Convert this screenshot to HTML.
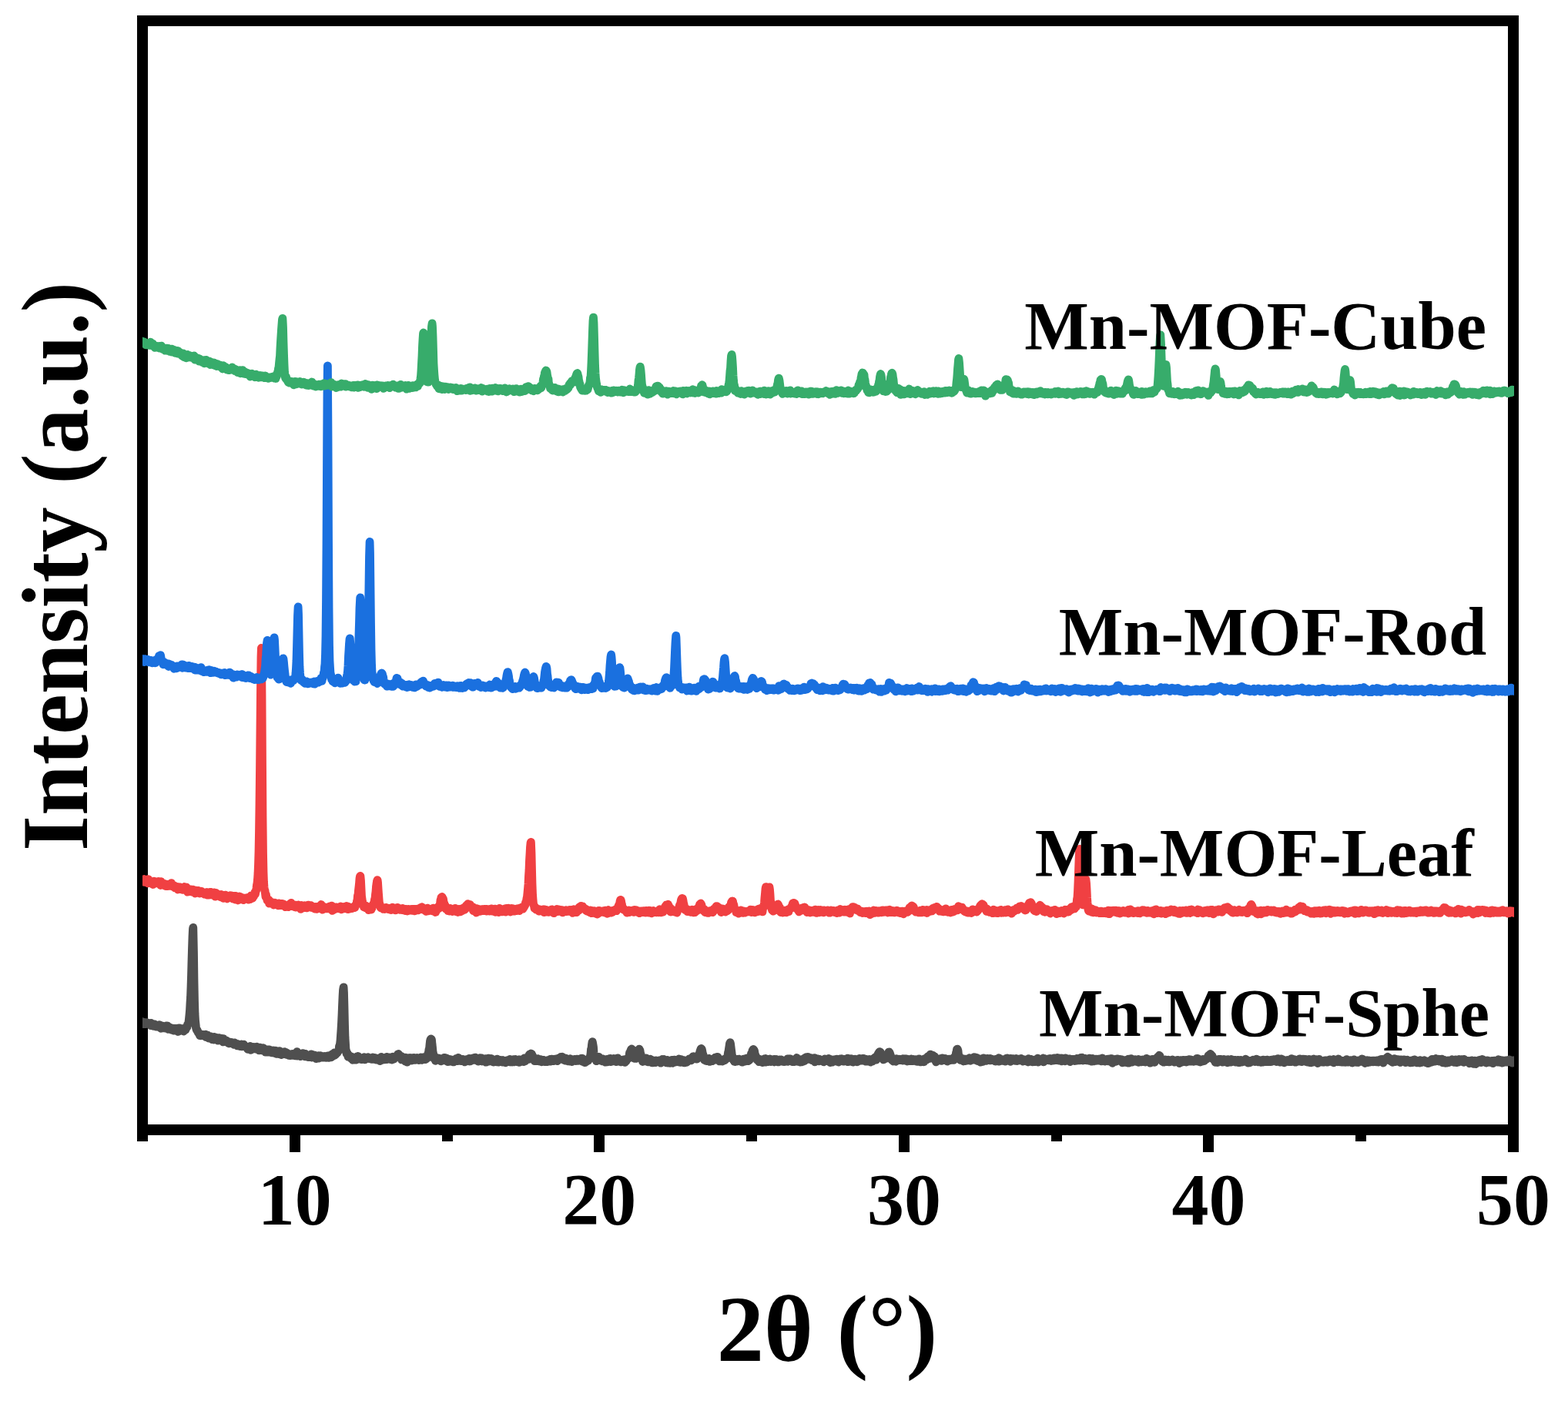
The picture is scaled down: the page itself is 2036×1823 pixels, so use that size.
<!DOCTYPE html>
<html lang="en"><head><meta charset="utf-8"><title>XRD patterns</title>
<style>
html,body{margin:0;padding:0;background:#fff;}
body{width:2036px;height:1823px;overflow:hidden;}
svg{display:block;}
text{font-family:"Liberation Serif","Times New Roman",serif;font-weight:bold;fill:#000;}
</style></head>
<body>
<svg width="2036" height="1823" viewBox="0 0 2036 1823" role="img" aria-label="XRD patterns of Mn-MOF samples">
<rect x="0" y="0" width="2036" height="1823" fill="#ffffff"/>
<g fill="#000" shape-rendering="crispEdges">
<rect x="178" y="20" width="1794" height="14"/>
<rect x="178" y="1460" width="1794" height="14"/>
<rect x="178" y="20" width="14" height="1462"/>
<rect x="1958" y="20" width="14" height="1476"/>
<rect x="178" y="1467" width="14" height="15"/>
<rect x="376" y="1467" width="14" height="29"/>
<rect x="574" y="1467" width="14" height="15"/>
<rect x="771" y="1467" width="14" height="29"/>
<rect x="969" y="1467" width="14" height="15"/>
<rect x="1167" y="1467" width="14" height="29"/>
<rect x="1365" y="1467" width="14" height="15"/>
<rect x="1562" y="1467" width="14" height="29"/>
<rect x="1760" y="1467" width="14" height="15"/>
<rect x="1958" y="1467" width="14" height="29"/>
</g>
<defs><clipPath id="plotclip"><rect x="185" y="0" width="1781" height="1823"/></clipPath></defs>
<g fill="none" stroke-width="10.8" stroke-linejoin="round" stroke-linecap="butt" clip-path="url(#plotclip)">
<path stroke="#4f4f4f" d="M177 1328.8
l.5 -2.2 .5 -.2 .5 -2.3 .5 3 .5 -.3 .5 -.2 .5 1 .5 .2 .5 -1.6 .5 .3 .5 .6 .5 1.3 .5 0 .5 -2 .5 .3 .5 2 .5 1 .5 -1.8 .5 -.7 .5 1.9 .5 -1.5 .5 1.2 .5 .9 .5 -.9 .5 -.6 .5 .9 .5 -1.4 .5 .7 .5 -.3 .5 .6 .5 -.1 .5 .5 .5 -.1 .5 .6 .5 .2 .5 .4 .5 1.3 .5 -3.1 .5 3.3 .5 -1.5 .5 -.9 .5 1.4 .5 .4 .5 1.3 .5 -2.2 .5 1.6 .5 0 .5 -1.9 .5 .6 .5 2 .5 .1 .5 .5 .5 -.6 .5 -.1 .5 -.3 .5 1.3 .5 -2.2 .5 .9 .5 .7 .5 -2.1
l.5 3.3 .5 -2.2 .5 .9 .5 2.6 .5 -3.2 .5 .4 .5 2.4 .5 -2.8 .5 .8 .5 1 .5 0 .5 .2 .5 -.2 .5 1.1 .5 -.3 .5 -.4 .5 -1.3 .5 .1 .5 -1.3 .5 3 .5 -2.7 .5 3.1 .5 1.2 .5 -3.1 .5 .5 .5 .4 .5 1.7 .5 -1.7 .5 1 .5 -.2 .5 .5 .5 1.9 .5 -2.3 .5 1.4 .5 .4 .5 .8 .5 -2.3 .5 2.8 .5 -.7 .5 .5 .5 -.8 .5 -1.9 .5 1 .5 1.6 .5 -.8 .5 -.1 .5 2 .5 .5 .5 -2.5 .5 2.2 .5 -4.3 .5 0 .5 3.2 .5 -1.2 .5 1 .5 -.1 .5 -.6 .5 .9 .5 -.6 .5 -1.9
l.5 1.9 .5 -.2 .5 1.7 .5 -3.5 .5 1 .5 -.9 .5 0 .5 1.5 .5 -2 .5 -1.5 .5 -.1 .5 -.1 .5 -3.1 .5 -.5 .5 .2 .5 -3.2 .5 -4.3 .5 -4.9 .5 -5.6 .5 -9.5 .5 -7.4 .5 -13.4 .5 -15.4 .5 -18.6 .5 -16.9 .5 -14.6 .5 -10.1 .3 -1.7 .7 33.9 .5 36.6 .5 24.9 .5 16.3 .5 8.6 .5 4.7 .5 5.2 .5 1.8 .5 1.4 .5 -.4 .5 1.1 .5 1.9 .5 .2 .5 1.1 .5 -.4 .5 1.8 .5 1.5 .5 0 .5 .2 .5 -1.5 .5 1.1 .5 -1.3 .5 1.5 .5 -1.3 .5 0 .5 0 .5 1.6 .5 -.4 .5 .1 .5 -1.3 .5 1.5 .5 -1.6
l.5 3.4 .5 -1.6 .5 .5 .5 -.1 .5 -1.3 .5 .5 .5 1.7 .5 1.9 .5 -2.6 .5 .7 .5 .9 .5 -1.6 .5 .2 .5 1.5 .5 .5 .5 -.3 .5 2.2 .5 -1.8 .5 .6 .5 1.4 .5 .1 .5 -3.6 .5 1.4 .5 1.8 .5 -2.7 .5 .6 .5 -.3 .5 .1 .5 .4 .5 1.6 .5 1.3 .5 .5 .5 -1.5 .5 -2 .5 2.3 .5 -.2 .5 .9 .5 -.4 .5 -1.8 .5 2.6 .5 -2.7 .5 1.7 .5 1.2 .5 .1 .5 1.5 .5 -4.2 .5 3 .5 .5 .5 -1 .5 1.1 .5 -1.8 .5 2.1 .5 0 .5 -1.5 .5 .5 .5 .7 .5 -.3 .5 2.1 .5 -.7 .5 1.5
l.5 .1 .5 -1 .5 -.1 .5 -.7 .5 .3 .5 .1 .5 1.3 .5 -1.3 .5 1.1 .5 .1 .5 -.7 .5 .4 .5 1.8 .5 .2 .5 -2.5 .5 .7 .5 -.1 .5 .3 .5 2.1 .5 -.7 .5 .9 .5 .7 .5 -2.2 .5 .5 .5 .5 .5 1.3 .5 -1.1 .5 1 .5 .7 .5 .1 .5 -.6 .5 -1.3 .5 -.8 .5 3 .5 -.7 .5 -1.5 .5 .5 .5 .2 .5 -1.3 .5 2.3 .5 -1 .5 .7 .5 1.3 .5 -.6 .5 .9 .5 .1 .5 -.2 .5 .3 .5 2.2 .5 -2 .5 2.3 .5 -2.6 .5 2 .5 -.4 .5 -.9 .5 -2 .5 4.8 .5 -3.1 .5 .2 .5 1.2
l.5 -.2 .5 .1 .5 -.7 .5 -1.4 .5 2.5 .5 -2.1 .5 1.2 .5 .3 .5 .7 .5 -1.5 .5 0 .5 .3 .5 -1.7 .5 1.4 .5 -.1 .5 0 .5 1.6 .5 -.4 .5 2.2 .5 0 .5 -3.6 .5 2.3 .5 -1.1 .5 1.8 .5 -.4 .5 1 .5 -.5 .5 .7 .5 -1 .5 -2.3 .5 1.7 .5 .5 .5 .6 .5 -.5 .5 3 .5 -1.9 .5 1.7 .5 -1.8 .5 2.2 .5 -3.2 .5 2 .5 -2.1 .5 2 .5 1.3 .5 -3.4 .5 .9 .5 1.4 .5 -.3 .5 -1.2 .5 2.9 .5 -1.1 .5 1.4 .5 -1 .5 -1.6 .5 .8 .5 2.1 .5 -3.1 .5 1.1 .5 1.2 .5 .5
l.5 -.1 .5 -2.5 .5 4.1 .5 -2.3 .5 .3 .5 .1 .5 -.1 .5 -.6 .5 .8 .5 2 .5 -2.9 .5 -1 .5 3.4 .5 -.2 .5 .6 .5 1.1 .5 -2.6 .5 1 .5 .4 .5 .7 .5 -.2 .5 -2.2 .5 -.6 .5 1.1 .5 -1.5 .5 3 .5 -1.7 .5 .1 .5 -.5 .5 2.8 .5 -1.2 .5 -.6 .5 1.3 .5 -.5 .5 1 .5 1 .5 -1.5 .5 1 .5 .1 .5 .8 .5 -.6 .5 -.6 .5 -.7 .5 1.1 .5 -1.5 .5 1.9 .5 -.6 .5 .5 .5 -1.2 .5 -.3 .5 -.1 .5 2.2 .5 -1.5 .5 0 .5 -1.7 .5 1.9 .5 -3.8 .5 5.4 .5 -1.8 .5 .4
l.5 -1.5 .5 .4 .5 2 .5 -.8 .5 .8 .5 1 .5 -.7 .5 -2.8 .5 1 .5 -.2 .5 .2 .5 -1.4 .5 0 .5 1.4 .5 .2 .5 1.3 .5 -.9 .5 2.1 .5 -3.4 .5 .6 .5 2 .5 -.5 .5 -.6 .5 2.1 .5 .4 .5 .3 .5 -1.8 .5 .5 .5 .3 .5 -.2 .5 1 .5 -1.6 .5 .9 .5 -2.9 .5 3.3 .5 .9 .5 -1.8 .5 1.2 .5 -2.9 .5 1.5 .5 -1.3 .5 2.2 .5 .3 .5 -2.1 .5 .7 .5 .3 .5 3.4 .5 -2.7 .5 .3 .5 .3 .5 0 .5 -.6 .5 -1.2 .5 .8 .5 2.5 .5 -1.5 .5 -.7 .5 -1.1 .5 1.5 .5 0
l.5 -.7 .5 1.6 .5 -1.7 .5 .5 .5 1 .5 -.7 .5 1 .5 -1.5 .5 -.2 .5 1 .5 -.3 .5 1.1 .5 -.8 .5 -.4 .5 .5 .5 .3 .5 -2 .5 1.1 .5 -.3 .5 1.7 .5 -1.9 .5 1.6 .5 -2.6 .5 1.3 .5 1.1 .5 -1.6 .5 1.4 .5 -3.7 .5 2 .5 -.1 .5 -.6 .5 -1.8 .5 2.1 .5 -3.6 .5 3.3 .5 -1 .5 .4 .5 -1.7 .5 -1.3 .5 .2 .5 -.4 .5 .6 .5 -1.7 .5 -.1 .5 -.9 .5 -.4 .5 -5.6 .5 -.8 .5 -2.1 .5 -4.4 .5 -7.1 .5 -7 .5 -8.8 .5 -10.2 .5 -12.3 .5 -11.3 .5 -8.8 .6 -3.8 .4 7 .5 19.2
l.5 22.3 .5 16.6 .5 8.1 .5 8.3 .5 .7 .5 4.1 .5 -.4 .5 -.3 .5 2.5 .5 2.3 .5 -2.1 .5 1.6 .5 -1.2 .5 .5 .5 1.8 .5 -.4 .5 1 .5 1 .5 -2.4 .5 .7 .5 .9 .5 2.7 .5 -2.9 .5 -.1 .5 1 .5 1.8 .5 -3 .5 .3 .5 .4 .5 .7 .5 1.6 .5 -3.8 .5 -.4 .5 2 .5 .5 .5 -2.9 .5 1.8 .5 1.8 .5 -1.5 .5 1.2 .5 -.3 .5 .6 .5 -.2 .5 -.3 .5 1.1 .5 -2.1 .5 .7 .5 1 .5 -1.9 .5 .1 .5 -.5 .5 -.3 .5 3.2 .5 -1.8 .5 1.5 .5 -1.3 .5 -.8 .5 -.4 .5 .6 .5 -.4
l.5 1.1 .5 -1.8 .5 1.2 .5 .5 .5 -.6 .5 .2 .5 1 .5 .2 .5 -.6 .5 .2 .5 -.5 .5 1.2 .5 -.7 .5 -1.7 .5 1.3 .5 .9 .5 -.4 .5 -1.4 .5 1.7 .5 -.1 .5 0 .5 1 .5 -2 .5 1.2 .5 -.9 .5 1.5 .5 .3 .5 -.6 .5 .3 .5 -1.6 .5 1.7 .5 -1.9 .5 3.7 .5 -1 .5 -3 .5 -1.3 .5 4.3 .5 -2.5 .5 1.4 .5 -2.1 .5 1.3 .5 -.9 .5 1.3 .5 -1.2 .5 1.9 .5 -2.5 .5 2.2 .5 -1.4 .5 .6 .5 -2.3 .5 -.1 .5 3.1 .5 -2.4 .5 1 .5 0 .5 -.6 .5 1.2 .5 -1.8 .5 .3 .5 2.3
l.5 -2 .5 1.7 .5 -.1 .5 .9 .5 -1.3 .5 -2.5 .5 1.2 .5 .2 .5 1.6 .5 -1.1 .5 -1.2 .5 .6 .5 -1.3 .5 .4 .5 -1.1 .5 .3 .5 -1.5 .5 -.1 .5 -1.4 .5 -.1 .4 -.2 .6 .7 .5 .7 .5 .7 .5 .8 .5 1.1 .5 1.5 .5 -2.4 .5 4.3 .5 -3.7 .5 2.6 .5 -.1 .5 1.2 .5 -.5 .5 -.2 .5 .2 .5 1 .5 1.6 .5 -2.1 .5 -2.7 .5 1.8 .5 .9 .5 3.2 .5 -4.6 .5 .4 .5 .9 .5 -.3 .5 -1.9 .5 2.5 .5 -2.5 .5 1.1 .5 1.8 .5 -2.9 .5 1.2 .5 2.2 .5 -2.1 .5 -.8 .5 .5 .5 1.6 .5 -2.7
l.5 1 .5 -1 .5 .3 .5 2.6 .5 -1.5 .5 -.5 .5 .9 .5 -1.3 .5 -.5 .5 2.6 .5 -.3 .5 -1.9 .5 1.7 .5 .9 .5 -1.1 .5 .1 .5 -1.9 .5 1.2 .5 -1.9 .5 3.3 .5 -1.5 .5 1.7 .5 -2.4 .5 1.8 .5 -2.8 .5 1.3 .5 .9 .5 -.3 .5 -.5 .5 -1.9 .5 3.1 .5 -1 .5 .3 .5 -.5 .5 -2.3 .5 -.1 .5 1.2 .5 -5.7 .5 -.9 .5 -4 .5 -.8 .5 -5.4 .5 -4.6 .5 -2 .7 -.9 .3 .1 .5 1.3 .5 5.4 .5 4.2 .5 5.5 .5 2.2 .5 3.5 .5 3.2 .5 -2.2 .5 .5 .5 2.9 .5 1.8 .5 -3.4 .5 -.8 .5 1.7
l.5 0 .5 1.3 .5 -1.8 .5 1 .5 .1 .5 -1.3 .5 .1 .5 2.3 .5 .2 .5 -1.4 .5 2.6 .5 -.7 .5 -.6 .5 .1 .5 -.3 .5 .3 .5 .1 .5 -1 .5 -2.4 .5 2.1 .5 -.8 .5 -.4 .5 2 .5 -2.6 .5 3 .5 -1.6 .5 -.6 .5 .5 .5 3.7 .5 -.9 .5 -1.8 .5 1.6 .5 .8 .5 -2.9 .5 .7 .5 1.3 .5 -.6 .5 -.9 .5 2.1 .5 -1.3 .5 .2 .5 1.7 .5 -2.2 .5 2.4 .5 -2.6 .5 -.5 .5 .3 .5 .9 .5 -.2 .5 -.3 .5 -2.1 .5 .5 .5 .9 .5 1.1 .5 .8 .5 -4.3 .5 2.5 .5 -.3 .5 .4 .5 .4
l.5 -1.1 .5 -.5 .5 2.8 .5 -.2 .5 -1.2 .5 .5 .5 -.6 .5 -.7 .5 2.4 .5 -1.5 .5 -.5 .5 .6 .5 2.5 .5 -1.4 .5 -.2 .5 -.2 .5 .8 .5 -.2 .5 -2.3 .5 1.2 .5 -.5 .5 1 .5 -.4 .5 -2.2 .5 3.5 .5 -1 .5 -2.4 .5 3.2 .5 -1.2 .5 .3 .5 -.7 .5 .1 .5 -.9 .5 -1.4 .5 1.1 .5 .8 .5 -.2 .5 .7 .5 -.9 .5 -2.4 .5 3.4 .5 -1.7 .5 -.5 .5 1.2 .5 -1.1 .5 1.9 .5 -1.4 .5 3.3 .5 -2.5 .5 -.3 .5 -.1 .5 -1.6 .5 1.4 .5 .2 .5 .6 .5 -2.1 .5 2.7 .5 1.5 .5 -1.8 .5 .5
l.5 .6 .5 -1.3 .5 .4 .5 1.6 .5 -.9 .5 -1.7 .5 -.7 .5 4.5 .5 -2.2 .5 -2.3 .5 1.8 .5 .5 .5 -.7 .5 -2.2 .5 4.1 .5 -1.4 .5 -.8 .5 1 .5 -.9 .5 0 .5 1.5 .5 -3.1 .5 3.5 .5 -.6 .5 .6 .5 .2 .5 .8 .5 0 .5 -.6 .5 -1.4 .5 1.3 .5 -1.3 .5 -.6 .5 1.6 .5 -.1 .5 .9 .5 -3.7 .5 3.1 .5 .1 .5 -.6 .5 1.5 .5 -2.6 .5 1.3 .5 -.8 .5 .3 .5 -1.1 .5 .9 .5 .9 .5 -.6 .5 .3 .5 -1.2 .5 2.6 .5 -2.5 .5 .9 .5 .7 .5 -.8 .5 1.1 .5 -.6 .5 1.8 .5 -1.3
l.5 -.2 .5 -1.4 .5 1.3 .5 .5 .5 -.7 .5 -1.7 .5 .4 .5 .2 .5 .2 .5 -1.7 .5 3.6 .5 -2.3 .5 .2 .5 -.6 .5 .4 .5 2.3 .5 -3.2 .5 .6 .5 -.5 .5 .6 .5 2.4 .5 -2.3 .5 .3 .5 -1.5 .5 1.7 .5 .8 .5 -.8 .5 .2 .5 1.4 .5 -.3 .5 -.7 .5 -.8 .5 -.9 .5 3.4 .5 -3.6 .5 2.3 .5 -1 .5 -.7 .5 1.7 .5 -1.9 .5 2.1 .5 -2.6 .5 1.5 .5 .8 .5 -2.6 .5 3.3 .5 -1.4 .5 -3.5 .5 3.8 .5 .4 .5 -2.5 .5 -.1 .5 .4 .5 -2.7 .5 2 .5 .5 .5 -2.1 .5 1.2 .5 .6 .5 -5.5
l.5 -.7 .5 .3 .5 .6 .5 -1.1 .5 -.8 .3 .1 .7 .3 .5 3.3 .5 -1.3 .5 1.7 .5 2.8 .5 -.5 .5 -.1 .5 3.1 .5 -.9 .5 -1 .5 .5 .5 1.5 .5 -1.4 .5 .7 .5 .7 .5 .1 .5 -3.1 .5 1.5 .5 .2 .5 .5 .5 .8 .5 .5 .5 -1.8 .5 -.7 .5 1.5 .5 -.9 .5 2.6 .5 -1.5 .5 -.3 .5 1.1 .5 -1.8 .5 .4 .5 .2 .5 1 .5 .7 .5 -.5 .5 0 .5 -1 .5 .7 .5 -.7 .5 1.5 .5 -2 .5 .6 .5 .3 .5 .5 .5 -1.7 .5 .5 .5 -.7 .5 -.7 .5 2.7 .5 -.8 .5 -2.2 .5 .5 .5 1.6
l.5 -1.3 .5 -.6 .5 2.4 .5 -2 .5 0 .5 1 .5 -1.5 .5 .7 .5 .1 .5 .6 .5 -1.7 .5 2 .5 -.9 .5 1.6 .5 -1.8 .5 -1 .5 -.2 .5 -.9 .5 .9 .5 -.4 .5 .7 .5 -1.3 .5 -1.3 .5 1.3 .5 -1.2 .4 -.1 .6 1 .5 1.1 .5 -1.4 .5 1.3 .5 2.1 .5 .1 .5 0 .5 .7 .5 -3.1 .5 2.2 .5 -1.2 .5 .9 .5 .3 .5 .9 .5 .7 .5 -.5 .5 -.5 .5 -.7 .5 1.8 .5 -1.1 .5 -2.2 .5 1.9 .5 .7 .5 -1.5 .5 1.3 .5 1.4 .5 -1.9 .5 .2 .5 0 .5 -1.1 .5 .5 .5 -.7 .5 .8 .5 -.7
l.5 2 .5 -1.2 .5 1 .5 -2.3 .5 1.3 .5 .7 .5 .1 .5 -1.5 .5 .5 .5 .2 .5 -.6 .5 0 .5 1 .5 -1.8 .5 -.7 .5 1.6 .5 1 .5 -2.7 .5 4.2 .5 -1.2 .5 .7 .5 -1.5 .5 1 .5 2.1 .5 .1 .5 -1.4 .5 -1.1 .5 .1 .5 1.5 .5 -2.4 .5 -.5 .5 .7 .5 .9 .5 -2.5 .5 1.1 .5 -.6 .5 -1.3 .5 -1.8 .5 -.9 .5 -3.3 .5 -5.8 .5 -.7 .5 -5.3 .5 -3.1 .3 -.6 .7 3.9 .5 3.1 .5 7.1 .5 4.7 .5 2.6 .5 .1 .5 -1 .5 1.8 .5 1 .5 1.8 .5 -3.3 .5 1.7 .5 .5 .5 -.1 .5 -1
l.5 -3.1 .5 3.7 .5 -.6 .5 .4 .5 -1.6 .5 .6 .5 2.3 .5 -1.6 .5 .3 .5 -.5 .5 2.5 .5 -3 .5 1.5 .5 1.3 .5 -.4 .5 1.1 .5 -.4 .5 1.2 .5 -1.9 .5 .1 .5 .4 .5 -2.3 .5 3.4 .5 -2.7 .5 2.2 .5 .2 .5 -.6 .5 -1 .5 -1 .5 -1.7 .5 3 .5 -.9 .5 2.2 .5 -2.3 .5 1.1 .5 -1.2 .5 .9 .5 -.9 .5 .2 .5 -1.9 .5 1.3 .5 .6 .5 1.7 .5 -1.1 .5 -1.6 .5 3.3 .5 -1.3 .5 1 .5 -2.1 .5 -2.5 .5 3 .5 -.2 .5 1.5 .5 -2 .5 .7 .5 -.6 .5 1.5 .5 -1.3 .5 2.5 .5 -.8
l.5 -.1 .5 -1.3 .5 .5 .5 .6 .5 -1.9 .5 2.4 .5 -1.5 .5 1.5 .5 1.1 .5 -.8 .5 -3.1 .5 2.4 .5 -1.9 .5 -.3 .5 -.2 .5 -1.5 .5 1 .5 -1.9 .5 1 .5 -2.2 .5 -4.8 .5 0 .5 -1.9 .5 -1.3 .5 -1.3 .7 -.6 .3 .2 .5 1 .5 3.6 .5 2.9 .5 1.2 .5 2.9 .5 .3 .5 -.5 .5 .4 .5 .3 .5 .1 .5 -1.2 .5 -.2 .5 -1.1 .5 -4.1 .5 -2 .5 -.7 .5 -1.2 .5 -1.1 .5 -.6 .5 .8 .5 .9 .5 3.6 .5 1.3 .5 3.3 .5 2.2 .5 -.6 .5 1.3 .5 3.5 .5 -3.2 .5 .5 .5 -.5 .5 -.2 .5 2.8
l.5 -1.7 .5 .1 .5 -.1 .5 -2.2 .5 4 .5 -1.4 .5 .6 .5 1.6 .5 -1.6 .5 .3 .5 .1 .5 1.3 .5 -2.9 .5 .9 .5 -1.8 .5 2.5 .5 .7 .5 -1.2 .5 2.7 .5 -1.1 .5 1.1 .5 -1.9 .5 1.8 .5 -2.6 .5 1.1 .5 -.3 .5 -.6 .5 2.3 .5 -.3 .5 -2.3 .5 1.5 .5 -.7 .5 .1 .5 .4 .5 -1.2 .5 .7 .5 .1 .5 -1 .5 .1 .5 1.5 .5 -.9 .5 2.6 .5 -.2 .5 -3.1 .5 1.2 .5 -2.6 .5 1.6 .5 -.3 .5 .2 .5 -1.6 .5 2.7 .5 -.1 .5 -1.1 .5 .9 .5 1.1 .5 .9 .5 -3.2 .5 3.3 .5 -3.6 .5 1.1
l.5 .6 .5 2.2 .5 -1 .5 0 .5 1.1 .5 -1.5 .5 -.7 .5 2.1 .5 -1.9 .5 -1.2 .5 -.6 .5 2.1 .5 1.8 .5 -1.4 .5 -.9 .5 1.2 .5 -3.1 .5 2 .5 -1.2 .5 2 .5 -2.5 .5 1.7 .5 -.7 .5 -.2 .5 .7 .5 -.9 .5 1.8 .5 -1.8 .5 -2.1 .5 4.2 .5 -.1 .5 -.8 .5 1 .5 -.7 .5 -1.6 .5 -1.3 .5 1.2 .5 .9 .5 .9 .5 -2.1 .5 .6 .5 2.7 .5 -2.5 .5 -.1 .5 -.3 .5 2.8 .5 -1.1 .5 -.1 .5 .7 .5 -1 .5 .3 .5 -1.3 .5 .4 .5 -.4 .5 -.2 .5 -2.2 .5 .9 .5 -.4 .5 -.6 .5 .4
l.5 1.7 .5 -1.3 .5 -1.3 .5 -.2 .5 .2 .5 -2.4 .5 -.1 .5 .9 .5 1.7 .5 -.1 .5 .1 .5 -2.2 .5 1.5 .5 .9 .5 .5 .5 -.1 .5 -3.3 .5 1.4 .5 0 .5 -2.2 .5 -.8 .5 -.9 .5 -2.2 .5 -2.1 .5 -1.4 .5 -1.3 .5 -.7 .5 .3 .5 1.5 .5 2.5 .5 2.9 .5 .6 .5 2.6 .5 1.8 .5 2.6 .5 -.3 .5 -.4 .5 1.4 .5 -.6 .5 .2 .5 .9 .5 -.7 .5 -.2 .5 .7 .5 -1.4 .5 .7 .5 -2.3 .5 1.9 .5 2.2 .5 -2.1 .5 .4 .5 -.4 .5 -.7 .5 1.6 .5 -.6 .5 1 .5 -2.3 .5 .7 .5 -.7 .5 -.7
l.5 1.5 .5 -2.5 .5 -.4 .5 3 .5 -3.2 .5 -.3 .5 -.1 .5 -.2 .5 1.1 .5 -1.1 .5 1.3 .5 .3 .5 2.6 .5 -.4 .5 1.7 .5 0 .5 -2.4 .5 1.4 .5 -1 .5 -.1 .5 2 .5 .3 .5 -1.4 .5 .2 .5 0 .5 -.1 .5 0 .5 -1.7 .5 1.6 .5 -1.6 .5 -.9 .5 .6 .5 -.2 .5 -.4 .5 -1.9 .5 -2 .5 -3.5 .5 -1.8 .5 -3.5 .5 -3.2 .5 -3.4 .6 -1.2 .4 1.3 .5 4 .5 4.1 .5 3.7 .5 4.7 .5 -.1 .5 2.6 .5 1.2 .5 1.6 .5 -.6 .5 2.1 .5 -3.4 .5 3.7 .5 -1.3 .5 .7 .5 -1.5 .5 1.7 .5 -1.5
l.5 .7 .5 -1.9 .5 2.2 .5 -.4 .5 -2.2 .5 1.9 .5 -.3 .5 1.3 .5 -1.7 .5 1 .5 1.2 .5 -2.4 .5 3.1 .5 -1.8 .5 -.5 .5 -1.3 .5 -.4 .5 2.9 .5 -1.6 .5 -.3 .5 1.8 .5 -.6 .5 -.7 .5 -1.9 .5 -.7 .5 3.1 .5 -1.3 .5 -.4 .5 2.2 .5 -2.9 .5 .6 .5 1.5 .5 -2.3 .5 -2.1 .5 -1.3 .5 1 .5 -4.2 .5 .6 .5 -.9 .5 -3.5 .5 -.6 .5 -1.1 .3 -.1 .7 1.1 .5 .8 .5 3.1 .5 1.9 .5 1 .5 2 .5 .1 .5 1.4 .5 2.3 .5 -2.2 .5 2.8 .5 0 .5 -.4 .5 2.4 .5 -.7 .5 -1.3 .5 1
l.5 .8 .5 -2.8 .5 1.9 .5 -.5 .5 .6 .5 1.8 .5 -3 .5 .3 .5 -.9 .5 1.6 .5 .5 .5 -3.4 .5 4.4 .5 .2 .5 -4.7 .5 1.2 .5 2.2 .5 -.5 .5 1.2 .5 -1.7 .5 1.7 .5 -3 .5 1.9 .5 -1 .5 -.1 .5 -1.4 .5 1.5 .5 2 .5 -2.2 .5 .5 .5 .5 .5 -1.2 .5 1.4 .5 .4 .5 -.9 .5 -1.7 .5 3.7 .5 -1.6 .5 -.1 .5 -.3 .5 -.4 .5 -1.2 .5 1.7 .5 .2 .5 .9 .5 .7 .5 -2.6 .5 2.6 .5 -1.7 .5 .6 .5 -1.8 .5 1.6 .5 -1.4 .5 1.8 .5 -2 .5 1.5 .5 -.5 .5 .9 .5 -.1 .5 0
l.5 -.7 .5 1.5 .5 -.3 .5 -1.5 .5 1.6 .5 -1.6 .5 .8 .5 -.3 .5 -.1 .5 .8 .5 -3 .5 3.3 .5 -3.5 .5 3.2 .5 -.9 .5 -2.3 .5 1.9 .5 -.8 .5 -.9 .5 2.7 .5 0 .5 -.7 .5 1.5 .5 -1.5 .5 -.3 .5 1.9 .5 -2.2 .5 1.9 .5 .4 .5 -.9 .5 -.1 .5 .4 .5 -.3 .5 -1.1 .5 -3.2 .5 3.3 .5 -1.1 .5 2.6 .5 -1.7 .5 .7 .5 .5 .5 .2 .5 -2.2 .5 3.4 .5 -1.4 .5 -.4 .5 -1.7 .5 3.2 .5 -1.6 .5 .4 .5 -1.8 .5 2.3 .5 -.7 .5 -2 .5 2 .5 -3.8 .5 1.8 .5 -.6 .5 -.4 .5 -1.9
l.5 .1 .5 .8 .5 -.8 .4 -.3 .6 .2 .5 .2 .5 2.5 .5 -1.1 .5 .1 .5 -1 .5 .6 .5 1.2 .5 -.7 .5 2.1 .5 .2 .5 -.7 .5 .6 .5 .3 .5 -1.9 .5 2.6 .5 -4 .5 5.2 .5 -3.9 .5 1.6 .5 -.4 .5 .8 .5 -1.2 .5 1.5 .5 -2.3 .5 2.7 .5 -1.2 .5 .8 .5 .7 .5 -2.5 .5 .7 .5 -.2 .5 .6 .5 .3 .5 .6 .5 -.6 .5 -.4 .5 .8 .5 .5 .5 -.1 .5 1.3 .5 -3.1 .5 .9 .5 -1.8 .5 .7 .5 1.4 .5 .7 .5 -1.9 .5 1.1 .5 -.4 .5 .6 .5 -.2 .5 -.7 .5 -1.8 .5 1 .5 2.2
l.5 -.5 .5 2.5 .5 -2.2 .5 1 .5 -2.4 .5 -.2 .5 1.7 .5 1.6 .5 -1.5 .5 -.9 .5 .7 .5 .2 .5 -.3 .5 -.5 .5 -1.2 .5 -.2 .5 .7 .5 .4 .5 -1.4 .5 3.2 .5 -1.2 .5 -1.3 .5 1.4 .5 1.8 .5 -2.4 .5 0 .5 .9 .5 -2.6 .5 .9 .5 -.2 .5 1.8 .5 -2.7 .5 2.2 .5 -.9 .5 .3 .5 -.3 .5 2.2 .5 -2.6 .5 -.3 .5 1.6 .5 -1 .5 1.2 .5 -.7 .5 .1 .5 0 .5 -1.9 .5 -.4 .5 4.5 .5 -3.6 .5 1.8 .5 -1.8 .5 1.1 .5 -.3 .5 1.9 .5 -1.8 .5 -1.4 .5 .2 .5 2 .5 .8 .5 1.3
l.5 .3 .5 -3.8 .5 1.5 .5 -1.2 .5 1.7 .5 .7 .5 -2.9 .5 3 .5 -.2 .5 -1.1 .5 -.5 .5 2.4 .5 -2 .5 -1.2 .5 1.3 .5 .9 .5 -.4 .5 -3 .5 .6 .5 1 .5 .5 .5 -.1 .5 -1.6 .5 2.4 .5 -.6 .5 -2.3 .5 .7 .5 .9 .5 -1.5 .5 1.7 .5 .1 .5 -.6 .5 1.1 .5 1.4 .5 -2.7 .5 1.3 .5 -.9 .5 2.3 .5 -.2 .5 -1.2 .5 -.6 .5 1.6 .5 -.9 .5 -1.3 .5 .2 .5 .9 .5 2.5 .5 -1.3 .5 .2 .5 -.6 .5 .4 .5 .1 .5 -2.9 .5 1.8 .5 0 .5 -.2 .5 -.1 .5 -3.4 .5 2.9 .5 -2
l.5 2.2 .5 -2.1 .5 -.5 .5 -.6 .5 -3.3 .5 .7 .5 -2.6 .5 .9 .5 -2.5 .5 -.6 .4 .1 .6 .4 .5 .5 .5 2.4 .5 1.4 .5 1.8 .5 -.4 .5 2.9 .5 -.4 .5 1.6 .5 -1 .5 -1.7 .5 2.2 .5 -1.6 .5 .3 .5 -3.2 .5 .9 .5 2.3 .5 -1.1 .5 -4.1 .5 1.2 .5 -1.1 .5 -.3 .5 -2.6 .6 -.1 .4 .6 .5 1 .5 1.8 .5 1.4 .5 3.9 .5 -1.2 .5 2.9 .5 .2 .5 -1 .5 2 .5 .4 .5 -.9 .5 -.6 .5 1 .5 -1.6 .5 1.3 .5 1.1 .5 -3.2 .5 -.5 .5 2.8 .5 -1.8 .5 .4 .5 .6 .5 -.9 .5 .8
l.5 -1.3 .5 .4 .5 .4 .5 .6 .5 -1.2 .5 .7 .5 .2 .5 -.1 .5 -.8 .5 1.6 .5 -2.3 .5 2 .5 0 .5 0 .5 -1.5 .5 1.8 .5 -.4 .5 -1.7 .5 1 .5 -1 .5 1.9 .5 1.2 .5 -.5 .5 -2.2 .5 0 .5 .9 .5 .1 .5 1 .5 -1.2 .5 1.6 .5 -1.7 .5 1.7 .5 -2.7 .5 1.1 .5 .6 .5 1 .5 -.3 .5 -1.5 .5 -.4 .5 1.4 .5 0 .5 -.3 .5 .5 .5 -1.5 .5 2.1 .5 .5 .5 -2.1 .5 0 .5 2.3 .5 -.2 .5 -2.2 .5 .1 .5 -1.3 .5 2.3 .5 -.4 .5 -.2 .5 2.4 .5 -2.7 .5 .1 .5 .4
l.5 -.5 .5 1.4 .5 -1.4 .5 .3 .5 2.3 .5 -3.2 .5 -.8 .5 1.4 .5 -1 .5 -.2 .5 .7 .5 .5 .5 -2.9 .5 1.1 .5 -2.4 .5 2.9 .5 -2.5 .5 1.4 .5 .8 .5 -.9 .5 -1.5 .5 -3 .5 3.8 .5 -2.4 .5 .4 .4 -.1 .6 0 .5 2.1 .5 -2.6 .5 1 .5 1.7 .5 2.2 .5 -3.4 .5 4.6 .5 -1.5 .5 1.5 .5 2.4 .5 -2.2 .5 .7 .5 .3 .5 -1.9 .5 .4 .5 -.4 .5 .4 .5 -.6 .5 -.3 .5 -.1 .5 1.4 .5 -2.3 .5 1.6 .5 1.4 .5 -3 .5 -.4 .5 2.7 .5 -1.6 .5 .1 .5 1.5 .5 -.3 .5 -1.1 .5 .4
l.5 -1.2 .5 1 .5 .6 .5 .7 .5 .1 .5 1.3 .5 -2 .5 1.1 .5 -.8 .5 -1.3 .5 1.4 .5 0 .5 .3 .5 -.3 .5 -.4 .5 -1.2 .5 .5 .5 .6 .5 .2 .5 .1 .5 -.7 .5 .1 .5 .6 .5 -1.7 .5 -1.4 .5 -1.9 .5 .3 .5 -1.2 .5 -3.5 .5 -.8 .5 -3.6 .6 -.4 .4 .7 .5 1.6 .5 5.2 .5 .8 .5 1.3 .5 .3 .5 3.6 .5 .8 .5 -2.3 .5 -.2 .5 1.2 .5 .5 .5 -.5 .5 1.2 .5 -1.7 .5 3.4 .5 -1.9 .5 .8 .5 -1.5 .5 1.5 .5 .8 .5 -2.6 .5 1 .5 1 .5 -.6 .5 -1.3 .5 .4 .5 1.2
l.5 -.3 .5 -1.1 .5 1.1 .5 -2.8 .5 2.5 .5 1 .5 -.1 .5 -1.5 .5 .6 .5 -.1 .5 -.5 .5 -1 .5 -.8 .5 .7 .5 -.8 .5 -1.1 .5 3.6 .5 -2.9 .5 .9 .5 0 .5 -1.1 .5 2.5 .5 -2.1 .5 4.1 .5 -3.3 .5 .9 .5 .8 .5 .2 .5 .2 .5 1.3 .5 .3 .5 1.1 .5 -3.9 .5 2.3 .5 -.6 .5 -1.2 .5 -1.3 .5 4.1 .5 -1.4 .5 -3.3 .5 3.7 .5 -1.1 .5 -.1 .5 .7 .5 -1.5 .5 .6 .5 1.3 .5 -2.4 .5 -.3 .5 -.4 .5 2.5 .5 -2.1 .5 .6 .5 -.3 .5 1.1 .5 -.3 .5 -1.4 .5 2.5 .5 -1.1 .5 0
l.5 -.7 .5 .2 .5 .2 .5 .5 .5 .6 .5 .1 .5 -.6 .5 .2 .5 1 .5 .6 .5 .1 .5 -1.4 .5 -1.4 .5 1.6 .5 -.1 .5 -.1 .5 .4 .5 -1.2 .5 .7 .5 -2.8 .5 4.5 .5 -1.9 .5 -.4 .5 1 .5 -.8 .5 -.5 .5 1.7 .5 -.8 .5 -.8 .5 1.5 .5 -.2 .5 0 .5 -.8 .5 1.6 .5 -2.3 .5 1.9 .5 .7 .5 -2.8 .5 1.2 .5 -2.4 .5 1.9 .5 -2 .5 .3 .5 1.6 .5 .9 .5 -.7 .5 -.8 .5 -.6 .5 .9 .5 2.8 .5 -1 .5 -2.9 .5 .8 .5 -.7 .5 2.2 .5 -.8 .5 -1.4 .5 1.6 .5 -.4 .5 -.6
l.5 .8 .5 1.3 .5 -2.1 .5 .6 .5 -1.3 .5 1.1 .5 1.9 .5 -1 .5 -1.5 .5 .1 .5 2 .5 -1.6 .5 -.4 .5 1.8 .5 -1.7 .5 -.3 .5 1.3 .5 -1.8 .5 1 .5 -.3 .5 1.1 .5 -.3 .5 2.2 .5 -1.2 .5 -.8 .5 .6 .5 -.8 .5 .5 .5 .4 .5 0 .5 1.1 .5 -.8 .5 -1.3 .5 1.1 .5 -1.4 .5 3.5 .5 -4.3 .5 2 .5 .7 .5 -1.6 .5 .5 .5 1.6 .5 -2.5 .5 2.3 .5 -1.3 .5 -.1 .5 2.6 .5 -1.4 .5 -.4 .5 -.7 .5 .5 .5 -.4 .5 2.2 .5 -1.9 .5 -1 .5 .2 .5 1 .5 -1.7 .5 .4 .5 -.9
l.5 -.7 .5 5 .5 -2.7 .5 2.2 .5 -1.4 .5 -.3 .5 -1.7 .5 1.1 .5 .2 .5 -1.3 .5 1.7 .5 .5 .5 -.9 .5 -.4 .5 -2.1 .5 4.9 .5 -2.2 .5 -2.2 .5 .1 .5 .6 .5 -.3 .5 1.2 .5 -1 .5 1.2 .5 -.6 .5 .3 .5 -.9 .5 1.5 .5 .2 .5 -1.2 .5 -.9 .5 1.8 .5 -2.1 .5 1 .5 1.3 .5 .8 .5 -1.8 .5 .5 .5 1 .5 -2.7 .5 .5 .5 .8 .5 1.1 .5 -2.9 .5 0 .5 2.4 .5 .3 .5 -2 .5 .8 .5 1 .5 -1.3 .5 -1.8 .5 2.4 .5 .9 .5 -2.4 .5 2.9 .5 -1.7 .5 -1.6 .5 2.3 .5 -1.9
l.5 3.2 .5 -1 .5 1.4 .5 -3.9 .5 2 .5 1.4 .5 -.3 .5 -.6 .5 -.3 .5 .3 .5 .5 .5 .9 .5 -4 .5 .9 .5 .5 .5 .8 .5 .2 .5 -.8 .5 .3 .5 .9 .5 .5 .5 -2.3 .5 .6 .5 .4 .5 2.7 .5 -3.5 .5 1 .5 -.3 .5 -.5 .5 1.5 .5 -1.1 .5 -.4 .5 .7 .5 .3 .5 -.9 .5 -.1 .5 2.2 .5 -1.9 .5 1.7 .5 -1.1 .5 -.8 .5 -.3 .5 -.7 .5 2.6 .5 -.1 .5 -1.3 .5 -.9 .5 .5 .5 .6 .5 1.1 .5 -2.2 .5 -1.2 .5 2 .5 -.6 .5 -.6 .5 -1.1 .5 2.8 .5 1 .5 -2.6 .5 -.4
l.5 1.2 .5 .4 .5 1.1 .5 -.4 .5 -1.9 .5 2.3 .5 .1 .5 -.8 .5 .9 .5 -1.8 .5 1.1 .5 -1.2 .5 1.5 .5 .8 .5 -3.1 .5 2.1 .5 .7 .5 -.7 .5 1.4 .5 -1.9 .5 2.4 .5 -2.4 .5 -1.5 .5 1.1 .5 -.5 .5 2.1 .5 .5 .5 .2 .5 -.9 .5 -.8 .5 -.4 .5 -.4 .5 2.1 .5 -2 .5 1.2 .5 .5 .5 .2 .5 -2.1 .5 0 .5 0 .5 2.1 .5 -2.4 .5 .2 .5 1.6 .5 .3 .5 1 .5 -2 .5 1 .5 -2.9 .5 2.7 .5 .3 .5 .2 .5 -1.5 .5 2.2 .5 .3 .5 -1.7 .5 .1 .5 -.4 .5 .1 .5 .4
l.5 -1.4 .5 -.1 .5 1.3 .5 -.3 .5 1.7 .5 -1.3 .5 -.8 .5 -1 .5 1.6 .5 -.9 .5 -.8 .5 4.1 .5 -4.2 .5 4 .5 1.7 .5 -3.3 .5 -.6 .5 1.3 .5 -1.7 .5 1.2 .5 .5 .5 -2.3 .5 3 .5 -1.7 .5 .1 .5 1.1 .5 -3.1 .5 .1 .5 1.7 .5 .1 .5 -.6 .5 .3 .5 -.1 .5 -.7 .5 -.2 .5 .7 .5 1.1 .5 .4 .5 -1.8 .5 3.4 .5 .7 .5 -2.4 .5 -1.1 .5 .7 .5 1.1 .5 -1 .5 2.2 .5 -2.4 .5 1.3 .5 -.5 .5 1.9 .5 -2.1 .5 0 .5 -1.6 .5 .5 .5 -1.3 .5 5 .5 -3.6 .5 -.4 .5 .3
l.5 .4 .5 .2 .5 -2.5 .5 3.5 .5 -1.3 .5 0 .5 2.2 .5 -1.6 .5 -1.2 .5 0 .5 1.8 .5 -.8 .5 .1 .5 -1.7 .5 1.6 .5 -1 .5 -.1 .5 2.3 .5 -1.1 .5 -.6 .5 1.5 .5 1.1 .5 -3.8 .5 2.8 .5 -.7 .5 -.3 .5 1.6 .5 -.6 .5 -1.4 .5 1.9 .5 -1.6 .5 .2 .5 -1.4 .5 1.5 .5 .6 .5 -1 .5 .4 .5 1.3 .5 -1.6 .5 -.7 .5 2.5 .5 -2.8 .5 -1.9 .5 1.1 .5 .9 .5 -1.2 .5 0 .5 .7 .5 .3 .5 -.1 .5 .3 .5 1.3 .5 2.6 .5 -2.3 .5 -.6 .5 -1.4 .5 .9 .5 -1.3 .5 1.2 .5 -1.2
l.5 2.4 .5 1.1 .5 -1.4 .5 1.8 .5 -4.3 .5 2.1 .5 -1.4 .5 .1 .5 -1.8 .5 .6 .5 -.7 .5 -1.5 .5 1.1 .5 -1.4 .5 -.9 .6 -.9 .4 .2 .5 .4 .5 3.2 .5 1.6 .5 0 .5 0 .5 1.5 .5 .7 .5 .3 .5 -.8 .5 1.6 .5 .1 .5 -2.5 .5 1.3 .5 -.4 .5 -1.6 .5 .7 .5 .9 .5 1 .5 -2.1 .5 .5 .5 .3 .5 -.1 .5 -1 .5 2.6 .5 -1.1 .5 .9 .5 .2 .5 -1.2 .5 -.7 .5 .3 .5 .1 .5 -.4 .5 .4 .5 -1.3 .5 1 .5 -.3 .5 .9 .5 .2 .5 1.4 .5 -.7 .5 -.6 .5 -.7 .5 .1
l.5 .3 .5 -.6 .5 .4 .5 -1 .5 1.5 .5 -1.4 .5 .6 .5 0 .5 3.5 .5 -2.6 .5 1 .5 -2.4 .5 2.1 .5 -1 .5 1.4 .5 -1.5 .5 -.9 .5 2.1 .5 -.8 .5 -1.6 .5 1.3 .5 -.9 .5 1.7 .5 -.7 .5 .3 .5 -1.6 .5 2.5 .5 -2.2 .5 .9 .5 -.6 .5 .3 .5 -1.5 .5 1.3 .5 .3 .5 -1.9 .5 2.5 .5 -2.3 .5 .5 .5 -.1 .5 2 .5 -1.8 .5 .1 .5 .8 .5 -.1 .5 1.1 .5 -1.7 .5 -.2 .5 -.2 .5 -.1 .5 1.7 .5 -.3 .5 -1 .5 .2 .5 -2.3 .5 3.4 .5 -.5 .5 -2.8 .5 1.8 .5 .5 .5 1.8
l.5 -1.2 .5 1.1 .5 .5 .5 -1 .5 -1.8 .5 -.4 .5 1.1 .5 1.1 .5 -.5 .5 -2 .5 2.2 .5 -2 .5 .4 .5 1.4 .5 -1.2 .5 -.9 .5 -.5 .5 .6 .5 -.2 .5 -.9 .5 -1.2 .5 .7 .5 -.2 .5 -3 .5 1.2 .5 -2.1 .5 -.3 .5 .5 .5 -1.5 .5 .2 .5 .9 .5 1.5 .5 -.7 .5 .6 .5 3.7 .5 -.1 .5 .9 .5 -1.3 .5 2.4 .5 -1.5 .5 1.7 .5 2.5 .5 -.6 .5 .4 .5 -1.7 .5 .4 .5 -.9 .5 2.6 .5 -2.9 .5 -1.1 .5 1 .5 1.7 .5 -1.8 .5 .7 .5 -1.8 .5 .9 .5 -.8 .5 .3 .5 .9 .5 1
l.5 1.5 .5 -1.4 .5 -1.8 .5 0 .5 -.4 .5 1.7 .5 -.9 .5 .8 .5 -.9 .5 2.9 .5 -2.1 .5 1.2 .5 -1.2 .5 2.8 .5 -4.2 .5 2.2 .5 .9 .5 -1.5 .5 1 .5 -1.1 .5 1.3 .5 -1.3 .5 2 .5 -3.6 .5 2.7 .5 -1.4 .5 .1 .5 1.2 .5 -1.3 .5 -.1 .5 1.5 .5 -1.9 .5 1 .5 1.5 .5 -2 .5 2.3 .5 -2.5 .5 1.6 .5 -.2 .5 -1.6 .5 2.5 .5 -2.4 .5 3.1 .5 .1 .5 -2.4 .5 .8 .5 -.4 .5 -1.4 .5 .6 .5 .8 .5 0 .5 1.3 .5 -2 .5 -.1 .5 1.3 .5 .1 .5 -1.1 .5 .5 .5 -.9 .5 .5
l.5 -2.1 .5 .4 .5 3 .5 -1.6 .5 -.5 .5 1.8 .5 1.8 .5 -1.2 .5 -.6 .5 -.5 .5 2.1 .5 -.1 .5 -1.7 .5 -.7 .5 .5 .5 .4 .5 -.8 .5 -.4 .5 -.1 .5 -.9 .5 1.3 .5 .6 .5 -1.8 .5 .4 .5 2 .5 -2 .5 1.3 .5 -1.7 .5 -1 .5 2.5 .5 .3 .5 -.5 .5 -.3 .5 1.7 .5 -1.9 .5 -.5 .5 1.2 .5 .9 .5 -.7 .5 .8 .5 .7 .5 -2.6 .5 .8 .5 -.1 .5 1 .5 -2.4 .5 2.9 .5 -2.6 .5 2 .5 -.8 .5 -.1 .5 1 .5 -2 .5 2 .5 -1.1 .5 -1.2 .5 2.5 .5 -2.5 .5 1.9 .5 -1.2
l.5 -.1 .5 1.8 .5 -1.3 .5 -.6 .5 1.2 .5 -1.6 .5 2.3 .5 -2.5 .5 1.3 .5 -1.2 .5 1.4 .5 -1.7 .5 .9 .5 .9 .5 -2.1 .5 1.3 .5 .7 .5 -.9 .5 .3 .5 1.2 .5 .3 .5 -2.7 .5 .8 .5 -2 .5 2.8 .5 .7 .5 -1.8 .5 -.4 .5 1.7 .5 -1.1 .5 2.7 .5 -.7 .5 -3.6 .5 2.8 .5 0 .5 .2 .5 -.7 .5 -1.4 .5 1.9 .5 -.5 .5 2.7 .5 -1.2 .5 .8 .5 -2.4 .5 1.2 .5 -.3 .5 -.7 .5 .5 .5 -1.3 .5 1.8 .5 -1.2 .5 1.1 .5 .2 .5 -.8 .5 -.6 .5 1.6 .5 0 .5 -1.5 .5 1.6 .5 -4.1
l.5 3 .5 .3 .5 -.6 .5 -1.8 .5 1.8 .5 1 .5 -.7 .5 -1.8 .5 1.6 .5 1.8 .5 -.5 .5 .3 .5 -1.7 .5 .8 .5 -.8 .5 -.1 .5 -1.2 .5 1.2 .5 1 .5 -1 .5 -2.3 .5 2.7 .5 -1.9 .5 1.7 .5 -1.4 .5 2.6 .5 -2 .5 1.4 .5 -2.8 .5 1.4 .5 .3 .5 -1.7 .5 1 .5 0 .5 .8 .5 .1 .5 -1.7 .5 3.2 .5 -.4 .5 -1.1 .5 1.9 .5 -1.2 .5 -.2 .5 -.8 .5 -1.4 .5 3.2 .5 .9 .5 -.7 .5 -.2 .5 1.3 .5 -4 .5 2.3 .5 1.2 .5 -2.4 .5 2.2 .5 -2.5 .5 -.3 .5 -1.4 .5 2.8 .5 .3
l.5 -.2 .5 -.3 .5 .6 .5 -1 .5 -1.6 .5 2.2 .5 .3 .5 2.4 .5 -3.5 .5 .6 .5 -2.1 .5 -.1 .5 .7 .5 2.9 .5 -1.4 .5 .1 .5 -.6 .5 1 .5 .8 .5 -.2 .5 -.6 .5 .3 .5 .3 .5 .4 .5 -.4 .5 -.7 .5 -1.2 .5 1.6 .5 -.2 .5 -.1 .5 -.4 .5 -.9 .5 2.4 .5 -1.9 .5 .6 .5 -.6 .5 -.9 .5 2.1 .5 -2.6 .5 1.6 .5 -.5 .5 .4 .5 -1.2 .5 2.2 .5 .3 .5 -.6 .5 -1.3 .5 -.8 .5 3.8 .5 -4.3 .5 .9 .5 1.8 .5 .2 .5 -1.9 .5 1.8 .5 -2 .5 2.2 .5 -.3 .5 -.6 .5 1.2
l.5 -.9 .5 -2.9 .5 3.5 .5 -.5 .5 .8 .5 -1.2 .5 1.2 .5 -1.2 .5 .9 .5 .6 .5 -1.5 .5 -.1 .5 .8 .5 .8 .5 -.5 .5 -.3 .5 .6 .5 -.4 .5 -1.7 .5 2.5 .5 -.1 .5 -.4 .5 -3.1 .5 3.1 .5 -2.6 .5 1.1 .5 -.2 .5 2 .5 -.7 .5 -1 .5 .7 .5 -1.1 .5 -.4 .5 2 .5 .3 .5 -.8 .5 1.8 .5 .2 .5 -2.4 .5 .7 .5 .2 .5 -2.7 .5 3.3 .5 -.3 .5 -.7 .5 -.4 .5 -.4 .5 1.9 .5 -2.2 .5 1.1 .5 -.5 .5 1.6 .5 .2 .5 -1.5 .5 -.1 .5 -1.3 .5 .2 .5 1.5 .5 .1 .5 -.4
l.5 -1.3 .5 .3 .5 -2.1 .5 3 .5 -2.6 .5 .7 .5 1 .5 2.2 .5 -2.3 .5 2.1 .5 1.5 .5 -1.3 .5 -.1 .5 -2 .5 1 .5 -1.5 .5 2.4 .5 -.1 .5 .8 .5 -1.5 .5 .2 .5 -1.4 .5 1.4 .5 .8 .5 -.7 .5 .3 .5 -.7 .5 .4 .5 -.3 .5 -1.1 .5 .9 .5 .9 .5 -.4 .5 -.6 .5 -.8 .5 1.4 .5 -1.2 .5 .3 .5 .8 .5 .4 .5 -1.8 .5 .1 .5 1.2 .5 -1.2 .5 2.1 .5 -.8 .5 -1 .5 -1.3 .5 2 .5 -.7 .5 -1.8 .5 .7 .5 .8 .5 1 .5 -2.8 .5 2 .5 .3 .5 2.4 .5 -2.2 .5 -.1
l.5 -.4 .5 .1 .5 -.1 .5 -1.4 .5 .1 .5 .7 .5 -3.2 .5 -.1 .5 -.7 .3 -.3 .7 .5 .5 .2 .5 2.5 .5 1.1 .5 -.2 .5 -.1 .5 .3 .5 .5 .5 1.1 .5 -.7 .5 1.2 .5 .6 .5 -2.5 .5 2.2 .5 -.4 .5 -1.6 .5 -2.5 .5 1.5 .5 1.8 .5 -2.9 .5 3.5 .5 -2.4 .5 1.2 .5 -1.1 .5 .3 .5 .7 .5 -1.5 .5 1 .5 -.2 .5 1.4 .5 -1.8 .5 3.4 .5 -.3 .5 -3.2 .5 0 .5 .8 .5 1 .5 .2 .5 .1 .5 .1 .5 -1.1 .5 -1.3 .5 .2 .5 .6 .5 -.5 .5 3.5 .5 -3 .5 1.9 .5 -.4 .5 -1.6
l.5 -.3 .5 1.2 .5 .8 .5 -.6 .5 1.6 .5 -1.9 .5 0 .5 .9 .5 1.7 .5 -1.4 .5 1 .5 -2.7 .5 1.5 .5 -.8 .5 2.1 .5 -3.1 .5 .7 .5 -1.1 .5 -.3 .5 2.2 .5 -.2 .5 -1.5 .5 2.2 .5 -1 .5 .2 .5 2.2 .5 -1.1 .5 .4 .5 .5 .5 -1.3 .5 -.6 .5 2 .5 .3 .5 -3.5 .5 .7 .5 0 .5 0 .5 2.3 .5 -1.8 .5 0 .5 .5 .5 .4 .5 -.7 .5 .5 .5 -1.9 .5 1.6 .5 -.9 .5 .9 .5 1.5 .5 -.9 .5 -.4 .5 1.6 .5 .6 .5 -1.2 .5 -1.4 .5 2.5 .5 -1.5 .5 -1.1 .5 1.5 .5 -1.3
l.5 0 .5 -.7 .5 0 .5 1.7 .5 -3.7 .5 3.2 .5 0 .5 -.4 .5 -1 .5 -1.5 .5 1.1 .5 .6 .5 .7 .5 -1.4 .5 -2.2 .5 1.3 .5 -.3 .5 2 .5 -.2 .5 -.2 .5 -.3 .5 -1.7 .5 1.7 .5 1.4 .5 -2.2 .5 .1 .5 -.6 .5 1 .5 .9 .5 -2.3 .5 2.5 .5 -1.4 .5 3.7 .5 -2.6 .5 1 .5 -2.1 .5 3.1 .5 -.8 .5 -.4 .5 2.2 .5 -1.7 .5 -.4 .5 2 .5 -2.2 .5 1 .5 -1.5 .5 -.6 .5 2.8 .5 -1.3 .5 .6 .5 -.1 .5 -.9 .5 .4 .5 -1.1 .5 .1 .5 .9 .5 -2.6 .5 2.2 .5 -1 .5 1.1
l.5 -1.2 .5 2.6 .5 -.6 .5 -1.5 .5 1.5 .5 -2.9 .5 .5 .5 2.2 .5 1.1 .5 -2 .5 .8 .5 -.7 .5 1.4 .5 -2.5 .5 -1.2 .5 .8 .5 .9 .5 .5 .5 -1.3 .5 2 .5 -2.8 .5 2 .5 -1.3 .5 .7 .5 -.1 .5 1.9 .5 .6 .5 -4.1 .5 2 .5 .8 .5 -1.3 .5 .8 .5 .1 .5 1 .5 -1.6 .5 1.7 .5 -1 .5 .3 .5 -.7 .5 .6 .5 .2 .5 2.6 .5 -1.7 .5 -.6 .5 -.3 .5 -1 .5 2.1 .5 -2.5 .5 .6 .5 1.8 .5 -1.6 .5 -.3 .5 4.1 .5 -4.1 .5 .8 .5 -1 .5 1.6 .5 1 .5 1.8 .5 -1.5
l.5 -.8 .5 -.7 .5 1.3 .5 -1.5 .5 .7 .5 -2.3 .5 2.1 .5 -2.2 .5 1.1 .5 -1.6 .5 .5 .5 3 .5 -1.4 .5 -1.4 .5 2.4 .5 -3.7 .5 2.2 .5 -1.4 .5 2.1 .5 .3 .5 -1.3 .5 -.1 .5 -.3 .5 1.9 .5 -.8 .5 2 .5 -1.7 .5 -.1 .5 -1.3 .5 .1 .5 1.9 .5 -1 .5 1.4 .5 -.4 .5 -1.4 .5 .2 .5 1.6 .5 -.2 .5 0 .5 -1.9 .5 1.1 .5 -1.1 .5 3.4 .5 -2.9 .5 .3 .5 -.3 .5 -.6 .5 1.6 .5 -1.2 .5 .8 .5 .5 .5 -.5 .5 -.5 .5 1.2 .5 -.8 .5 -1.4 .5 -1.2 .5 1 .5 1.4 .5 1.2
l.5 -2.2 .5 .8 .5 -1.4 .5 2.1 .5 1.1 .5 -2.9 .5 1 .5 2.3 .5 -2.7 .5 -.4 .5 .9 .5 .4 .5 -.6 .5 .1 .5 1.3 .5 -2.3 .5 2.2 .5 -2 .5 1.7 .5 .4 .5 -1.3 .5 -.6 .5 -.7 .5 -.2 .5 2.3 .5 -2.6 .5 1.9 .5 -.5 .5 1.5 .5 -1.7 .5 2.1 .5 -1.6 .5 2.4 .5 -2.7 .5 0 .5 -.6 .5 2.4 .5 -1.7 .5 1.6 .5 -1.5 .5 -1.1 .5 3.1 .5 -.2 .5 -1.8 .5 1.4 .5 -3.2 .5 2.9 .5 -1.3 .5 .6 .5 -.6 .5 .5 .5 -.5"/>
<path stroke="#f04042" d="M177 1142.2
l.5 -1.5 .5 2.9 .5 -1.3 .5 -.2 .5 -.5 .5 2.3 .5 -2.2 .5 2.1 .5 -1.3 .5 .8 .5 -.2 .5 .9 .5 .3 .5 -2 .5 2.3 .5 -.4 .5 .3 .5 .5 .5 -3.4 .5 3.7 .5 -3.8 .5 1.1 .5 1.1 .5 .8 .5 -.3 .5 -.2 .5 .3 .5 -1.7 .5 1.4 .5 2.9 .5 -5.3 .5 2.6 .5 .3 .5 -.7 .5 1 .5 .4 .5 -.2 .5 .4 .5 -.9 .5 2 .5 -1.2 .5 -.4 .5 3.6 .5 -2.9 .5 .1 .5 -1.6 .5 2.5 .5 -1.6 .5 .4 .5 1.5 .5 -.2 .5 -1.5 .5 1.4 .5 -.2 .5 -.6 .5 -.9 .5 1.6 .5 -2.1 .5 2.2 .5 -.3
l.5 -1.2 .5 .3 .5 4.1 .5 -4.8 .5 2.6 .5 -.2 .5 1.1 .5 .1 .5 .9 .5 0 .5 -.6 .5 -1.3 .5 1.4 .5 1 .5 .1 .5 .8 .5 -1.4 .5 -1.1 .5 .8 .5 .9 .5 .8 .5 0 .5 -.3 .5 -2.2 .5 .8 .5 1.1 .5 -.3 .5 .6 .5 -2.2 .5 2.1 .5 -3.6 .5 2.6 .5 .8 .5 -.3 .5 1.5 .5 -1 .5 .5 .5 .9 .5 -1.6 .5 2.8 .5 -2.2 .5 1.6 .5 -.3 .5 -.5 .5 .8 .5 .4 .5 -.7 .5 3.1 .5 -3.3 .5 1.3 .5 1.4 .5 -.5 .5 .7 .5 -2.8 .5 1.5 .5 .3 .5 1.3 .5 -2.4 .5 .8 .5 2.1
l.5 -1.6 .5 0 .5 -.5 .5 1.5 .5 -3.3 .5 1.3 .5 .4 .5 1 .5 0 .5 -2.1 .5 2.6 .5 -.8 .5 4.3 .5 -3.3 .5 1.7 .5 -1.6 .5 .5 .5 -.5 .5 2 .5 .6 .5 -2.7 .5 2 .5 .3 .5 .7 .5 -2.1 .5 2.3 .5 -3 .5 1.6 .5 -.8 .5 .2 .5 1.6 .5 -.5 .5 2.8 .5 -3.2 .5 -.6 .5 2.3 .5 -.9 .5 -.6 .5 2.1 .5 .3 .5 -3.1 .5 1.2 .5 1.8 .5 -2.1 .5 2.8 .5 -2 .5 .7 .5 -.2 .5 -1.3 .5 1.1 .5 -.4 .5 .4 .5 1.9 .5 -.3 .5 -.9 .5 .7 .5 1.5 .5 -1.6 .5 -.3 .5 1.4
l.5 -1.4 .5 -.7 .5 3.4 .5 -3.3 .5 1.4 .5 .3 .5 -.8 .5 2.5 .5 .1 .5 -1.7 .5 -2.1 .5 2.2 .5 -2.3 .5 2.7 .5 .4 .5 -.5 .5 1.1 .5 -1.1 .5 -1.1 .5 .7 .5 1.9 .5 -3.6 .5 2.9 .5 -1.6 .5 4.1 .5 -4.1 .5 -.7 .5 3.8 .5 0 .5 -1.7 .5 .7 .5 -1.2 .5 1.3 .5 1.2 .5 -.6 .5 -.3 .5 -.6 .5 2 .5 .8 .5 -.3 .5 -3 .5 1.7 .5 -1 .5 .6 .5 .9 .5 2.7 .5 -2.6 .5 -.2 .5 -.5 .5 1.4 .5 -2.4 .5 2.8 .5 .3 .5 -2 .5 3 .5 .8 .5 -3.4 .5 1.8 .5 -1.4 .5 -.3
l.5 1.8 .5 -.6 .5 -1.9 .5 -.3 .5 2 .5 -1.9 .5 .2 .5 1.2 .5 -.2 .5 1 .5 2 .5 -3.7 .5 3.3 .5 -3.2 .5 1.7 .5 1.2 .5 1.7 .5 -4.6 .5 4 .5 -1.9 .5 .5 .5 .6 .5 1.6 .5 .8 .5 -2.3 .5 -1 .5 -.2 .5 -1.5 .5 .8 .5 3 .5 -3.1 .5 .5 .5 .8 .5 -.1 .5 -.2 .5 -.1 .5 .6 .5 2.4 .5 -.7 .5 -.6 .5 -.9 .5 1 .5 .2 .5 -1.3 .5 -.4 .5 1.5 .5 -1.3 .5 -.1 .5 .7 .5 -.2 .5 -1.1 .5 2.8 .5 -1.6 .5 -.6 .5 .9 .5 .7 .5 -1.7 .5 -3.1 .5 1.4 .5 1
l.5 0 .5 1 .5 -1.5 .5 -1.4 .5 .6 .5 -2.4 .5 .9 .5 -4 .5 2.3 .5 -3.4 .5 -.7 .5 -3.4 .5 -4.2 .5 -2.4 .5 -5 .5 -7.4 .5 -11.6 .5 -16.8 .5 -26.1 .5 -36.1 .5 -43.5 .5 -53.9 .5 -52.6 .5 -40.7 .4 -11.5 .6 60.2 .5 88.8 .5 71.6 .5 45.4 .5 24.3 .5 13.2 .5 7.3 .5 3.5 .5 .5 .5 4.1 .5 4.4 .5 -2.8 .5 3.8 .5 .3 .5 3.2 .5 -.4 .5 -.1 .5 1 .5 -1.4 .5 4.7 .5 -1.1 .5 -1.4 .5 .6 .5 1.6 .5 -1.2 .5 0 .5 2 .5 -.9 .5 .7 .5 .8 .5 -1.9 .5 2.8 .5 -.5 .5 -2.2 .5 -.2
l.5 1.6 .5 .3 .5 -1.2 .5 .5 .5 .1 .5 -.1 .5 .8 .5 1.3 .5 .5 .5 -3 .5 .8 .5 -.6 .5 .7 .5 -.3 .5 2 .5 -.4 .5 -1.7 .5 2.3 .5 -2.2 .5 1 .5 .6 .5 -.9 .5 -.3 .5 1.4 .5 .8 .5 -.8 .5 2.3 .5 -1 .5 -1.2 .5 1.5 .5 -1.1 .5 .8 .5 .2 .5 -.3 .5 1.1 .5 -1.7 .5 .2 .5 -1 .5 -1.5 .5 1 .5 .7 .5 -3 .5 3.3 .5 .2 .5 .9 .5 -.7 .5 1 .5 -1.2 .5 -.3 .5 1.2 .5 -1.7 .5 2.8 .5 -2.7 .5 3 .5 -2.2 .5 .2 .5 -.6 .5 1 .5 .5 .5 -1.8
l.5 -.3 .5 2 .5 -1.6 .5 2.3 .5 .6 .5 -2 .5 4.2 .5 -3.7 .5 -1.2 .5 3.3 .5 -1.5 .5 -1.1 .5 .5 .5 1.7 .5 .3 .5 -1.8 .5 -1.2 .5 .6 .5 1.4 .5 -.7 .5 .4 .5 0 .5 1.5 .5 -2.1 .5 .4 .5 -2.1 .5 2.2 .5 -1.6 .5 1.2 .5 1 .5 -.6 .5 .6 .5 -2.3 .5 2.1 .5 .7 .5 -.2 .5 .5 .5 -1.3 .5 1.6 .5 -1.3 .5 .3 .5 1.5 .5 .6 .5 -.6 .5 -2.1 .5 .9 .5 -.2 .5 .6 .5 1.7 .5 -.6 .5 -2.6 .5 1.6 .5 -.2 .5 -1.1 .5 .3 .5 1.7 .5 -1.5 .5 0 .5 -.3 .5 -3.2
l.5 4 .5 .9 .5 1.4 .5 .4 .5 -3.7 .5 1.1 .5 -.5 .5 1 .5 -1.5 .5 1.5 .5 .4 .5 0 .5 -.3 .5 .7 .5 -1.4 .5 -.3 .5 .4 .5 -.2 .5 .7 .5 .8 .5 -1.3 .5 -1.8 .5 .1 .5 2.4 .5 .3 .5 0 .5 -3.4 .5 3.9 .5 2.3 .5 -3 .5 -.2 .5 1.5 .5 -2.1 .5 -.4 .5 2.5 .5 -2.5 .5 1.8 .5 -1.5 .5 .1 .5 -.7 .5 1.4 .5 -.6 .5 -.2 .5 -.3 .5 -.2 .5 1.9 .5 -.3 .5 .2 .5 -2.3 .5 1.7 .5 -2.3 .5 3.6 .5 .3 .5 -.5 .5 -1 .5 .1 .5 -.8 .5 -.7 .5 1.8 .5 .2
l.5 -1.7 .5 -1.1 .5 .9 .5 .1 .5 -.3 .5 -1.3 .5 .4 .5 1.7 .5 2.1 .5 -3.6 .5 1.8 .5 -.5 .5 .8 .5 -.3 .5 1.2 .5 -1.2 .5 -.8 .5 1 .5 -.2 .5 .7 .5 -.4 .5 -.1 .5 -.9 .5 -.4 .5 -.4 .5 .2 .5 .8 .5 -.2 .5 -2.9 .5 -.4 .5 -.8 .5 .7 .5 -4.8 .5 -1.4 .5 -5.8 .5 -.9 .5 -6.1 .5 -4.2 .5 -4.4 .5 -6.8 .5 -2.7 .4 -.3 .6 5.8 .5 10.3 .5 9.9 .5 3.6 .5 3.5 .5 2.7 .5 .2 .5 1.9 .5 2.6 .5 -1.7 .5 -.3 .5 2.4 .5 .5 .5 -2.7 .5 2.7 .5 -.5 .5 1.1 .5 -1.2
l.5 .4 .5 -.7 .5 3.7 .5 -1.9 .5 .1 .5 -.2 .5 -.8 .5 1.2 .5 -1.1 .5 2.1 .5 -2.2 .5 .5 .5 -3.7 .5 .4 .5 -.6 .5 -2.2 .5 -.3 .5 -1.9 .5 -3.2 .5 -1.1 .5 -5.4 .5 -3.7 .5 -6.7 .5 -3.2 .5 -3.8 .6 -1.3 .4 2.8 .5 7.9 .5 7 .5 6.6 .5 6.1 .5 .7 .5 2 .5 2.6 .5 .4 .5 -1 .5 .3 .5 .6 .5 -.2 .5 .5 .5 1.5 .5 -.8 .5 0 .5 -.4 .5 1.3 .5 -1.5 .5 1.1 .5 -1.8 .5 .9 .5 .7 .5 -.9 .5 .9 .5 -.1 .5 -.6 .5 1.4 .5 -.3 .5 -.7 .5 .8 .5 .8 .5 -1.9
l.5 -.2 .5 2.4 .5 -2 .5 .4 .5 -1.8 .5 2.2 .5 .5 .5 -1.9 .5 1.9 .5 -1.9 .5 .9 .5 1.7 .5 .4 .5 -2 .5 1.6 .5 -2.1 .5 1.7 .5 -2.7 .5 2.3 .5 -.8 .5 -.8 .5 1 .5 -.1 .5 .3 .5 1 .5 -1.6 .5 .1 .5 .8 .5 -.5 .5 .6 .5 -1.3 .5 2.2 .5 -1.9 .5 2.1 .5 0 .5 -1.6 .5 1.6 .5 .8 .5 -1.7 .5 .8 .5 -1.4 .5 2.2 .5 -1 .5 1.5 .5 -.6 .5 -1.1 .5 -1 .5 1.9 .5 .2 .5 -1.6 .5 1.3 .5 -.5 .5 -.8 .5 -.5 .5 .8 .5 1.2 .5 -2 .5 .9 .5 .1 .5 -.6
l.5 -.2 .5 1.6 .5 .8 .5 -1.4 .5 -1 .5 1.2 .5 -.5 .5 .5 .5 -1.6 .5 1.8 .5 -1.6 .5 1.5 .5 -1.5 .5 -.7 .5 .1 .5 .7 .5 -.1 .5 .5 .5 -2.5 .5 .7 .5 .6 .5 -1.9 .5 2.1 .5 1.1 .5 -1 .5 .9 .5 -.5 .5 .8 .5 -1 .5 2.4 .5 -.2 .5 -.6 .5 1.7 .5 -1.4 .5 -.8 .5 -2.1 .5 1 .5 1.8 .5 .9 .5 -2.3 .5 1.5 .5 -1.7 .5 .4 .5 -.3 .5 .3 .5 -.1 .5 .8 .5 -1.6 .5 3.1 .5 -1 .5 -2.8 .5 .4 .5 4.1 .5 -3.6 .5 1.8 .5 -1.8 .5 4.5 .5 -5.2 .5 3.6 .5 -1.5
l.5 -1 .5 -.2 .5 -1.1 .5 -1.9 .5 2.1 .5 .4 .5 -3.9 .5 -.9 .5 -1.5 .5 -4.7 .5 -.9 .5 -2.7 .5 .2 .5 -.8 .5 1 .5 1.7 .5 .1 .5 3.5 .5 1.7 .5 1 .5 2.1 .5 1.6 .5 -1.1 .5 4.2 .5 -1.5 .5 .2 .5 1.9 .5 -1.5 .5 3.1 .5 -.4 .5 -1.1 .5 1.7 .5 .3 .5 -2.1 .5 -1.6 .5 .4 .5 .9 .5 1.6 .5 -.2 .5 -.8 .5 2.3 .5 -2.4 .5 1.1 .5 -1.9 .5 .6 .5 .9 .5 1.2 .5 -3.6 .5 4.2 .5 -2.6 .5 2.4 .5 -1.4 .5 -1.3 .5 .6 .5 3.2 .5 -2.6 .5 -.4 .5 -1.2 .5 .3 .5 2.6
l.5 .2 .5 .4 .5 -1.7 .5 -1.2 .5 -.9 .5 2.7 .5 -2.3 .5 -1.2 .5 1 .5 0 .5 1.2 .5 -1.6 .5 1.4 .5 -.9 .5 -1 .5 -3.2 .5 -.4 .5 2 .5 0 .5 .5 .5 -4.5 .5 2 .5 -.7 .5 -.1 .7 -.4 .3 -.1 .5 .3 .5 1.1 .5 1.9 .5 -1.1 .5 1.3 .5 .6 .5 1.7 .5 -2.4 .5 4.8 .5 -1.1 .5 -1.2 .5 1 .5 -.1 .5 -.3 .5 .6 .5 3.1 .5 .4 .5 -5.4 .5 2.6 .5 .2 .5 -1.5 .5 1 .5 .1 .5 .3 .5 -1.7 .5 .4 .5 2.3 .5 -.4 .5 0 .5 -.2 .5 -2.1 .5 1.7 .5 -1.2 .5 1.3
l.5 -1.4 .5 .9 .5 -1.6 .5 2.4 .5 -1.6 .5 .5 .5 -1.3 .5 2.6 .5 -.5 .5 .8 .5 -2.7 .5 1.7 .5 -.6 .5 -.3 .5 .9 .5 -.9 .5 1.8 .5 -2.7 .5 .3 .5 .1 .5 1.7 .5 -1.9 .5 -.8 .5 2.2 .5 1.1 .5 -2.1 .5 1.2 .5 -.7 .5 .9 .5 .3 .5 -2.6 .5 4.2 .5 -2.1 .5 1.3 .5 -.1 .5 -2.2 .5 2.9 .5 -2.3 .5 -.7 .5 1.6 .5 1.9 .5 -.8 .5 -4.4 .5 2.3 .5 .5 .5 -.6 .5 -.5 .5 .4 .5 -.5 .5 2.9 .5 -1.5 .5 -1.5 .5 1.3 .5 1.3 .5 -2.2 .5 1.5 .5 -2.8 .5 .8 .5 3.3 .5 -3
l.5 -1.6 .5 3.1 .5 -1.9 .5 1.4 .5 -1.2 .5 -1.7 .5 3.8 .5 -1.9 .5 -1.7 .5 3.2 .5 -1.2 .5 2.6 .5 -1.3 .5 -.9 .5 -2.3 .5 .1 .5 1.7 .5 -1.6 .5 1.9 .5 1.1 .5 -.7 .5 1.1 .5 -.6 .5 -.6 .5 -1 .5 -.5 .5 .4 .5 .3 .5 1.4 .5 -1.8 .5 -.9 .5 -.2 .5 -.2 .5 .2 .5 3.1 .5 -1 .5 -1.2 .5 .3 .5 -1.1 .5 -1 .5 -.6 .5 1.6 .5 .4 .5 .1 .5 -2.4 .5 .9 .5 -2.5 .5 .9 .5 -1.5 .5 -.3 .5 -3.6 .5 .2 .5 -2.4 .5 -3.2 .5 -1.9 .5 -5 .5 -5.4 .5 -5.9 .5 -10.8 .5 -7.2
l.5 -12.9 .5 -8.1 .5 -9.4 .5 -5 .4 -1.3 .6 14.1 .5 21.2 .5 19 .5 12.9 .5 7 .5 5.6 .5 1.9 .5 .9 .5 3.5 .5 -.7 .5 -.9 .5 .6 .5 2.5 .5 -.2 .5 -.1 .5 .9 .5 -.7 .5 .1 .5 -.7 .5 1.8 .5 1.1 .5 -2.4 .5 .2 .5 1.6 .5 .1 .5 .2 .5 -1.4 .5 .9 .5 -.8 .5 1.1 .5 -1.7 .5 1.7 .5 -1.9 .5 3.8 .5 -3.8 .5 1.8 .5 1.3 .5 -1.5 .5 .8 .5 -1.8 .5 2.3 .5 .4 .5 0 .5 -1.7 .5 2 .5 -1.1 .5 -.4 .5 -.9 .5 1.5 .5 -.3 .5 -1.3 .5 -.3 .5 .9 .5 -1.7 .5 2.7
l.5 -.1 .5 .3 .5 -1.6 .5 3.6 .5 -2.7 .5 1.1 .5 -.9 .5 .3 .5 -2.1 .5 2.3 .5 -2.1 .5 -1.2 .5 1.4 .5 1.8 .5 -.8 .5 -.5 .5 -1.5 .5 2.6 .5 -.8 .5 -1.2 .5 1.8 .5 -1.3 .5 -.4 .5 1.4 .5 .2 .5 -1.5 .5 3.3 .5 -2.5 .5 1.2 .5 -1.1 .5 -.1 .5 .3 .5 -.5 .5 .7 .5 .5 .5 -1.8 .5 2 .5 0 .5 -1.1 .5 .8 .5 -.2 .5 .3 .5 -.9 .5 -.8 .5 -.3 .5 .4 .5 .1 .5 .9 .5 -1.5 .5 .2 .5 .2 .5 2.1 .5 1.5 .5 -4.1 .5 -.3 .5 -.2 .5 1.7 .5 .2 .5 0 .5 -.7
l.5 .3 .5 .1 .5 2.4 .5 -3.3 .5 .3 .5 -1.5 .5 .3 .5 -.3 .5 2 .5 -4.1 .5 .2 .5 -1.1 .5 .9 .5 -.6 .5 -1.2 .5 .7 .4 -.1 .6 .2 .5 -.1 .5 1.5 .5 -.1 .5 .5 .5 .5 .5 -.2 .5 1 .5 .6 .5 -.3 .5 1.9 .5 -1.7 .5 2.3 .5 -1.1 .5 -.1 .5 1 .5 -.1 .5 1.2 .5 -1.8 .5 0 .5 1.3 .5 1.7 .5 -3.1 .5 2.5 .5 1.2 .5 -2.9 .5 1.9 .5 -1.3 .5 -.4 .5 .2 .5 0 .5 -.6 .5 1.1 .5 -.5 .5 2.8 .5 -.5 .5 -1.5 .5 0 .5 1.2 .5 1.9 .5 -1.1 .5 -.9 .5 1
l.5 -3.7 .5 0 .5 2.1 .5 -1.4 .5 .8 .5 -.4 .5 .3 .5 .1 .5 -.8 .5 -.1 .5 1.4 .5 -1.1 .5 -.2 .5 0 .5 -.5 .5 -.3 .5 2.8 .5 -3 .5 1.6 .5 -.3 .5 -.1 .5 .6 .5 2.4 .5 -1 .5 -2.3 .5 -1.5 .5 2 .5 -.5 .5 -.7 .5 1.7 .5 -1.1 .5 -.2 .5 2.4 .5 -.9 .5 -1.5 .5 1.9 .5 -1.5 .5 -.8 .5 -.2 .5 .2 .5 0 .5 -.7 .5 .4 .5 -1.1 .5 -.2 .5 1.8 .5 .1 .5 -1.2 .5 -1.6 .5 .2 .5 -2.3 .5 -1.3 .5 -1.1 .5 -.9 .5 -.5 .5 -3.5 .5 -1.8 .4 -.3 .6 1.5 .5 3
l.5 1.6 .5 3.8 .5 2.1 .5 0 .5 .8 .5 -.4 .5 -.4 .5 1.6 .5 .3 .5 -.6 .5 .1 .5 1.6 .5 -1.1 .5 2.9 .5 -2 .5 .7 .5 -1.3 .5 0 .5 -.1 .5 -.4 .5 2.5 .5 -.5 .5 -1.5 .5 .9 .5 0 .5 -.9 .5 .8 .5 -1.1 .5 1 .5 .7 .5 -1 .5 1.4 .5 -.6 .5 -2.3 .5 1.9 .5 -.5 .5 -.2 .5 -1 .5 2.3 .5 -1.7 .5 1.9 .5 -.1 .5 .8 .5 -1.6 .5 1.8 .5 -2 .5 2.7 .5 -1.3 .5 -.4 .5 .1 .5 .7 .5 -1.9 .5 .9 .5 -.8 .5 .6 .5 -.8 .5 .9 .5 .9 .5 -1.9 .5 1
l.5 1.2 .5 -.7 .5 .8 .5 -2.6 .5 .5 .5 .9 .5 1 .5 -1.8 .5 1.5 .5 -2 .5 2.5 .5 -2.8 .5 2.7 .5 -2.2 .5 .2 .5 -.4 .5 .8 .5 2.6 .5 -1.7 .5 -.7 .5 -.2 .5 1.4 .5 -2.2 .5 2 .5 0 .5 -.8 .5 .5 .5 -.3 .5 .6 .5 -.5 .5 .8 .5 -1.3 .5 .8 .5 -.4 .5 -.9 .5 -.3 .5 2.1 .5 -3.6 .5 -.5 .5 3.4 .5 .2 .5 -.2 .5 .7 .5 -1.2 .5 .2 .5 -1 .5 .3 .5 1.1 .5 -1.9 .5 -2 .5 -1 .5 1.4 .5 -3.3 .5 -.5 .5 -1.2 .5 1.7 .5 -2.6 .6 0 .4 .2 .5 .4
l.5 -1.2 .5 2.6 .5 -.8 .5 3.7 .5 1.5 .5 -.2 .5 2.7 .5 -4.2 .5 4.5 .5 -1.6 .5 .7 .5 -.7 .5 .8 .5 .5 .5 -1.7 .5 .9 .5 -.3 .5 -.1 .5 1.6 .5 -.7 .5 .7 .5 -.9 .5 .1 .5 1.9 .5 -1.7 .5 -2.7 .5 -.5 .5 .5 .5 -.6 .5 -2.9 .5 -2.2 .5 -.7 .5 -.2 .5 -3.1 .5 -2.7 .5 -1.1 .5 -.9 .3 0 .7 .4 .5 2.5 .5 3.3 .5 1.4 .5 3.4 .5 1.9 .5 2.2 .5 -.9 .5 -.3 .5 .1 .5 1.7 .5 -1.6 .5 3.2 .5 -2.1 .5 0 .5 .5 .5 .9 .5 -.8 .5 .9 .5 -.7 .5 1 .5 1
l.5 -2.4 .5 .9 .5 -1.7 .5 1.6 .5 1.8 .5 -.8 .5 1 .5 -1.8 .5 -1.4 .5 2.1 .5 1 .5 -2.4 .5 -1 .5 -.8 .5 1.4 .5 .8 .5 -3.2 .5 .1 .5 -1 .5 .6 .5 -2.2 .5 .7 .5 -3.4 .5 -.3 .5 -.7 .4 -.2 .6 .8 .5 1.4 .5 2.4 .5 .5 .5 1.5 .5 .6 .5 2.3 .5 .3 .5 -2.1 .5 2.9 .5 .9 .5 -2.5 .5 .9 .5 1.3 .5 -.3 .5 -.6 .5 2 .5 -1.9 .5 .8 .5 1.1 .5 -2.1 .5 1.2 .5 -1.9 .5 .5 .5 .6 .5 -.8 .5 .1 .5 -.1 .5 -.5 .5 1.1 .5 1.1 .5 -2.4 .5 -1.9 .5 1.1
l.5 -.4 .5 .8 .5 -1 .5 -2.5 .5 .8 .5 -2.4 .5 1 .5 -.7 .3 -.3 .7 .9 .5 .1 .5 .7 .5 1.7 .5 1 .5 -.3 .5 .3 .5 .4 .5 1.3 .5 1.7 .5 -1.2 .5 -3.3 .5 2.5 .5 -2.4 .5 3.6 .5 -.6 .5 .5 .5 .1 .5 -1 .5 -.3 .5 1.6 .5 -1.7 .5 .9 .5 -1.6 .5 -.1 .5 1.2 .5 -1.2 .5 -.6 .5 .5 .5 -3.8 .5 .3 .5 0 .5 .5 .5 -2.1 .5 -1.9 .5 -2.7 .5 -.3 .5 -1.3 .5 -.2 .5 .2 .5 3.4 .5 .4 .5 2 .5 2.7 .5 1.6 .5 .4 .5 .7 .5 -.2 .5 3.7 .5 -1.1 .5 -.5
l.5 .1 .5 -.9 .5 2.3 .5 1.4 .5 -3.3 .5 .9 .5 1.9 .5 -2 .5 -1.1 .5 -.6 .5 2.7 .5 -.8 .5 1.3 .5 -1.8 .5 2.1 .5 -1 .5 -1.5 .5 2.1 .5 -.3 .5 -1.4 .5 1.8 .5 -1.2 .5 -.5 .5 .2 .5 -.1 .5 .7 .5 -.7 .5 -.4 .5 .2 .5 .6 .5 0 .5 -1.1 .5 .5 .5 -1 .5 -1.2 .5 1.8 .5 1.6 .5 -1.7 .5 0 .5 -1.3 .5 .5 .5 1.6 .5 -1.9 .5 .4 .5 -.3 .5 3 .5 -.7 .5 -.4 .5 .8 .5 -1.3 .5 -.4 .5 .2 .5 .2 .5 .5 .5 -3.1 .5 -.5 .5 2.9 .5 -1.2 .5 .6 .5 .1
l.5 -3.2 .5 2.4 .5 -.8 .5 -.4 .5 -.1 .5 3.5 .5 -3.7 .5 -2.2 .5 .3 .5 -3.1 .5 -3.2 .5 -7 .5 -5 .5 -6.1 .5 -2.3 .5 2.5 .5 6.3 .5 4.4 .5 2.3 .5 -.2 .5 -3.8 .5 -5.6 .5 -3.2 .5 -2.5 .5 3.3 .5 6.4 .5 8.5 .5 5.9 .5 .8 .5 3.3 .5 1.7 .5 -.4 .5 .4 .5 1.5 .5 -2.6 .5 -.6 .5 .8 .5 -.1 .5 1.1 .5 -.7 .5 -3.2 .5 -.3 .5 -2 .5 -.9 .5 -.1 .5 -.6 .5 .7 .5 .9 .5 2.6 .5 -.2 .5 .2 .5 4.7 .5 1.6 .5 -.6 .5 -1.5 .5 .2 .5 .2 .5 -.1 .5 2.3 .5 -1.5
l.5 1.1 .5 -1.5 .5 1.2 .5 -2.1 .5 .1 .5 -.2 .5 1.9 .5 .8 .5 -2.1 .5 .5 .5 -1.1 .5 -.1 .5 -1.1 .5 2.8 .5 -2.6 .5 -.6 .5 .2 .5 -.8 .5 -.6 .5 -1.2 .5 1.2 .5 -2.5 .5 -.8 .5 -1.5 .5 -1.7 .5 0 .5 -.4 .4 0 .6 .4 .5 .2 .5 2.3 .5 .4 .5 2.7 .5 -.4 .5 1.6 .5 .8 .5 0 .5 1.2 .5 -.2 .5 .3 .5 2.2 .5 -1.3 .5 -1.6 .5 1.3 .5 -1.2 .5 -.9 .5 .2 .5 1.7 .5 -3.2 .5 .4 .5 -.6 .5 -.1 .5 .8 .5 -1.3 .5 -.2 .5 .3 .5 1.8 .5 -.1 .5 1.8 .5 -.3
l.5 2.1 .5 1 .5 -2.3 .5 .3 .5 1.3 .5 -.4 .5 -1.7 .5 1.1 .5 .9 .5 1.3 .5 -2.4 .5 -.3 .5 1.4 .5 -.5 .5 -.3 .5 .4 .5 -.4 .5 1.5 .5 -2.6 .5 1.8 .5 .8 .5 -.3 .5 -3 .5 2.3 .5 -.9 .5 2.9 .5 -.2 .5 -1.2 .5 -.8 .5 1.2 .5 -.2 .5 -2.7 .5 3.4 .5 -1.6 .5 -1.6 .5 2.3 .5 -2.5 .5 1.8 .5 1 .5 .1 .5 -1 .5 -1.2 .5 1.8 .5 .1 .5 .7 .5 -2.9 .5 1.4 .5 .2 .5 -.5 .5 0 .5 .5 .5 -1.2 .5 1.1 .5 .6 .5 -2.2 .5 1.9 .5 -.5 .5 .8 .5 1.1 .5 -1.9
l.5 -.6 .5 2.6 .5 -1.4 .5 -1.9 .5 2.5 .5 -.4 .5 -1.7 .5 1.3 .5 .6 .5 -1.9 .5 1.5 .5 -.4 .5 .5 .5 .8 .5 -1.2 .5 -.3 .5 1.3 .5 -.6 .5 1.6 .5 -2.6 .5 -.9 .5 2.8 .5 -1.6 .5 -.4 .5 .6 .5 1.6 .5 -3.2 .5 -1.3 .5 1.6 .5 0 .5 2 .5 -1.4 .5 .6 .5 -.5 .5 -1.2 .5 2.3 .5 -.8 .5 1.1 .5 -1.8 .5 -1.2 .5 1.8 .5 1 .5 -1.2 .5 -1.3 .5 1 .5 1.7 .5 .2 .5 -2.4 .5 .4 .5 -1.8 .5 2.1 .5 0 .5 3.3 .5 -4 .5 1.4 .5 -2 .5 -1.3 .5 .8 .5 .2 .5 -3.4
l.5 1.1 .5 -.2 .5 -.9 .3 .2 .7 .1 .5 .8 .5 2.2 .5 -2.1 .5 .7 .5 2 .5 0 .5 .2 .5 -1.9 .5 2.5 .5 .1 .5 -.1 .5 -.3 .5 .3 .5 .1 .5 2 .5 -.7 .5 .4 .5 -.2 .5 .5 .5 -1.3 .5 2.3 .5 -.8 .5 .7 .5 -1.1 .5 .4 .5 .3 .5 -.7 .5 -1 .5 1.2 .5 1.2 .5 -.9 .5 -1.7 .5 1.5 .5 .5 .5 -.5 .5 -1 .5 -.6 .5 2.5 .5 -.7 .5 2.8 .5 -2.5 .5 .2 .5 -1.3 .5 1.2 .5 1.3 .5 -1.6 .5 -.5 .5 -1.5 .5 1.7 .5 -2.6 .5 3.1 .5 .3 .5 -2.1 .5 .6 .5 .2
l.5 -1.7 .5 .7 .5 .7 .5 -.6 .5 1.9 .5 -.1 .5 -.7 .5 .7 .5 -2.3 .5 1.6 .5 .1 .5 -.1 .5 -.6 .5 .3 .5 .8 .5 -1.4 .5 -1.5 .5 1.3 .5 -.2 .5 -1 .5 1.7 .5 .6 .5 -.1 .5 -.4 .5 -.2 .5 -1.7 .5 .6 .5 1.9 .5 -2.6 .5 1.1 .5 2.1 .5 -2.7 .5 1.4 .5 .9 .5 -2.3 .5 -1.1 .5 .9 .5 1.5 .5 -.8 .5 1.8 .5 0 .5 -2.4 .5 1.7 .5 -.4 .5 .5 .5 -.9 .5 -.3 .5 .6 .5 1.4 .5 -1 .5 .4 .5 .1 .5 -.3 .5 -.6 .5 -1.2 .5 1.5 .5 .6 .5 -.4 .5 -.7 .5 1.8
l.5 -1.9 .5 1.6 .5 .6 .5 -.3 .5 .2 .5 -.4 .5 -.7 .5 -1 .5 1.9 .5 .2 .5 -2 .5 3.6 .5 -1.5 .5 -.3 .5 -.3 .5 -.4 .5 .5 .5 -.4 .5 -1.7 .5 .8 .5 .5 .5 -1.1 .5 1.5 .5 -.9 .5 -.4 .5 -.4 .5 .1 .5 -4.3 .5 .3 .5 .4 .5 -1.5 .5 -.4 .5 -1 .5 -.5 .5 .5 .5 .6 .5 .5 .5 -.2 .5 1.3 .5 3.3 .5 -1 .5 2.4 .5 -.2 .5 1.1 .5 -.4 .5 -.2 .5 -.1 .5 -.5 .5 .5 .5 .6 .5 -.8 .5 1.7 .5 -1 .5 .6 .5 .2 .5 -2.6 .5 2.4 .5 -.8 .5 1.2 .5 -1.4
l.5 -.1 .5 -1.2 .5 -.9 .5 2 .5 -.1 .5 -.5 .5 1.9 .5 -1.9 .5 0 .5 1.9 .5 -2.4 .5 -.7 .5 4 .5 -2.1 .5 1 .5 -2.6 .5 1 .5 .9 .5 -2.1 .5 .4 .5 -.3 .5 1.7 .5 -1.4 .5 -.4 .5 -.4 .5 .4 .5 1.3 .5 -3.4 .5 2 .5 -.3 .5 -1.4 .5 -1 .5 -.4 .5 1.7 .5 -.8 .5 -.8 .5 -.2 .5 -.2 .5 -.8 .5 1.3 .5 1.3 .5 1.1 .5 -1.9 .5 .9 .5 .7 .5 2.5 .5 -.6 .5 0 .5 -1 .5 1.8 .5 -1 .5 -.5 .5 -.2 .5 .2 .5 2 .5 -1.9 .5 -.7 .5 1.1 .5 .9 .5 -2.1
l.5 2 .5 -3.4 .5 3.9 .5 -.2 .5 -2.2 .5 1.5 .5 .8 .5 .8 .5 -.6 .5 -1 .5 1.2 .5 -.9 .5 -.2 .5 2.1 .5 -.9 .5 -.4 .5 -2.3 .5 .5 .5 -.6 .5 2.8 .5 -.8 .5 .2 .5 .1 .5 -1.7 .5 -1.4 .5 .9 .5 1 .5 -.5 .5 -.7 .5 .7 .5 -2.4 .5 2.4 .5 -3.5 .5 .1 .5 -1.9 .5 1.9 .5 .9 .5 -1.2 .5 -.4 .5 .6 .5 .3 .5 -.1 .5 -.4 .5 0 .5 2.8 .5 -1.7 .5 1.2 .5 .7 .5 .4 .5 1.5 .5 -1.1 .5 .3 .5 1.6 .5 -1.1 .5 .5 .5 1.2 .5 -.8 .5 -.6 .5 2 .5 -1.9
l.5 1.3 .5 -.5 .5 .6 .5 .4 .5 -.3 .5 -1.4 .5 .7 .5 -.8 .5 2.3 .5 -1.7 .5 .9 .5 -3.9 .5 3.2 .5 -.8 .5 .4 .5 -1.9 .5 .3 .5 .3 .5 .3 .5 -.3 .5 1 .5 -.3 .5 1 .5 -3.2 .5 -.2 .5 1.7 .5 -1.5 .5 -1.3 .5 .2 .5 -.3 .5 -2.9 .5 1.8 .5 -3.1 .5 1.3 .5 -1.2 .5 -1.6 .5 .2 .5 .3 .5 .4 .5 .5 .5 1.2 .5 2.8 .5 0 .5 -.5 .5 1.9 .5 .5 .5 1.4 .5 1 .5 -3.2 .5 3.3 .5 -1.1 .5 .8 .5 .5 .5 -1.2 .5 .2 .5 1.7 .5 -.2 .5 -.1 .5 .5 .5 -1.2
l.5 -.4 .5 .9 .5 0 .5 1.8 .5 -3.5 .5 -1 .5 2.2 .5 .4 .5 -1.5 .5 3.1 .5 -1.4 .5 -1.9 .5 1.1 .5 -.2 .5 1.3 .5 -1 .5 2.4 .5 -2.1 .5 -1.3 .5 1.4 .5 .2 .5 1.2 .5 -1.6 .5 -1.9 .5 -.3 .5 4 .5 -2.5 .5 -.1 .5 1 .5 .5 .5 .5 .5 .3 .5 -1 .5 -1.9 .5 2.4 .5 -2.9 .5 2.2 .5 1.2 .5 -.3 .5 -3.3 .5 2.6 .5 -.9 .5 -2.3 .5 2.3 .5 .1 .5 -.8 .5 .5 .5 2 .5 -.7 .5 .3 .5 -2.2 .5 2.4 .5 1.5 .5 -2.1 .5 -1.2 .5 -.6 .5 .8 .5 -1.6 .5 2 .5 -1.2
l.5 .4 .5 -.7 .5 -.3 .5 -1.2 .5 1.2 .5 -2.6 .5 1.2 .5 -.2 .5 1.3 .5 -.6 .5 -2 .5 .7 .5 -2.1 .5 -.6 .5 .1 .5 .3 .5 -.3 .5 -.5 .5 1.5 .5 -.1 .5 .7 .5 .3 .5 -.6 .5 2 .5 -.4 .5 .4 .5 -.3 .5 2.1 .5 -1.5 .5 1.3 .5 -1.1 .5 -2.9 .5 1.6 .5 -.3 .5 -2.1 .5 -2 .5 1.6 .5 -2.2 .5 -2.1 .5 1.2 .5 -1 .5 -.5 .3 -.4 .7 .9 .5 .9 .5 2.6 .5 .2 .5 .7 .5 1.6 .5 .8 .5 2.8 .5 .2 .5 .6 .5 -2.2 .5 2.1 .5 -.9 .5 -1.2 .5 2.8 .5 -2.4 .5 .7
l.5 .2 .5 -3.9 .5 -1 .5 2.2 .5 -3.1 .5 1.6 .5 -2.6 .5 .9 .5 .4 .5 .6 .5 .5 .5 1.4 .5 -1 .5 1.9 .5 -1.1 .5 4.8 .5 -1.4 .5 -2.1 .5 1.4 .5 2.8 .5 -1.2 .5 .1 .5 -.4 .5 -1.1 .5 -1.1 .5 2.8 .5 -.2 .5 1 .5 -.8 .5 -.3 .5 -.5 .5 .2 .5 1.4 .5 1.8 .5 -3.2 .5 1.6 .5 .5 .5 -2.5 .5 1.4 .5 -.3 .5 .2 .5 .3 .5 -.4 .5 .1 .5 -2.4 .5 2.7 .5 1.2 .5 -.4 .5 1.2 .5 .7 .5 -1.4 .5 -2.6 .5 3.1 .5 -.1 .5 -1.9 .5 -.5 .5 .7 .5 1.6 .5 -1.6 .5 .8
l.5 -1.6 .5 -.7 .5 .5 .5 .5 .5 -1 .5 -.2 .5 .2 .5 1.6 .5 1.9 .5 -1.3 .5 -1 .5 -2.5 .5 3.3 .5 -1.9 .5 -.9 .5 -.3 .5 1.5 .5 -1.5 .5 1 .5 1.7 .5 -.2 .5 -2.1 .5 -1.4 .5 .3 .5 1.7 .5 -.9 .5 .2 .5 -3.7 .5 1.4 .5 -.8 .5 -.9 .5 0 .5 .2 .5 -.4 .5 -1 .5 3.5 .5 -2.8 .5 1.8 .5 -1.5 .5 -1.3 .5 1.3 .5 -4.5 .5 -5.5 .5 -2.5 .5 -8 .5 -11.5 .5 -14.7 .5 -13.8 .5 -11.8 .4 -2.9 .6 10.2 .5 15.8 .5 18.5 .5 12.9 .5 6.9 .5 3.3 .5 3.9 .5 1 .5 -1.1 .5 -.7
l.5 -2.8 .5 -4.4 .5 -7 .5 -7 .5 -7.6 .5 -2.1 .5 4.3 .5 7.9 .5 11.3 .5 6.4 .5 4.3 .5 4.8 .5 1.5 .5 .4 .5 -.2 .5 -1 .5 .5 .5 -3 .5 2.7 .5 -.7 .5 3 .5 -4.2 .5 1.9 .5 -.2 .5 3 .5 -3.8 .5 1.2 .5 -.9 .5 1 .5 -.6 .5 1.6 .5 -1.5 .5 3.2 .5 -.9 .5 .7 .5 0 .5 .2 .5 -.2 .5 -.7 .5 .9 .5 -1.6 .5 2.3 .5 -1.3 .5 -.6 .5 .1 .5 -.8 .5 2.6 .5 -2.3 .5 1.3 .5 .4 .5 .3 .5 .3 .5 -2 .5 0 .5 1.3 .5 .4 .5 -1.9 .5 2 .5 .3 .5 -.4
l.5 -1 .5 1.2 .5 -.3 .5 -3.2 .5 4.4 .5 -2 .5 2.2 .5 -2.6 .5 0 .5 -1.7 .5 2.8 .5 -.9 .5 .1 .5 -1.3 .5 0 .5 -.1 .5 -.9 .5 .9 .5 1 .5 -.1 .5 -1.8 .5 1.1 .5 .2 .5 -1.3 .5 2.6 .5 -.5 .5 -1.7 .5 2.9 .5 -2.8 .5 2.5 .5 0 .5 -2.5 .5 2.7 .5 .8 .5 -2.6 .5 1.1 .5 -.1 .5 -.6 .5 1.1 .5 -1.5 .5 1.1 .5 -.2 .5 -1.9 .5 2.1 .5 -1 .5 -.1 .5 1.5 .5 -1.4 .5 -.6 .5 1 .5 .3 .5 .1 .5 -1.5 .5 .8 .5 .3 .5 -2.5 .5 4.5 .5 -2.4 .5 1.9 .5 -2
l.5 -2.6 .5 2 .5 1 .5 -1.9 .5 .7 .5 .3 .5 .3 .5 .3 .5 2.1 .5 -2 .5 -.5 .5 .9 .5 -.8 .5 1.1 .5 .3 .5 -.3 .5 .6 .5 -.5 .5 -.2 .5 1.2 .5 -2.9 .5 1 .5 .6 .5 -.1 .5 1.5 .5 .3 .5 -1.3 .5 -1.9 .5 1.6 .5 -1.9 .5 .9 .5 -.7 .5 -1 .5 .4 .5 2.4 .5 -.1 .5 -2.5 .5 1.8 .5 .2 .5 .7 .5 -.4 .5 .4 .5 -.9 .5 1.8 .5 -.5 .5 -2.5 .5 .3 .5 1.9 .5 .4 .5 -1 .5 -.5 .5 1.7 .5 -1.6 .5 1.1 .5 -.4 .5 .5 .5 -2.2 .5 1.6 .5 1.2 .5 -1.2
l.5 -1.3 .5 3.9 .5 -3.7 .5 -1.3 .5 .1 .5 .7 .5 .8 .5 -2.6 .5 2.6 .5 1.9 .5 -2.1 .5 1.9 .5 .4 .5 -1.2 .5 .1 .5 .6 .5 -1.5 .5 .7 .5 1.4 .5 -3.3 .5 1.6 .5 0 .5 2.2 .5 -1.1 .5 -.8 .5 1 .5 -2.3 .5 1.9 .5 -1.6 .5 1.1 .5 -.7 .5 1.6 .5 1.5 .5 -.9 .5 -1.7 .5 -2 .5 3.5 .5 -1.9 .5 -1.2 .5 .4 .5 1.4 .5 .6 .5 -2 .5 -.5 .5 .3 .5 0 .5 -1.7 .5 .4 .5 .3 .5 1 .5 1.2 .5 -1.9 .5 1.8 .5 .8 .5 -3.3 .5 1.9 .5 -.6 .5 1.4 .5 -.4 .5 -.9
l.5 2.5 .5 -2.5 .5 .7 .5 1.2 .5 .9 .5 -2.4 .5 3.3 .5 -1.1 .5 -2 .5 -.9 .5 4.1 .5 -2.4 .5 .1 .5 .4 .5 -1.2 .5 1.9 .5 -3 .5 1.3 .5 -1.2 .5 .4 .5 1.8 .5 -1.7 .5 1.8 .5 -1.6 .5 1.9 .5 -3.1 .5 1.3 .5 2.2 .5 -1.2 .5 -.6 .5 .9 .5 -.9 .5 -.1 .5 .2 .5 -2.2 .5 2 .5 2 .5 -1.6 .5 -1.8 .5 2.7 .5 -3.8 .5 .8 .5 2.5 .5 -.6 .5 -.2 .5 .7 .5 0 .5 -1.4 .5 -.1 .5 -.3 .5 1.3 .5 1.1 .5 0 .5 -2.2 .5 1.4 .5 1.7 .5 -4.7 .5 3.3 .5 .8 .5 -.2
l.5 -3.3 .5 3.2 .5 -.5 .5 -.9 .5 1.4 .5 0 .5 -1.2 .5 -.4 .5 .6 .5 2 .5 -2 .5 -1.1 .5 .9 .5 -1 .5 1.2 .5 1.2 .5 -1.5 .5 -.4 .5 .2 .5 -1.5 .5 .3 .5 -.3 .5 1.3 .5 -.3 .5 0 .5 2.8 .5 -1.8 .5 .9 .5 -1.1 .5 -2.3 .5 3.1 .5 -2.7 .5 1.9 .5 -2.3 .5 1.9 .5 .5 .5 3.1 .5 -3.7 .5 1.4 .5 -1.5 .5 .6 .5 -1.6 .5 1.2 .5 -1.3 .5 0 .5 .4 .5 .3 .5 1.4 .5 .1 .5 -2.7 .5 -.6 .5 2.1 .5 .4 .5 -.9 .5 .8 .5 .2 .5 -1.6 .5 -.8 .5 3.3 .5 -.3
l.5 -2.9 .5 1.1 .5 -1 .5 0 .5 -1.2 .5 -1.3 .5 .3 .5 2.1 .5 -1.8 .5 -1 .5 0 .5 .1 .5 .9 .5 -1.7 .5 2.6 .5 1 .5 -1.6 .5 1.3 .5 -1.2 .5 2.5 .5 .8 .5 -.5 .5 0 .5 1.2 .5 -.3 .5 1.3 .5 -.6 .5 1 .5 -3.2 .5 1.7 .5 -2 .5 1.8 .5 1 .5 .1 .5 -1.4 .5 .7 .5 -.9 .5 .4 .5 1.6 .5 -.6 .5 -.8 .5 .6 .5 -.7 .5 -2.2 .5 1.5 .5 .5 .5 -1.1 .5 1 .5 -.9 .5 2.2 .5 -2.1 .5 2.2 .5 -.8 .5 -1.3 .5 1.2 .5 .4 .5 -1.8 .5 1.6 .5 .3 .5 -1.8
l.5 1.4 .5 -.5 .5 -1.3 .5 1.4 .5 2.4 .5 -3.6 .5 .4 .5 -2.7 .5 2.3 .5 -2.3 .5 -.2 .5 -1.9 .5 -.4 .5 -2.1 .7 -.8 .3 .4 .5 1.7 .5 -.1 .5 2.7 .5 1 .5 3.4 .5 0 .5 -1 .5 .3 .5 1.1 .5 -.9 .5 .4 .5 .3 .5 -.6 .5 3.2 .5 -3.7 .5 1.3 .5 3.1 .5 -2.6 .5 .5 .5 .4 .5 -2.6 .5 1.8 .5 .9 .5 -3.2 .5 4.7 .5 -.7 .5 -3 .5 .8 .5 1.6 .5 -1.7 .5 .3 .5 .8 .5 -2.8 .5 2.8 .5 0 .5 -.8 .5 -.6 .5 1.3 .5 -2 .5 .9 .5 -.8 .5 -1.7 .5 2.2 .5 -.4
l.5 -.1 .5 .4 .5 -1 .5 -.3 .5 .8 .5 .8 .5 -1.6 .5 1.9 .5 -1.8 .5 .7 .5 .5 .5 -.8 .5 1.2 .5 -1.8 .5 1.9 .5 -1.2 .5 1.9 .5 -1.7 .5 1.7 .5 -1.4 .5 1.9 .5 -1.3 .5 1 .5 -.5 .5 .3 .5 -.1 .5 -1.2 .5 1.6 .5 0 .5 -.5 .5 2 .5 -2.3 .5 2 .5 -2.5 .5 1 .5 -1.7 .5 2.8 .5 -.9 .5 -2 .5 2.7 .5 -.7 .5 -.8 .5 .3 .5 -1.4 .5 2.1 .5 -3.8 .5 3.1 .5 -.9 .5 .1 .5 0 .5 .4 .5 .9 .5 0 .5 .3 .5 .2 .5 .2 .5 -2.5 .5 .6 .5 2.6 .5 -2
l.5 1.9 .5 -3.1 .5 .1 .5 1.1 .5 -1.3 .5 1.5 .5 -1.4 .5 .7 .5 -2.6 .5 2.9 .5 -1.2 .5 -1.7 .5 .7 .5 -.8 .5 1 .5 -.6 .5 0 .5 -1.5 .5 -1.8 .5 1.7 .5 -2.4 .5 3.8 .5 -4.5 .5 1.2 .5 .1 .4 -.3 .6 1.1 .5 -.3 .5 -1.3 .5 2.2 .5 .4 .5 1.3 .5 1.4 .5 -1.3 .5 1.6 .5 -1.6 .5 .6 .5 .9 .5 1 .5 -2.1 .5 1 .5 1.6 .5 -1.2 .5 -.4 .5 1.5 .5 -.9 .5 0 .5 .4 .5 1.7 .5 -.4 .5 1.3 .5 -1.7 .5 -.6 .5 -.6 .5 1.2 .5 .2 .5 -1.4 .5 3 .5 -1.2 .5 -2.5
l.5 2.2 .5 -.8 .5 .1 .5 .8 .5 -2.3 .5 1 .5 2.2 .5 -.8 .5 .2 .5 -1.9 .5 -.2 .5 -.9 .5 1.9 .5 2.1 .5 -3.2 .5 1.8 .5 -1.3 .5 .4 .5 1.9 .5 -2.1 .5 .9 .5 -2.3 .5 -.5 .5 1.5 .5 .2 .5 1.1 .5 -.6 .5 -2.4 .5 4.2 .5 -2.4 .5 .6 .5 .5 .5 -1.1 .5 .7 .5 -.3 .5 .5 .5 -1.7 .5 -1.4 .5 2.3 .5 .6 .5 .7 .5 1.6 .5 -1.9 .5 1.3 .5 -3.8 .5 1.2 .5 .9 .5 -.3 .5 .5 .5 -1.8 .5 2.7 .5 -1.7 .5 1.3 .5 .2 .5 -2.1 .5 1.1 .5 -.2 .5 -.6 .5 -.7 .5 .6
l.5 1.4 .5 -.8 .5 .6 .5 .3 .5 -1.8 .5 .4 .5 1.7 .5 -.8 .5 -.9 .5 -.2 .5 .5 .5 -1.2 .5 .9 .5 -.4 .5 1.8 .5 .4 .5 -1.5 .5 2.8 .5 -3.3 .5 .8 .5 0 .5 1 .5 -.4 .5 .9 .5 -.2 .5 0 .5 .8 .5 -1.4 .5 -.5 .5 .3 .5 -.3 .5 -.9 .5 1.6 .5 -1.6 .5 1.5 .5 0 .5 -1.6 .5 .8 .5 -1 .5 1.8 .5 -2 .5 1.3 .5 -1.9 .5 .7 .5 3.7 .5 -3.5 .5 -1.1 .5 .6 .5 .4 .5 0 .5 -.1 .5 1.9 .5 0 .5 -.9 .5 2.2 .5 -1.7 .5 -1.4 .5 1.3 .5 .4 .5 .4
l.5 -3.5 .5 1.9 .5 .8 .5 .5 .5 -.4 .5 .9 .5 -2 .5 1.3 .5 -2.2 .5 2 .5 -2 .5 2 .5 -.7 .5 -1.5 .5 2.2 .5 -1.8 .5 .2 .5 0 .5 .6 .5 2 .5 -1.8 .5 1 .5 .8 .5 -2.5 .5 1.4 .5 0 .5 -1.3 .5 .2 .5 -.4 .5 1.8 .5 -1 .5 .6 .5 1.1 .5 -.6 .5 2.2 .5 -1.6 .5 -.1 .5 -2.9 .5 1.8 .5 .2 .5 -.3 .5 1.3 .5 -.6 .5 -2.9 .5 1.7 .5 .9 .5 -1.4 .5 .4 .5 -.4 .5 1.8 .5 .2 .5 -.1 .5 -1 .5 -1.7 .5 2.1 .5 .9 .5 .5 .5 -2.2 .5 -.2 .5 0
l.5 .6 .5 -1.1 .5 1.8 .5 .1 .5 -.9 .5 -2.1 .5 3.2 .5 -.7 .5 -1.7 .5 3.3 .5 -2 .5 0 .5 .7 .5 -1.7 .5 1.5 .5 0 .5 0 .5 -1.1 .5 1.9 .5 .4 .5 -1.8 .5 .9 .5 .1 .5 0 .5 -1.2 .5 .4 .5 1 .5 -.7 .5 1.4 .5 -1.1 .5 .9 .5 -1.1 .5 1 .5 .6 .5 -4.1 .5 3.6 .5 -1.4 .5 .3 .5 .2 .5 -2.1 .5 2.3 .5 -2.5 .5 1.2 .5 -.7 .5 .9 .5 2.7 .5 -1.8 .5 .8 .5 -.8 .5 -.5 .5 1 .5 1.2 .5 -3.6 .5 3.3 .5 -.4 .5 -2.9 .5 1.2 .5 1.5 .5 .5 .5 -.2
l.5 -1.9 .5 1.5 .5 -.3 .5 -2 .5 .4 .5 -1 .5 2.5 .5 -1.4 .5 2 .5 -2.2 .5 1.8 .5 -.5 .5 -.6 .5 .7 .5 .6 .5 -1.6 .5 1.5 .5 -.6 .5 0 .5 .9 .5 -1.4 .5 -.4 .5 .4 .5 1.7 .5 -1 .5 -.6 .5 -.9 .5 .3 .5 .7 .5 .1 .5 .3 .5 -.4 .5 .6 .5 -1.6 .5 -1 .5 1 .5 1.3 .5 -.1 .5 -.5 .5 -.1 .5 -1 .5 1.7 .5 -.1 .5 -1.8 .5 1.7 .5 -.6 .5 -1.7 .5 1.7 .5 -1.7 .5 2.5 .5 -.8 .5 -1.2 .5 1.7 .5 -1.1 .5 2.2 .5 -.8 .5 -.7 .5 1.4 .5 -1.9 .5 1.7
l.5 -.4 .5 .1 .5 -2.5 .5 1.5 .5 .2 .5 .2 .5 .8 .5 -1.2 .5 -.7 .5 2.6 .5 -.1 .5 -2.4 .5 2 .5 -.4 .5 .5 .5 -1.4 .5 .6 .5 -1.2 .5 1.1 .5 -.1 .5 -.5 .5 1.9 .5 -1 .5 -1 .5 0 .5 2 .5 -2.9 .5 -.2 .5 .2 .5 -.8 .5 .7 .5 -.6 .5 -1.1 .5 .5 .5 .2 .5 -2.9 .5 1.7 .5 -1.2 .5 .4 .5 -.4 .5 .5 .5 1.4 .5 .3 .5 2.6 .5 -1.7 .5 .7 .5 -1.4 .5 3.9 .5 -3.7 .5 2.6 .5 .3 .5 .1 .5 -1.5 .5 -.8 .5 2.8 .5 -2.2 .5 1.5 .5 -1.2 .5 .5 .5 -.2
l.5 .6 .5 0 .5 1.3 .5 -2.5 .5 .4 .5 2.6 .5 -3.7 .5 1.8 .5 .9 .5 -2.1 .5 .3 .5 1.9 .5 -4.6 .5 4.3 .5 -3 .5 1.1 .5 2.1 .5 -1.1 .5 1 .5 1.4 .5 -5 .5 3.9 .5 -2.2 .5 .2 .5 -.4 .5 1 .5 .5 .5 -1.8 .5 1.1 .5 .5 .5 .2 .5 .7 .5 -1.7 .5 -.1 .5 1.4 .5 -.7 .5 -1.1 .5 .4 .5 -.1 .5 1.2 .5 -2.8 .5 1.2 .5 1.2 .5 -.5 .5 .3 .5 .9 .5 -.5 .5 0 .5 1.1 .5 -1.1 .5 -.5 .5 3.6 .5 -1.1 .5 -.9 .5 -.8 .5 0 .5 1.6 .5 -.9 .5 -1.6 .5 -.5
l.5 1.4 .5 -.3 .5 -2.5 .5 4.1 .5 -.4 .5 -2.7 .5 -1.1 .5 3.5 .5 -2.3 .5 0 .5 1.1 .5 -2.1 .5 1.3 .5 .4 .5 -2 .5 .8 .5 .6 .5 .1 .5 .5 .5 .2 .5 -1.9 .5 .8 .5 0 .5 3.1 .5 -3.4 .5 2.1 .5 -.4 .5 .1 .5 -.4 .5 .6 .5 0 .5 1.6 .5 -1.5 .5 -.3 .5 .4 .5 1.5 .5 -1.8 .5 -1.9 .5 2.5 .5 -.9 .5 -1.9 .5 1.5 .5 -.6 .5 1.9 .5 .8 .5 -1.2 .5 -1.2 .5 -.7 .5 2.6 .5 0 .5 .2 .5 -.7 .5 .6 .5 -2 .5 1.9 .5 -1.5 .5 .9 .5 .8 .5 -2.3 .5 .3
l.5 2.1 .5 -1.4 .5 1 .5 -2.3 .5 .2 .5 1.2 .5 -.9 .5 -1.4 .5 1.5 .5 .9 .5 -.2 .5 1 .5 -.3 .5 .4 .5 -1.4 .5 1 .5 -.3 .5 -.5 .5 -1 .5 2.2 .5 -1.3 .5 2.4 .5 -1.8 .5 -.6 .5 2.1 .5 -2.8 .5 -.1 .5 1.1 .5 0 .5 -.6 .5 0 .5 -.3 .5 .1 .5 1.1 .5 .3 .5 -1.3 .5 1 .5 1.2 .5 -1 .5 -1 .5 1.7 .5 -1.1 .5 -1.4 .5 3.8 .5 -4 .5 2 .5 -.7 .5 -1 .5 2.6 .5 -2 .5 2.8 .5 -2.3"/>
<path stroke="#1a70df" d="M177 856.1
l.5 -1.4 .5 .1 .5 1 .5 .5 .5 .5 .5 -.3 .5 2.4 .5 -2.2 .5 .7 .5 -.5 .5 -.3 .5 .8 .5 1.3 .5 -2.2 .5 -1.2 .5 1.5 .5 2 .5 -2 .5 1.5 .5 1.3 .5 -1 .5 -3 .5 2.6 .5 -1.1 .5 .5 .5 -1.1 .5 1.6 .5 .7 .5 -1.5 .5 -.9 .5 .2 .5 3.3 .5 -2.1 .5 -.5 .5 1.8 .5 -1.5 .5 .5 .5 -.6 .5 1.8 .5 -.2 .5 1.7 .5 -1.6 .5 -.3 .5 -.6 .5 1.8 .5 -1.4 .5 .6 .5 -.7 .5 2.2 .5 -3.1 .5 -1 .5 1.3 .5 -.9 .5 -.8 .5 .5 .5 -1 .5 -1.2 .5 .4 .5 -3.4 .5 .4
l.6 -.7 .4 .4 .5 -1 .5 2.9 .5 2.9 .5 1.9 .5 .1 .5 -.1 .5 3.2 .5 1.2 .5 -3.4 .5 2.4 .5 .7 .5 0 .5 -2 .5 2.1 .5 -.1 .5 -.4 .5 1.4 .5 .1 .5 -1.3 .5 2.3 .5 -2.8 .5 3.7 .5 -3.4 .5 3 .5 -2.6 .5 2 .5 .5 .5 -1.5 .5 1.7 .5 -1.7 .5 .5 .5 .9 .5 .1 .5 .5 .5 .3 .5 2.5 .5 -2 .5 -.7 .5 0 .5 .1 .5 .4 .5 -.9 .5 2.6 .5 -1.6 .5 -1.3 .5 .2 .5 1.8 .5 -.6 .5 -1.1 .5 -.3 .5 0 .5 1.5 .5 -.9 .5 -1.5 .5 2.3 .5 -3.4 .5 2 .5 2.4
l.5 -.9 .5 -3.3 .5 1.6 .5 -.2 .5 2.1 .5 -.7 .5 1.2 .5 -.7 .5 0 .5 -1.8 .5 .7 .5 .2 .5 -.9 .5 3.1 .5 -.9 .5 -2.4 .5 3.2 .5 -1.9 .5 1.9 .5 -1.4 .5 -.4 .5 0 .5 -.4 .5 1.1 .5 -1 .5 2.5 .5 -1.3 .5 .7 .5 .9 .5 -1.8 .5 -.3 .5 3.9 .5 -3.8 .5 1.1 .5 1.6 .5 0 .5 -.8 .5 -.9 .5 2.8 .5 -.6 .5 -.7 .5 0 .5 1.2 .5 .4 .5 -1.2 .5 0 .5 .8 .5 -3.4 .5 4.7 .5 -3.1 .5 1.3 .5 1.1 .5 -.7 .5 1.8 .5 1 .5 -2 .5 .9 .5 0 .5 .7 .5 -1.2
l.5 -.1 .5 -.1 .5 .5 .5 1 .5 -2.3 .5 2.2 .5 -1 .5 -.1 .5 -1.6 .5 1.1 .5 2.3 .5 -1.8 .5 2.5 .5 -2.7 .5 -.5 .5 1.9 .5 -1.4 .5 1.7 .5 .7 .5 -.6 .5 -.5 .5 -1.1 .5 1.7 .5 .1 .5 -.8 .5 .3 .5 -.4 .5 1.1 .5 0 .5 -.2 .5 .8 .5 .3 .5 -.2 .5 -.2 .5 -.3 .5 1.3 .5 -.8 .5 1.2 .5 -.5 .5 1.3 .5 -1.8 .5 0 .5 .7 .5 0 .5 -.3 .5 .2 .5 .8 .5 -.6 .5 -1.5 .5 .6 .5 2.7 .5 -2.4 .5 .6 .5 -.1 .5 0 .5 .3 .5 1.2 .5 -1.2 .5 -.6 .5 .6
l.5 .5 .5 -2.5 .5 3.7 .5 -3.2 .5 1.7 .5 1.4 .5 -.5 .5 .5 .5 -.4 .5 -1 .5 3 .5 1.9 .5 -3 .5 -.2 .5 .1 .5 .1 .5 0 .5 1.3 .5 -1.8 .5 2.4 .5 -2.7 .5 -.6 .5 1 .5 .5 .5 -.5 .5 .6 .5 -.7 .5 -.2 .5 .4 .5 -.7 .5 .5 .5 .4 .5 -1.4 .5 3.9 .5 -3.9 .5 2.1 .5 .8 .5 -.3 .5 1.3 .5 -.8 .5 -.8 .5 1 .5 .8 .5 .7 .5 -1.7 .5 1.1 .5 -.7 .5 -1.5 .5 -.8 .5 1.5 .5 -.3 .5 -1.3 .5 2.9 .5 .8 .5 -.1 .5 -2 .5 .7 .5 -.6 .5 1.4 .5 .1
l.5 .2 .5 -.2 .5 1.8 .5 -1.1 .5 -.2 .5 .2 .5 1.8 .5 -2 .5 1.1 .5 -1.6 .5 2.2 .5 -.9 .5 -1.9 .5 3.3 .5 -2.6 .5 .4 .5 1.8 .5 .2 .5 -.7 .5 -.3 .5 -.3 .5 0 .5 -.6 .5 -.7 .5 2 .5 -1.9 .5 1.4 .5 -.1 .5 -1.4 .5 -1 .5 -2.8 .5 -1.4 .5 -2.5 .5 -3.4 .5 -3.6 .5 -8.7 .5 -5.8 .5 -7.9 .5 -7.7 .6 -3.8 .4 1.9 .5 8.9 .5 10.5 .5 8.8 .5 6.6 .5 3.8 .5 2.1 .5 1.1 .5 1.1 .5 -3.4 .5 -1.4 .5 -2.1 .5 -6.4 .5 -6.7 .5 -9.4 .5 -8.3 .5 -6.6 .6 -4 .4 2.9 .5 10.2
l.5 11.7 .5 10.3 .5 8 .5 2.5 .5 3 .5 3.2 .5 -.2 .5 0 .5 2 .5 .6 .5 0 .5 -1.2 .5 -1.5 .5 .8 .5 -4.4 .5 -3 .5 -3.6 .5 -3.8 .5 -4.3 .5 -3.6 .7 -2.6 .3 .9 .5 4.5 .5 5.6 .5 4.7 .5 4.1 .5 5.6 .5 .6 .5 3.2 .5 1.5 .5 -3.6 .5 3.7 .5 -.6 .5 -.9 .5 2 .5 .2 .5 -.3 .5 .6 .5 -1 .5 0 .5 1.8 .5 -1.6 .5 -1.7 .5 -1.7 .5 1.4 .5 -1.3 .5 .2 .5 1 .5 -1.6 .5 -.8 .5 -.6 .5 1.1 .5 -2.3 .5 -5.1 .5 -7.2 .5 -9.9 .5 -17.8 .5 -20.4 .5 -19.3 .6 -11.8
l.4 8.9 .5 25.8 .5 25.1 .5 17.8 .5 7.8 .5 5.5 .5 2.6 .5 1.9 .5 .1 .5 -.6 .5 -.7 .5 2.5 .5 -.9 .5 1.8 .5 .5 .5 -.8 .5 1.6 .5 .4 .5 -1.6 .5 1 .5 -.1 .5 -1.8 .5 1.4 .5 1.3 .5 -.4 .5 .8 .5 -2.1 .5 .8 .5 -.6 .5 .4 .5 -.2 .5 .8 .5 .2 .5 -.1 .5 -1.1 .5 .9 .5 -1.2 .5 .8 .5 1.3 .5 .1 .5 -1.2 .5 -1.8 .5 1.7 .5 1.5 .5 -1.1 .5 -.4 .5 -.5 .5 -.5 .5 -1.2 .5 .9 .5 -.8 .5 1.4 .5 .3 .5 -1.4 .5 -.8 .5 -.3 .5 .5 .5 .6 .5 -.9 .5 -3.5
l.5 1.8 .5 2 .5 -2.7 .5 -.9 .5 -1.2 .5 -2.8 .5 -3.5 .5 .2 .5 -7.3 .5 -3.8 .5 -12.7 .5 -23.4 .5 -46.4 .5 -72.8 .5 -102.4 .5 -97.3 .4 -32.3 .6 94.7 .5 126.4 .5 91.8 .5 49.4 .5 20.9 .5 8.5 .5 7.2 .5 1.9 .5 2.2 .5 4.3 .5 -.2 .5 -.3 .5 2.8 .5 0 .5 .9 .5 .1 .5 -1.8 .5 1.1 .5 2 .5 -2.2 .5 .1 .5 -.6 .5 -.8 .5 .3 .5 -1.5 .5 -1.3 .5 -.6 .5 .7 .5 2.6 .5 2.4 .5 .7 .5 -1 .5 1.7 .5 -.1 .5 -.4 .5 -1 .5 .7 .5 .7 .5 -.7 .5 -.6 .5 .6 .5 -.4 .5 -1
l.5 1.3 .5 -.3 .5 -.9 .5 -2.5 .5 1.7 .5 -1.9 .5 -5.1 .5 -2.4 .5 -3.6 .5 -7.1 .5 -12.4 .5 -7.7 .5 -8.8 .5 -5.4 .3 -1.1 .7 9.1 .5 11.2 .5 11.6 .5 7.7 .5 8 .5 3.2 .5 1.6 .5 2 .5 -.4 .5 -.9 .5 .4 .5 2.6 .5 -1.5 .5 -.5 .5 1.9 .5 -4.8 .5 -.9 .5 -2.7 .5 -4.4 .5 -4.9 .5 -9.9 .5 -12.8 .5 -20.3 .5 -16.4 .5 -18.8 .7 -13 .3 3.9 .5 20.3 .5 24.3 .5 20.4 .5 19.5 .5 7.4 .5 4.8 .5 3.4 .5 -1 .5 1.1 .5 2.8 .5 -1.3 .5 1.4 .5 -2.6 .5 .5 .5 -3.6 .5 -2.4 .5 -5.3 .5 -7.2
l.5 -14.6 .5 -22.9 .5 -30.2 .5 -35.3 .5 -36.5 .6 -19.5 .4 14.6 .5 44.9 .5 45.1 .5 35 .5 18.7 .5 11 .5 3.2 .5 4.7 .5 -1.5 .5 4.7 .5 0 .5 1.7 .5 -2.4 .5 2.3 .5 -1.4 .5 1.9 .5 .1 .5 -.3 .5 -.6 .5 2.4 .5 -.1 .5 -1.5 .5 .5 .5 -1.9 .5 -1.7 .5 -1.9 .5 0 .5 -3.9 .5 -1 .5 -1.5 .6 -.6 .4 .6 .5 .7 .5 3.8 .5 -.5 .5 3.6 .5 2.4 .5 2.1 .5 1.7 .5 -1.3 .5 1.3 .5 -.4 .5 1.1 .5 1.1 .5 1.1 .5 -1.1 .5 .1 .5 -2.1 .5 1.7 .5 -1 .5 .5 .5 1.6 .5 -1.4 .5 -.3
l.5 -.7 .5 1.1 .5 .1 .5 1.7 .5 -2.3 .5 1.6 .5 .7 .5 -2.5 .5 -2.1 .5 1.2 .5 1.4 .5 -2.8 .5 -.7 .5 -.2 .5 -2.6 .5 -2.7 .7 .2 .3 .2 .5 1.8 .5 1.7 .5 1.3 .5 -.8 .5 3.7 .5 -.7 .5 -2.1 .5 2.4 .5 0 .5 1.5 .5 -2.1 .5 -.2 .5 2.4 .5 1.4 .5 -1 .5 -1 .5 .4 .5 .3 .5 .4 .5 1 .5 -1.9 .5 2.3 .5 .5 .5 -1.8 .5 2.2 .5 -2.2 .5 -.2 .5 1.9 .5 -3.1 .5 3 .5 -3 .5 1.3 .5 .9 .5 -1.1 .5 .3 .5 -1 .5 1.6 .5 1.1 .5 -.8 .5 1.2 .5 -1.4 .5 .9
l.5 -1 .5 2 .5 -2.6 .5 .7 .5 .7 .5 -2.9 .5 3.1 .5 -1 .5 -.4 .5 0 .5 .2 .5 -1.3 .5 .5 .5 -1.8 .5 .5 .5 .6 .5 -1.5 .5 1.1 .5 -2.7 .5 -.5 .5 .2 .5 -1 .5 .4 .4 -.5 .6 -.5 .5 2.3 .5 .1 .5 1 .5 0 .5 2 .5 .2 .5 1.2 .5 -1.5 .5 -.3 .5 1.1 .5 -1 .5 .9 .5 2.2 .5 -1.5 .5 .4 .5 1.5 .5 .3 .5 -2.2 .5 -.1 .5 .3 .5 -.8 .5 1.6 .5 -.8 .5 -.2 .5 0 .5 -.8 .5 1.1 .5 -2.6 .5 .6 .5 -1.8 .5 .1 .5 -.2 .5 .7 .5 -.7 .5 1.5
l.5 -1.7 .5 -.7 .5 -.2 .5 0 .5 1.2 .5 1.6 .5 1.3 .5 1.1 .5 -1.9 .5 -.2 .5 2 .5 -.2 .5 .4 .5 .9 .5 -.4 .5 -.5 .5 -.5 .5 -1.5 .5 1.8 .5 -.9 .5 .7 .5 -.5 .5 1.6 .5 -2.3 .5 1.5 .5 .1 .5 1.1 .5 0 .5 -.3 .5 -1.9 .5 -.6 .5 2 .5 -.8 .5 1.1 .5 -.7 .5 -.7 .5 .1 .5 .7 .5 -1 .5 1.1 .5 -1.5 .5 .6 .5 1.7 .5 -1 .5 .6 .5 -1 .5 -.2 .5 1.1 .5 -.5 .5 1.2 .5 -1.2 .5 .4 .5 .9 .5 -2 .5 1.7 .5 -.8 .5 -.6 .5 .9 .5 1.4 .5 -2
l.5 0 .5 .3 .5 -1.2 .5 .1 .5 .7 .5 1 .5 1.3 .5 -2 .5 -.1 .5 1.1 .5 -.9 .5 1.3 .5 -.7 .5 -.9 .5 -.1 .5 -1.1 .5 -1.8 .5 -.4 .5 .1 .5 0 .5 -.9 .5 -.1 .4 -.4 .6 .4 .5 .3 .5 .3 .5 -.3 .5 -.6 .5 1.1 .5 3.2 .5 .5 .5 -2 .5 .3 .5 2.4 .5 -2.1 .5 1.6 .5 -2 .5 -2.2 .5 2.5 .5 -2.7 .5 1.7 .5 -1.4 .5 .1 .5 -.9 .5 0 .5 .3 .5 -.7 .5 2.3 .5 .1 .5 2.6 .5 -.3 .5 0 .5 .2 .5 -.1 .5 1.3 .5 -2 .5 1 .5 -.1 .5 -1.6 .5 2.3
l.5 -.1 .5 -1.5 .5 1.6 .5 -1.5 .5 1.1 .5 -.6 .5 2 .5 -1.8 .5 -.5 .5 1 .5 -.4 .5 .1 .5 .9 .5 -.6 .5 0 .5 .8 .5 .1 .5 -3.7 .5 2.3 .5 .2 .5 0 .5 1.5 .5 -.1 .5 -.8 .5 -1.1 .5 .7 .5 -1.9 .5 1.2 .5 -2.7 .5 3.1 .5 -4.1 .5 .7 .5 -2.2 .5 .1 .5 -1.6 .3 0 .7 1.3 .5 2.2 .5 1.5 .5 -2.3 .5 4 .5 1 .5 -1.7 .5 .1 .5 2.6 .5 -1.8 .5 -.7 .5 -.5 .5 1.2 .5 .2 .5 2 .5 -1.6 .5 .9 .5 -2.2 .5 -1 .5 .3 .5 -1.1 .5 -2.6 .5 -1.4 .5 -2.1
l.5 -2 .5 -3.5 .5 -2.4 .5 -1.9 .3 -.2 .7 2.7 .5 2.9 .5 4.6 .5 .9 .5 5.7 .5 1.3 .5 -.9 .5 2.6 .5 -1.6 .5 2.9 .5 -1.5 .5 2.4 .5 -3 .5 2 .5 -1.3 .5 1.3 .5 -.5 .5 -1.8 .5 2.1 .5 .9 .5 -1.4 .5 .3 .5 -.7 .5 .8 .5 -1.1 .5 -.8 .5 1.6 .5 -1.4 .5 .3 .5 1.1 .5 -.9 .5 -1.2 .5 -1.6 .5 .2 .5 .1 .5 -1.5 .5 -.1 .5 -3.7 .5 1 .5 -3.9 .5 -2 .5 -3 .5 -1.7 .7 -1.7 .3 .5 .5 1.5 .5 5.9 .5 1.7 .5 4 .5 1.9 .5 -.5 .5 3.5 .5 -1.1 .5 -.1 .5 .7
l.5 1.4 .5 -3 .5 2.6 .5 .2 .5 -4.1 .5 -.2 .5 -1.9 .5 -3.9 .5 -.5 .5 -2.3 .7 -.7 .3 .2 .5 1.6 .5 3.1 .5 3.2 .5 1 .5 .6 .5 3.5 .5 -1.1 .5 .9 .5 2.1 .5 -.2 .5 -.7 .5 -.7 .5 .3 .5 .7 .5 -1.5 .5 1.5 .5 -.5 .5 -.3 .5 -.7 .5 1.5 .5 -1.9 .5 -1.8 .5 -.6 .5 -.6 .5 -.8 .5 -3.5 .5 -1.9 .5 -4.4 .5 -5 .5 -2.4 .5 -2.7 .7 -2.2 .3 .5 .5 2.3 .5 6.9 .5 2.8 .5 5.2 .5 4 .5 1.2 .5 2.3 .5 -1.1 .5 1.3 .5 1.2 .5 -.7 .5 -1.1 .5 2.4 .5 -1.2 .5 1.1
l.5 0 .5 -1.2 .5 1.3 .5 -.7 .5 1.2 .5 -4.6 .5 1 .5 1.2 .5 -2.5 .5 1.5 .5 -3.7 .5 .4 .5 -.1 .5 -.1 .5 .3 .5 -.2 .5 .3 .5 2.8 .5 2 .5 .2 .5 0 .5 .5 .5 .3 .5 -1.8 .5 2.1 .5 -1.3 .5 1.5 .5 -1.9 .5 1.8 .5 -1.7 .5 .9 .5 .1 .5 -.5 .5 1.6 .5 -.7 .5 .4 .5 .4 .5 -.1 .5 -.7 .5 -1 .5 -1.5 .5 1.7 .5 -3.7 .5 -.8 .5 .2 .5 -.5 .5 -3.1 .5 .2 .5 -1.1 .4 -.1 .6 1.1 .5 1.6 .5 .9 .5 1.9 .5 2.2 .5 0 .5 .4 .5 .5 .5 -.6 .5 3.6
l.5 -2.4 .5 2.8 .5 -2.2 .5 -1.4 .5 1.7 .5 .4 .5 .8 .5 -.2 .5 -.8 .5 -1 .5 1.2 .5 -.9 .5 -.1 .5 1.1 .5 .8 .5 1.7 .5 -3.1 .5 -.2 .5 -.2 .5 .1 .5 1 .5 1 .5 -.7 .5 1.9 .5 -.1 .5 -2.4 .5 .1 .5 .4 .5 .9 .5 -1 .5 -.4 .5 1.2 .5 1.4 .5 -.7 .5 -1.5 .5 .5 .5 .4 .5 -2 .5 1 .5 1.3 .5 0 .5 -1.8 .5 -.2 .5 -.3 .5 -1.9 .5 3.6 .5 -3.5 .5 -.9 .5 1 .5 -3.6 .5 -.3 .5 -2.8 .5 -3.7 .5 -.4 .5 .9 .5 -2.4 .6 -.3 .4 0 .5 1.3 .5 1.7
l.5 3.5 .5 1.4 .5 0 .5 4.1 .5 -1 .5 2.3 .5 .1 .5 1.4 .5 .7 .5 -2.9 .5 .8 .5 1.3 .5 .2 .5 -.7 .5 .9 .5 .2 .5 0 .5 -.1 .5 -.2 .5 .4 .5 -1.4 .5 -1.3 .5 1.6 .5 -1.1 .5 -1.1 .5 -1.7 .5 -4 .5 -5.5 .5 -5.8 .5 -8.9 .5 -5.8 .5 -5.7 .6 -2.8 .4 2.7 .5 6.5 .5 9.7 .5 7.8 .5 5.9 .5 4.8 .5 .8 .5 1 .5 2.1 .5 -.7 .5 -1.5 .5 1.7 .5 .2 .5 -1.6 .5 .5 .5 -2 .5 -2.5 .5 -5.3 .5 -2 .5 -4.7 .5 -3.2 .7 -3.6 .3 .9 .5 4.4 .5 5.7 .5 5.5 .5 3.4
l.5 .7 .5 3.6 .5 1.2 .5 .6 .5 -2.3 .5 1 .5 1.8 .5 -.3 .5 -1.3 .5 -1.7 .5 -3.5 .5 .2 .5 -2.2 .5 -.9 .5 -1.8 .5 -.6 .5 1.3 .5 1.7 .5 .9 .5 2.9 .5 .9 .5 .6 .5 2.8 .5 -.2 .5 1.9 .5 .2 .5 1.4 .5 -2.5 .5 0 .5 1.1 .5 2.6 .5 -2.5 .5 .9 .5 1.9 .5 -.7 .5 0 .5 -1.7 .5 .3 .5 .3 .5 -1.6 .5 1.2 .5 1.2 .5 -3.1 .5 3.3 .5 -2 .5 0 .5 0 .5 -2 .5 -.1 .5 1.1 .5 .2 .5 -1.2 .5 1.2 .5 1.3 .5 -2.8 .5 3.1 .5 1.1 .5 -1.2 .5 -.7 .5 2.2
l.5 -.5 .5 -.4 .5 1.3 .5 0 .5 -2.6 .5 2.2 .5 -1.8 .5 1.2 .5 -1.1 .5 0 .5 .2 .5 .8 .5 .4 .5 -.4 .5 -.6 .5 1.3 .5 -.4 .5 -.7 .5 1.9 .5 -1.7 .5 -.9 .5 1.9 .5 -1.6 .5 -1.5 .5 1 .5 1.4 .5 -.4 .5 1.9 .5 -3.9 .5 2.9 .5 -3.7 .5 1.1 .5 3.8 .5 -1.3 .5 -2 .5 -.1 .5 .6 .5 -.7 .5 1.4 .5 -.7 .5 -1.9 .5 1.2 .5 -1.1 .5 1.8 .5 -1.2 .5 -1.2 .5 -.3 .5 -2.1 .5 2.2 .5 -1.2 .5 -2.9 .5 -1.1 .5 -3.3 .5 -1.4 .5 -1.4 .5 -.9 .4 -.2 .6 1.3 .5 .8 .5 1.2
l.5 5 .5 3.4 .5 -1.4 .5 1.1 .5 -.4 .5 2.7 .5 -2.3 .5 .2 .5 -.5 .5 .3 .5 -2.7 .5 1.8 .5 -.6 .5 -4.1 .5 -3.6 .5 -6.2 .5 -7.9 .5 -11.1 .5 -11.6 .5 -10.3 .7 -9.3 .3 2.8 .5 14.3 .5 15.3 .5 13.2 .5 9.1 .5 5.6 .5 3.2 .5 1.7 .5 .8 .5 1.7 .5 -.4 .5 -.9 .5 .1 .5 1.5 .5 -.3 .5 1.9 .5 -1.2 .5 .7 .5 -1.8 .5 1.6 .5 .2 .5 -.6 .5 .5 .5 -1.3 .5 1.4 .5 -1.7 .5 .2 .5 2.6 .5 1.4 .5 -2.9 .5 -.9 .5 1.3 .5 .1 .5 1.8 .5 -4.2 .5 2.2 .5 1.6 .5 -3 .5 2.7
l.5 1.4 .5 0 .5 -.1 .5 -1.4 .5 -1 .5 0 .5 .2 .5 1.9 .5 -3.5 .5 2.7 .5 .4 .5 -2.5 .5 .2 .5 3.4 .5 -2.9 .5 -.9 .5 1.5 .5 .4 .5 -.7 .5 -3.3 .5 3.2 .5 -.2 .5 -1.7 .5 -.6 .5 -1.4 .5 .8 .5 .9 .5 -1 .5 -1.4 .5 -1.4 .5 -1.2 .5 -2.2 .5 -2.8 .5 0 .6 -.8 .4 .2 .5 2.3 .5 -1 .5 6.2 .5 -.2 .5 -.2 .5 2.3 .5 .4 .5 1.7 .5 1.7 .5 -1.2 .5 -.7 .5 0 .5 1.3 .5 -2.5 .5 -.2 .5 .2 .5 -3.8 .5 .4 .5 -.7 .5 -1.7 .5 -1.1 .5 .3 .5 1.6 .5 1.1
l.5 3.5 .5 -.5 .5 .3 .5 1.6 .5 -.7 .5 .3 .5 .4 .5 0 .5 -.4 .5 .1 .5 -.4 .5 -2.7 .5 3.1 .5 -3.7 .5 5 .5 -4.1 .5 1.8 .5 -1.3 .5 -.6 .5 -1.4 .5 -2.2 .5 -3.5 .5 -3.8 .5 -6.4 .5 -5.3 .5 -7.3 .5 -3.9 .4 -1.3 .6 4.5 .5 7.5 .5 7.9 .5 7.1 .5 5.2 .5 1.8 .5 4.3 .5 0 .5 -2.6 .5 .6 .5 2.3 .5 -.5 .5 -1 .5 -.9 .5 3.1 .5 -.9 .5 -2.2 .5 -1.6 .5 .9 .5 -1.4 .5 -1 .5 -5.1 .5 -1.6 .5 -2.5 .5 -.6 .4 -.5 .6 1.3 .5 4.5 .5 .4 .5 2.2 .5 2.4 .5 .7
l.5 1.4 .5 2.2 .5 1.3 .5 -1 .5 .4 .5 .9 .5 -1.2 .5 -1.9 .5 2.9 .5 -.1 .5 -1.1 .5 .1 .5 1.6 .5 .1 .5 .3 .5 -3.6 .5 1.9 .5 2.2 .5 -1.4 .5 -2.4 .5 .7 .5 2 .5 0 .5 -1.5 .5 .2 .5 -1.7 .5 4.2 .5 -2.4 .5 .6 .5 -.6 .5 -2.1 .5 3.4 .5 -3.1 .5 -.5 .5 -1.2 .5 -1.4 .5 -2.1 .5 -1.8 .5 -2.3 .5 -.9 .5 -.8 .5 .8 .5 .6 .5 2.4 .5 2.8 .5 1.5 .5 -.5 .5 2.1 .5 2.1 .5 0 .5 1.5 .5 -.7 .5 -.1 .5 -.9 .5 -.3 .5 .3 .5 -1.9 .5 -.4 .5 2 .5 -5.6
l.5 0 .5 -1.4 .5 -.1 .5 .2 .5 .9 .5 2.2 .5 1.6 .5 3.1 .5 .1 .5 .4 .5 .1 .5 -.8 .5 3.2 .5 -.8 .5 .1 .5 1.4 .5 .1 .5 .4 .5 -1.3 .5 -.6 .5 -1.2 .5 2.1 .5 -.2 .5 .2 .5 -.7 .5 -.9 .5 -.1 .5 -.2 .5 1.9 .5 -.4 .5 -.4 .5 -1 .5 .1 .5 1.4 .5 -1.6 .5 2.4 .5 -.9 .5 .6 .5 -.9 .5 -.1 .5 .5 .5 -.8 .5 .4 .5 -.2 .5 .7 .5 -1.4 .5 2.2 .5 -2.4 .5 -3.2 .5 3 .5 -.9 .5 1.3 .5 .8 .5 -.1 .5 -1.5 .5 .9 .5 -3.4 .5 .2 .5 -.3 .5 -.3
l.5 -2.3 .5 -.2 .5 1.8 .5 -.1 .4 .2 .6 -.7 .5 1 .5 -.7 .5 2 .5 .9 .5 -.8 .5 2.8 .5 -.1 .5 .5 .5 .4 .5 -.3 .5 1.5 .5 -1.9 .5 1.7 .5 -1.4 .5 .9 .5 -.6 .5 1.7 .5 -2.5 .5 .1 .5 .8 .5 .6 .5 1.1 .5 0 .5 -.6 .5 .2 .5 0 .5 -1 .5 .7 .5 -1.4 .5 -.6 .5 -.1 .5 1 .5 -.7 .5 .1 .5 .8 .5 -1 .5 1.2 .5 1.3 .5 -1.9 .5 .6 .5 -1.4 .5 2.3 .5 -2.5 .5 -.3 .5 .5 .5 -.2 .5 1.7 .5 -3.3 .5 3.4 .5 -.9 .5 .9 .5 -1.5 .5 -.1 .5 1.1
l.5 -.9 .5 .7 .5 -1.8 .5 1 .5 -1 .5 -.8 .5 -.3 .5 -.7 .5 0 .5 -1.2 .5 -.9 .5 -1.7 .5 .5 .5 -1 .5 .3 .5 .2 .5 -.1 .5 .2 .5 2 .5 .6 .5 -1.4 .5 2.2 .5 -.1 .5 1.9 .5 -1.1 .5 1.6 .5 1.2 .5 1.1 .5 -2 .5 -.9 .5 2.3 .5 .6 .5 -2.1 .5 1.7 .5 1.6 .5 -.8 .5 0 .5 .2 .5 -2.4 .5 -.3 .5 -.6 .5 3.9 .5 -5.2 .5 4.3 .5 -2.2 .5 -.6 .5 .4 .5 .1 .5 2.2 .5 -.8 .5 0 .5 -1.9 .5 .5 .5 2 .5 -.5 .5 .8 .5 -2 .5 .5 .5 1.8 .5 -1
l.5 .3 .5 -.2 .5 .6 .5 -.6 .5 .3 .5 .6 .5 .7 .5 -3.4 .5 3.6 .5 -3.6 .5 3.6 .5 -1.8 .5 -.8 .5 1.3 .5 -2.7 .5 2.5 .5 -.5 .5 1.1 .5 -.8 .5 0 .5 -.6 .5 1.9 .5 -.4 .5 -1.9 .5 1.2 .5 -.9 .5 .8 .5 .3 .5 -1.7 .5 -1.5 .5 -.1 .5 -.3 .5 .4 .5 -3.1 .5 2.4 .5 -3.8 .5 .7 .5 -.2 .3 -.3 .7 .6 .5 2.9 .5 -.4 .5 -.4 .5 1.9 .5 .2 .5 -.3 .5 2.1 .5 -1.9 .5 2.2 .5 -1.8 .5 0 .5 1.2 .5 -1.3 .5 .9 .5 -1.2 .5 1.9 .5 -.1 .5 -.8 .5 .2 .5 1.5
l.5 -2.3 .5 2.2 .5 -.4 .5 1 .5 -.7 .5 -2 .5 2.2 .5 -1.1 .5 .5 .5 -.3 .5 -1.7 .5 .6 .5 2.1 .5 -.1 .5 1.3 .5 -2.3 .5 0 .5 -1 .5 3.5 .5 -2 .5 1.5 .5 -2.6 .5 3.3 .5 -1.4 .5 -.3 .5 -.1 .5 -.8 .5 -.5 .5 -.6 .5 2.5 .5 -1.1 .5 -.2 .5 .1 .5 -.1 .5 -.5 .5 -1.6 .5 2 .5 -.8 .5 -1.7 .5 -3 .5 1.2 .5 -.7 .5 -3 .5 .2 .5 -.2 .5 -.3 .5 .4 .5 1.5 .5 1 .5 -1.1 .5 4.4 .5 -1.5 .5 1.4 .5 2.6 .5 -.2 .5 -.1 .5 -.4 .5 .8 .5 -.9 .5 1.3
l.5 .3 .5 -.7 .5 .6 .5 -.7 .5 .1 .5 .7 .5 -1.4 .5 1.3 .5 -.3 .5 2.6 .5 -2.8 .5 .5 .5 -1.4 .5 3.9 .5 -2.6 .5 -1.1 .5 1.3 .5 0 .5 -.3 .5 -.8 .5 .7 .5 1.6 .5 -2.7 .5 2.5 .5 -1.7 .5 -1.4 .5 1.4 .5 .7 .5 -2.4 .5 -.8 .5 1.2 .5 -.7 .5 -2.8 .5 -1 .5 -3.2 .5 1.6 .5 -1.2 .4 .3 .6 .2 .5 .8 .5 1.3 .5 .7 .5 2.8 .5 .6 .5 .3 .5 .3 .5 1 .5 .9 .5 -.4 .5 .7 .5 .4 .5 1.3 .5 -1.6 .5 -1.9 .5 .8 .5 1.8 .5 -4 .5 0 .5 1.8 .5 1.6
l.5 -.1 .5 .6 .5 -2.7 .5 1.8 .5 -.3 .5 1 .5 -.7 .5 .7 .5 .6 .5 -.2 .5 -2.3 .5 1.1 .5 -.3 .5 .6 .5 0 .5 1.6 .5 -1 .5 -2 .5 2.1 .5 -.1 .5 -3.3 .5 3.7 .5 -.7 .5 -1.5 .5 .5 .5 -1.3 .5 1.9 .5 -.1 .5 .3 .5 -1.1 .5 -.4 .5 2.8 .5 .1 .5 -3.9 .5 .3 .5 2.2 .5 -.3 .5 1.1 .5 -2 .5 -.3 .5 -.5 .5 2 .5 -.4 .5 -1.4 .5 1.3 .5 -2.2 .5 -.4 .5 2.4 .5 .6 .5 -.8 .5 -.7 .5 1 .5 -4.2 .5 3.7 .5 -2.2 .5 2.3 .5 .7 .5 .4 .5 -.1 .5 .5
l.5 -.7 .5 .1 .5 -1.4 .5 1.8 .5 -.6 .5 -.5 .5 -.8 .5 -.2 .5 -.3 .5 1.3 .5 .9 .5 -1 .5 1.5 .5 -2.3 .5 3.8 .5 -2.5 .5 -.2 .5 -.1 .5 -.4 .5 .5 .5 -.2 .5 1.1 .5 .5 .5 -1.2 .5 -1.2 .5 3.6 .5 -1.4 .5 .2 .5 -.4 .5 .7 .5 -.6 .5 -1.2 .5 1.3 .5 -3.1 .5 3.8 .5 -2.7 .5 1 .5 -.7 .5 .5 .5 -.8 .5 1.1 .5 1.6 .5 -1.5 .5 -1.3 .5 3 .5 -1.8 .5 1.5 .5 -1.4 .5 .8 .5 -.6 .5 .7 .5 -1.2 .5 1.6 .5 -.3 .5 -2.2 .5 0 .5 .2 .5 1.7 .5 -.7 .5 .5
l.5 -2 .5 2 .5 -2.3 .5 1.8 .5 -1.6 .5 -.4 .5 .8 .5 1.1 .5 -2.8 .5 -.3 .5 1.4 .5 -2.4 .5 -.1 .5 -.8 .5 -.2 .5 .6 .5 1.1 .5 1.2 .5 .2 .5 -.4 .5 1.1 .5 1 .5 -.7 .5 .7 .5 .5 .5 -1.6 .5 1.9 .5 0 .5 -1.1 .5 .4 .5 1 .5 -2.5 .5 1 .5 2.5 .5 -2.2 .5 2 .5 -1.1 .5 0 .5 0 .5 -1.2 .5 -1.1 .5 1.4 .5 1.6 .5 -1.8 .5 1 .5 -2.5 .5 2.3 .5 -.1 .5 1.6 .5 -1.9 .5 -.3 .5 -.8 .5 2.2 .5 -.1 .5 1.6 .5 -2.2 .5 .6 .5 .1 .5 .6 .5 -2
l.5 .3 .5 1.1 .5 -1.7 .5 .7 .5 -.5 .5 -.3 .5 -1.9 .5 -3.5 .5 2.4 .5 -2.7 .5 .3 .5 -1.6 .5 -2.3 .6 .2 .4 .2 .5 1.9 .5 1.6 .5 1.4 .5 0 .5 3.6 .5 1 .5 -.8 .5 2.5 .5 .4 .5 -3.4 .5 2.9 .5 -.8 .5 .1 .5 -3.1 .5 2.7 .5 -.1 .5 -2.3 .5 1.6 .5 -.4 .5 -.1 .5 -.9 .5 2.1 .5 -1.2 .5 -.2 .5 1.1 .5 -1.7 .5 1.2 .5 2.6 .5 -3.8 .5 1 .5 .7 .5 -.3 .5 -2 .5 1.8 .5 -1.2 .5 1.8 .5 -.1 .5 -.6 .5 1.3 .5 .2 .5 -2.1 .5 .2 .5 .7 .5 1.3 .5 .3
l.5 .1 .5 -.9 .5 -1.6 .5 1.8 .5 -.1 .5 -2.7 .5 .4 .5 1.3 .5 2.3 .5 -2 .5 .3 .5 -1.9 .5 -1.9 .5 3.4 .5 -2.9 .5 1.3 .5 -2.5 .5 2.1 .5 -2.5 .5 -.3 .5 .1 .5 .5 .5 -.2 .5 1 .5 .4 .5 0 .5 1.3 .5 -1.3 .5 2.4 .5 -2.6 .5 2.6 .5 2.1 .5 -3.2 .5 1.7 .5 .6 .5 -3.8 .5 2.8 .5 .7 .5 -.7 .5 .8 .5 -.9 .5 1.5 .5 -1.2 .5 2 .5 -2.4 .5 2 .5 .6 .5 -1.8 .5 .8 .5 -.2 .5 2.9 .5 -3.7 .5 3.6 .5 -3 .5 -1.2 .5 .2 .5 .6 .5 2.2 .5 -3.2 .5 1.5
l.5 -.8 .5 -.2 .5 -.1 .5 1.2 .5 -1.7 .5 -.5 .5 2.7 .5 -2.1 .5 1.6 .5 1.8 .5 -2.1 .5 .6 .5 -.8 .5 -1.1 .5 -.3 .5 -1.1 .5 3.2 .5 -2 .5 .5 .5 -1.1 .5 -.6 .5 .3 .5 -1 .5 -.6 .5 .7 .5 -3.9 .5 3.4 .5 -2.2 .7 -.6 .3 0 .5 .2 .5 3 .5 0 .5 .3 .5 .5 .5 1.3 .5 1.2 .5 .2 .5 -1.5 .5 1.9 .5 -1.2 .5 .3 .5 0 .5 -1.5 .5 1.8 .5 .1 .5 .9 .5 -.2 .5 -.1 .5 -.4 .5 .6 .5 .1 .5 -1.5 .5 -.3 .5 2.3 .5 1.2 .5 -1.5 .5 -.1 .5 1.5 .5 -1.7
l.5 .8 .5 -2.2 .5 1.3 .5 1.3 .5 -2.2 .5 .4 .5 -1 .5 2.7 .5 -.3 .5 -1.4 .5 1.1 .5 -1.3 .5 .1 .5 .9 .5 .1 .5 -.7 .5 -1 .5 -.4 .5 -.6 .5 1.9 .5 .4 .5 -2.9 .5 3.2 .5 -.8 .5 -1.3 .5 1.4 .5 .5 .5 -.2 .5 -1.3 .5 .1 .5 .7 .5 -.2 .5 .4 .5 -.8 .5 2.3 .5 -2.8 .5 1.1 .5 -2.2 .5 2.2 .5 .4 .5 -1.2 .5 .9 .5 -.9 .5 .9 .5 -1.3 .5 -.4 .5 4.1 .5 -1.2 .5 -.4 .5 -1.7 .5 .8 .5 -1.2 .5 .2 .5 .6 .5 0 .5 -1.8 .5 1.1 .5 -1.2 .5 3.7 .5 .8
l.5 -4.1 .5 .7 .5 -.8 .5 -.8 .5 2.7 .5 1.2 .5 -1.5 .5 .1 .5 .7 .5 -.1 .5 -.6 .5 -.2 .5 .6 .5 .5 .5 -2.1 .5 .7 .5 .7 .5 -.2 .5 2.6 .5 -1.9 .5 -.4 .5 2.9 .5 -2.4 .5 1.1 .5 -1.7 .5 -.9 .5 .7 .5 1.3 .5 -.3 .5 .3 .5 -1.9 .5 .1 .5 -.8 .5 0 .5 -.1 .5 1.4 .5 -.7 .5 -1.7 .5 3 .5 -.8 .5 -.4 .5 .2 .5 -1.6 .5 .2 .5 3.1 .5 -.4 .5 .5 .5 -3 .5 .2 .5 2.2 .5 -2.2 .5 1 .5 .5 .5 -.4 .5 1.5 .5 1 .5 -3 .5 .9 .5 1.6 .5 -2.1
l.5 -.2 .5 2.5 .5 -1.2 .5 .4 .5 -.4 .5 -1.1 .5 -.6 .5 3 .5 -2.9 .5 .3 .5 -.2 .5 -1.4 .5 2.4 .5 .5 .5 -.9 .5 .6 .5 2.8 .5 -2.8 .5 .9 .5 -3 .5 4 .5 -1 .5 -2 .5 .8 .5 -.6 .5 1.1 .5 .3 .5 -.9 .5 .1 .5 -.9 .5 2.2 .5 -2.8 .5 2.8 .5 -1.5 .5 .1 .5 .2 .5 3.2 .5 -.7 .5 -2.6 .5 -.7 .5 2.1 .5 -.3 .5 0 .5 -.7 .5 1.4 .5 -.3 .5 -2.4 .5 -.3 .5 .9 .5 1 .5 -.1 .5 -.9 .5 .7 .5 -1.3 .5 2.2 .5 0 .5 -2.6 .5 1 .5 -.8 .5 .6
l.5 .6 .5 .7 .5 -.5 .5 -.5 .5 2.8 .5 -1.7 .5 .2 .5 .7 .5 .1 .5 -1.1 .5 -1.6 .5 1 .5 -.4 .5 1.2 .5 -1.3 .5 -.1 .5 1.1 .5 -2.3 .5 .5 .5 .3 .5 1.2 .5 -2 .5 .7 .5 1 .5 -2.9 .5 -1.7 .5 .4 .5 -1.7 .5 .2 .5 -.3 .5 .4 .5 -.2 .5 1.3 .5 .9 .5 1.3 .5 .2 .5 -.4 .5 1.8 .5 -.3 .5 1.5 .5 .4 .5 .5 .5 -.9 .5 -.2 .5 -.4 .5 1 .5 -2.2 .5 .1 .5 -.1 .5 -.3 .5 2.9 .5 -2 .5 .2 .5 1.6 .5 -2.3 .5 1.8 .5 -.6 .5 -.6 .5 1.7 .5 1.2
l.5 -2.1 .5 -.7 .5 .1 .5 .9 .5 -.5 .5 1.3 .5 -1.6 .5 -.6 .5 .8 .5 -.6 .5 1.4 .5 -.8 .5 .1 .5 1.4 .5 -3 .5 1.6 .5 .2 .5 -.5 .5 1.6 .5 -2.7 .5 1.2 .5 -.1 .5 1 .5 -.5 .5 -.3 .5 .8 .5 -.4 .5 .2 .5 -.9 .5 .3 .5 -1 .5 .6 .5 1.3 .5 1.2 .5 -2.5 .5 -1.1 .5 4.1 .5 -2.9 .5 .9 .5 -.3 .5 .6 .5 -.7 .5 -.3 .5 2.9 .5 -5.3 .5 1.8 .5 1.8 .5 -2.4 .5 3.6 .5 .4 .5 -3.2 .5 1.5 .5 -1.6 .5 1.4 .5 -.1 .5 -1 .5 1.1 .5 -1.5 .5 .8 .5 1.2
l.5 1.1 .5 -2.2 .5 -.2 .5 .6 .5 .2 .5 -.3 .5 .6 .5 -.5 .5 -.4 .5 -1 .5 .2 .5 1.1 .5 -.9 .5 .9 .5 -.4 .5 .2 .5 -1.3 .5 2.8 .5 -.1 .5 -3.7 .5 -1.4 .5 2.7 .5 .3 .5 .3 .5 -.5 .5 -1.4 .5 1.1 .5 .6 .5 -1.1 .5 -1.5 .5 3.3 .5 -2.2 .5 0 .5 -1.3 .5 1.1 .5 2.2 .5 -1.4 .5 1.4 .5 -1.6 .5 1.1 .5 .4 .5 .2 .5 -1.5 .5 3 .5 -2.9 .5 -1.1 .5 2.1 .5 .7 .5 -1.1 .5 -2.2 .5 .8 .5 .8 .5 .8 .5 -1.1 .5 1.5 .5 -1.9 .5 3.1 .5 -3.2 .5 .9 .5 -.1
l.5 .1 .5 1.9 .5 -2.3 .5 -.5 .5 -.6 .5 3.6 .5 -1.4 .5 .2 .5 1.7 .5 -1.7 .5 -1.1 .5 .2 .5 .8 .5 2.1 .5 -1.2 .5 -1 .5 1.1 .5 -.9 .5 .7 .5 -.9 .5 .5 .5 2.7 .5 -2.6 .5 1 .5 .4 .5 -1.3 .5 2.6 .5 -.3 .5 -3.6 .5 3 .5 -2.9 .5 1.2 .5 1.1 .5 -1.5 .5 .5 .5 .7 .5 .7 .5 0 .5 -1.2 .5 .7 .5 -.7 .5 1.2 .5 -2 .5 .5 .5 -.1 .5 .5 .5 .6 .5 -.5 .5 0 .5 -.6 .5 .6 .5 -1.8 .5 1.3 .5 1.4 .5 -1.9 .5 -.5 .5 .3 .5 .6 .5 .6 .5 .6
l.5 -.6 .5 .7 .5 .1 .5 -.7 .5 -1.6 .5 1.7 .5 0 .5 -.7 .5 1.5 .5 -1.8 .5 .6 .5 -1.6 .5 .8 .5 .1 .5 -.5 .5 1.4 .5 -1.4 .5 .9 .5 .2 .5 -.5 .5 -.8 .5 .9 .5 .9 .5 -2.3 .5 -.1 .5 1.2 .5 .9 .5 .2 .5 .5 .5 -1.9 .5 1.9 .5 -.2 .5 -5.1 .5 3 .5 1.3 .5 -.9 .5 2.5 .5 -5.7 .5 3.1 .5 .9 .5 -.1 .5 -1.6 .5 2.2 .5 -2.1 .5 1.2 .5 -.7 .5 -.6 .5 -1.6 .5 1.1 .5 -2.7 .5 1 .5 -.7 .5 -.5 .5 -.3 .5 .8 .5 -.1 .5 2.8 .5 -1.7 .5 0 .5 2.5
l.5 -.3 .5 .5 .5 .8 .5 -.1 .5 -1.6 .5 2 .5 1.1 .5 -1.6 .5 -3.1 .5 2.5 .5 -.2 .5 1.1 .5 -1.3 .5 1 .5 .4 .5 -.7 .5 1 .5 -.7 .5 1.2 .5 0 .5 .1 .5 -2.1 .5 -.3 .5 -1.2 .5 3.7 .5 -.7 .5 .9 .5 -.5 .5 -2 .5 .1 .5 .7 .5 -1.4 .5 1.3 .5 -1.3 .5 -.1 .5 .9 .5 1.7 .5 1.6 .5 -2.8 .5 -1.2 .5 -.9 .5 1.9 .5 .7 .5 -3.6 .5 2.1 .5 .1 .5 -1.9 .5 -.3 .5 -.8 .5 -.5 .5 0 .5 .5 .5 1.1 .5 .1 .5 .9 .5 -.9 .5 2.4 .5 .6 .5 .5 .5 -1.2
l.5 -1.7 .5 1.1 .5 1.8 .5 -.4 .5 0 .5 .7 .5 -.6 .5 .9 .5 -2.7 .5 .5 .5 2.4 .5 .3 .5 -.5 .5 -.1 .5 -.7 .5 -.6 .5 .3 .5 1.3 .5 -.4 .5 -2.3 .5 2.1 .5 -2.7 .5 1.5 .5 2.4 .5 -.4 .5 -1.6 .5 .2 .5 .3 .5 .3 .5 -1.4 .5 .7 .5 -.5 .5 .2 .5 -1.8 .5 1.5 .5 -.2 .5 .8 .5 -.1 .5 1.6 .5 -1.6 .5 -.9 .5 -.2 .5 2.4 .5 .3 .5 -1.4 .5 -.3 .5 -.4 .5 1.4 .5 -2.4 .5 1.6 .5 -.7 .5 .5 .5 .6 .5 -.3 .5 .2 .5 -1.4 .5 .3 .5 .9 .5 2.7 .5 -3.9
l.5 1.5 .5 -.5 .5 -.8 .5 -1.3 .5 2.4 .5 1.5 .5 -3.4 .5 .1 .5 3.5 .5 -1.9 .5 1.1 .5 .2 .5 -1.5 .5 .3 .5 -.7 .5 -1.1 .5 2.6 .5 -1 .5 3 .5 -4.2 .5 2.4 .5 -.8 .5 .7 .5 -1.8 .5 1.1 .5 1.4 .5 -2.9 .5 3.4 .5 -1.4 .5 -1.8 .5 .6 .5 -1.5 .5 1.5 .5 -1.5 .5 1.4 .5 .8 .5 .1 .5 -.8 .5 -.2 .5 .2 .5 -.5 .5 1.4 .5 0 .5 1.6 .5 -1.1 .5 -1 .5 2.8 .5 -.7 .5 -.5 .5 -3.8 .5 2.5 .5 .2 .5 .8 .5 -1.2 .5 2.1 .5 -2.7 .5 -.5 .5 .3 .5 -.1 .5 .7
l.5 .2 .5 .2 .5 1.3 .5 -.6 .5 -1.5 .5 -.6 .5 1.8 .5 -1.1 .5 .9 .5 .2 .5 -2.1 .5 .5 .5 1 .5 .1 .5 -2.5 .5 1.6 .5 1.2 .5 -1.2 .5 0 .5 -.2 .5 1.6 .5 -2.3 .5 1.8 .5 -.4 .5 .5 .5 -1.7 .5 -1.7 .5 4.4 .5 -1.4 .5 2 .5 -1.6 .5 .6 .5 -1 .5 .2 .5 .1 .5 0 .5 -.3 .5 -1.2 .5 1.3 .5 2.2 .5 -.7 .5 -1 .5 -.6 .5 1.2 .5 1.2 .5 -4.4 .5 2.6 .5 .3 .5 -.2 .5 1.2 .5 -.7 .5 .1 .5 -.1 .5 -.2 .5 -2.1 .5 1.8 .5 -1.3 .5 -.2 .5 1.3 .5 -.3
l.5 1.4 .5 .1 .5 -1.4 .5 2.2 .5 -1.1 .5 .3 .5 -1.4 .5 -.2 .5 1.6 .5 -3.4 .5 4.3 .5 -2.4 .5 -.1 .5 1.3 .5 .4 .5 -2.4 .5 1.9 .5 -.5 .5 -2.5 .5 3.7 .5 -4.7 .5 2.4 .5 .9 .5 .6 .5 -1 .5 -.5 .5 .4 .5 -.9 .5 .8 .5 -.4 .5 0 .5 -1 .5 2.7 .5 -.5 .5 -.9 .5 -.2 .5 .9 .5 -1.9 .5 1.7 .5 0 .5 2.3 .5 -1 .5 -1 .5 1.4 .5 -1.2 .5 -1 .5 1.4 .5 -1 .5 -.8 .5 -.2 .5 .5 .5 3 .5 -2.7 .5 -.8 .5 1.6 .5 .3 .5 -.6 .5 .2 .5 -2.3 .5 .4
l.5 2.2 .5 -.3 .5 -.9 .5 .6 .5 .3 .5 -2 .5 .4 .5 2.3 .5 -2.2 .5 .3 .5 .1 .5 -.7 .5 .2 .5 1.9 .5 -.5 .5 -.1 .5 -1.2 .5 -.1 .5 -.6 .5 .9 .5 .9 .5 .3 .5 .7 .5 -2.4 .5 1.3 .5 .4 .5 -2.1 .5 1.2 .5 1 .5 .9 .5 .4 .5 -1.6 .5 -.5 .5 1.5 .5 -2.1 .5 .7 .5 2 .5 -.2 .5 .1 .5 -3.5 .5 3 .5 -1.4 .5 .3 .5 .1 .5 -1.4 .5 .2 .5 1.6 .5 -2.8 .5 2.6 .5 1 .5 -1.6 .5 .5 .5 -.8 .5 1.5 .5 -.5 .5 -.1 .5 -3.3 .5 2.4 .5 1 .5 -1.4
l.5 -1.2 .5 3.4 .5 -2.2 .5 .6 .5 -1.2 .5 3.7 .5 -3.1 .5 -2.9 .5 2.6 .5 -1.5 .5 .5 .5 2.1 .5 -1.9 .5 1.1 .5 1.2 .5 -1.2 .5 1.1 .5 -.9 .5 .7 .5 1.3 .5 1.1 .5 -1.8 .5 1.5 .5 -.4 .5 -1.5 .5 1 .5 -.6 .5 1.8 .5 -3.1 .5 .9 .5 -2.3 .5 1.8 .5 -.7 .5 1.3 .5 -1.1 .5 1.1 .5 .3 .5 .3 .5 -1.3 .5 .5 .5 1.9 .5 -4.8 .5 3.6 .5 -.1 .5 1 .5 -4.2 .5 1.8 .5 1.6 .5 -1.8 .5 2.6 .5 -1.7 .5 .8 .5 1.4 .5 -1.7 .5 -1.8 .5 1 .5 .1 .5 .9 .5 -1 .5 -.1
l.5 .1 .5 .3 .5 .6 .5 -1.6 .5 .3 .5 .8 .5 -.9 .5 .2 .5 -.1 .5 1.4 .5 -.1 .5 0 .5 -.4 .5 -1.3 .5 2.1 .5 -1.1 .5 -.7 .5 -1.4 .5 2.3 .5 -.1 .5 .3 .5 .3 .5 -1.4 .5 .9 .5 -2.1 .5 -1.6 .5 1.3 .5 1.4 .5 1.6 .5 -.5 .5 1.2 .5 -1.3 .5 -1.6 .5 2.9 .5 -1.4 .5 .8 .5 -2.3 .5 1.1 .5 -.5 .5 .3 .5 -.3 .5 -1.3 .5 .2 .5 2.2 .5 -.5 .5 -.9 .5 2 .5 -1 .5 .2 .5 -.7 .5 -1 .5 1.7 .5 -.1 .5 -1.4 .5 1.7 .5 -1.3 .5 .5 .5 -1.8 .5 2.1 .5 1
l.5 .6 .5 -1.8 .5 2 .5 -1.2 .5 1.1 .5 -1.5 .5 -.4 .5 2.1 .5 .1 .5 -1.8 .5 1.1 .5 -2.2 .5 1.9 .5 -1.5 .5 .1 .5 1 .5 -1.5 .5 1.2 .5 .2 .5 1.6 .5 -3.5 .5 .6 .5 -.2 .5 2.2 .5 -1.4 .5 2.2 .5 .1 .5 -2.1 .5 -.5 .5 .1 .5 .9 .5 -1 .5 -.5 .5 .3 .5 1.6 .5 0 .5 -.6 .5 -1.6 .5 .6 .5 .3 .5 .6 .5 1.8 .5 -2.5 .5 2.1 .5 1.3 .5 -2.3 .5 1.1 .5 -.1 .5 -.7 .5 .6 .5 -.9 .5 -.2 .5 .8 .5 -1.6 .5 -1 .5 2.9 .5 -1.3 .5 -2.2 .5 3.1 .5 -2.2
l.5 -1.6 .5 3.2 .5 1.3 .5 -.7 .5 -1.5 .5 .6 .5 .7 .5 .6 .5 -1.9 .5 1.9 .5 -1.5 .5 2.2 .5 -.2 .5 -3.7 .5 3 .5 -.2 .5 -1.1 .5 .9 .5 -.1 .5 -.8 .5 1.5 .5 -2 .5 1.7 .5 1.5 .5 -2.6 .5 1.5 .5 -1.8 .5 -.3 .5 .2 .5 .9 .5 .9 .5 .9 .5 -1.9 .5 -.8 .5 .3 .5 .7 .5 -.1 .5 .5 .5 -3.2 .5 2.9 .5 .1 .5 -2.2 .5 1.2 .5 -1.3 .5 .1 .5 .9 .5 1.7 .5 -1.6 .5 .2 .5 -.1 .5 1.7 .5 0 .5 -2.8 .5 2.4 .5 .2 .5 -.6 .5 -.1 .5 -.3 .5 1 .5 0
l.5 -1.4 .5 .7 .5 -2.9 .5 1.9 .5 -1 .5 1.9 .5 -1.7 .5 2.4 .5 -2.7 .5 2.7 .5 -.9 .5 .9 .5 -1.2 .5 -1.3 .5 1.5 .5 .8 .5 .5 .5 -1 .5 1.3 .5 -.8 .5 -1.5 .5 -.7 .5 .6 .5 1.5 .5 -1 .5 .8 .5 -1.5 .5 .7 .5 -.1 .5 .5 .5 -.5 .5 -1.3 .5 .7 .5 1.2 .5 -1.1 .5 1 .5 .9 .5 -3.4 .5 2.1 .5 2 .5 -.5 .5 -3.3 .5 3.5 .5 -1.5 .5 .2 .5 .8 .5 -1.3 .5 2.7 .5 -1.6 .5 -.6 .5 3 .5 -2.5 .5 -1.3 .5 -.8 .5 2.5 .5 -.6 .5 -.7 .5 -1 .5 2.8 .5 -1.8
l.5 .6 .5 -.1 .5 -2.4 .5 2.2 .5 -1 .5 .9 .5 -1.2 .5 2.2 .5 -.6 .5 -1 .5 -.4 .5 .1 .5 .4 .5 .2 .5 1.1 .5 -.2 .5 .3 .5 -2.2 .5 .6 .5 .3 .5 .9 .5 .9 .5 -.8 .5 .5 .5 -1 .5 -.1 .5 1.9 .5 -2 .5 -1.8 .5 3.7 .5 -3.4 .5 2.3 .5 .3 .5 .7 .5 -.2 .5 -1.1 .5 .6 .5 0 .5 -1.1 .5 -1.2 .5 3.7 .5 -4.2 .5 4 .5 .1 .5 -2.2 .5 1.5 .5 -1.9 .5 1.3 .5 -2.9 .5 2.7 .5 -1.7 .5 .9 .5 -1.3 .5 .7 .5 1.4 .5 -1.1 .5 -.8 .5 3 .5 -1.7 .5 -1.1
l.5 1.7 .5 .1 .5 -2.1 .5 1.3 .5 1 .5 .3 .5 .5 .5 -2 .5 -1.2 .5 2.8 .5 -.3 .5 .2 .5 -1.3 .5 1.6 .5 .3 .5 -.6 .5 .5 .5 -.9 .5 -.2 .5 -2 .5 2.8 .5 .5 .5 -2.1 .5 -1.4 .5 .3 .5 1.1 .5 -.4 .5 -2.1 .5 1.8 .5 -2.3 .5 3.1 .5 1.1 .5 -.2 .5 -.3 .5 -.2 .5 .2 .5 -1.4 .5 -.3 .5 1.1 .5 .9 .5 -1.9 .5 3 .5 -1.7 .5 2 .5 -1.8 .5 .8 .5 -2.7 .5 -1.8 .5 5.8 .5 -4.1 .5 1 .5 .4"/>
<path stroke="#37ac6b" d="M177 441.4
l.5 2.3 .5 0 .5 -3 .5 .2 .5 -.1 .5 4 .5 -1.8 .5 0 .5 .8 .5 -1.5 .5 1 .5 -.9 .5 2.1 .5 -1.5 .5 1.6 .5 1 .5 -1.1 .5 1.3 .5 -2.1 .5 .3 .5 1.8 .5 -.2 .5 -1 .5 1.2 .5 2.1 .5 -2 .5 1 .5 -.4 .5 .7 .5 .3 .5 .3 .5 0 .5 .4 .5 -.4 .5 -.2 .5 -.7 .5 -2.7 .5 3 .5 -.3 .5 .3 .5 -1 .5 2.9 .5 -2.7 .5 2.6 .5 -.5 .5 .9 .5 .6 .5 1.4 .5 -.6 .5 -.2 .5 .6 .5 -1.4 .5 .2 .5 -.6 .5 .9 .5 1 .5 -1.2 .5 .1 .5 -.7 .5 2.6
l.5 -1.7 .5 .7 .5 -.6 .5 .9 .5 -2.3 .5 2.4 .5 -.6 .5 2.4 .5 -.3 .5 -.9 .5 -.3 .5 0 .5 1.8 .5 -1.2 .5 2.8 .5 -2.9 .5 .5 .5 -.3 .5 -.4 .5 2.2 .5 -1.2 .5 2.3 .5 -1.1 .5 -1.9 .5 1.3 .5 1.1 .5 1.6 .5 -1.8 .5 .4 .5 -1.2 .5 3.2 .5 -3.8 .5 2.8 .5 -.2 .5 .5 .5 .4 .5 .6 .5 -1 .5 -1.8 .5 3.8 .5 -2.3 .5 1.9 .5 -1.1 .5 1.3 .5 -.6 .5 -.2 .5 1.7 .5 -3.5 .5 2.6 .5 .6 .5 .6 .5 -.8 .5 -1.3 .5 2.7 .5 -1.5 .5 2.2 .5 -.1 .5 -.2 .5 1.9 .5 -.2
l.5 -2.3 .5 -.7 .5 3.6 .5 1.1 .5 -3.2 .5 1.2 .5 -1.3 .5 .4 .5 4 .5 -2.7 .5 -.4 .5 .2 .5 -1.5 .5 1.8 .5 1.8 .5 -.3 .5 -2.1 .5 -.2 .5 1.9 .5 -.5 .5 .1 .5 -.5 .5 2 .5 -.6 .5 .1 .5 .3 .5 .6 .5 -1.4 .5 0 .5 -1.5 .5 3.2 .5 1.9 .5 -.9 .5 -1 .5 -1 .5 1 .5 -.1 .5 1.4 .5 -.5 .5 1.1 .5 -.7 .5 -.8 .5 3.6 .5 -3.2 .5 .3 .5 .7 .5 .3 .5 1.5 .5 -.4 .5 -.8 .5 1.1 .5 2 .5 -1.9 .5 -.1 .5 .7 .5 -1.6 .5 4.2 .5 -1.2 .5 -2.1 .5 1.4
l.5 -2.7 .5 2.9 .5 -.1 .5 .6 .5 -1 .5 2.1 .5 -2.1 .5 2.6 .5 -1.7 .5 -1.4 .5 1.7 .5 2.6 .5 -3.6 .5 .8 .5 1.6 .5 -1.3 .5 .7 .5 -.3 .5 1.7 .5 -.8 .5 1.7 .5 -3 .5 3.5 .5 -.6 .5 -.5 .5 .3 .5 -.9 .5 -.3 .5 3 .5 -1.8 .5 -1 .5 1.9 .5 0 .5 .8 .5 -1.2 .5 -.2 .5 0 .5 .3 .5 2.1 .5 0 .5 .6 .5 -.3 .5 -1 .5 3.3 .5 -2.6 .5 -1.7 .5 3 .5 -1.2 .5 .3 .5 .2 .5 .9 .5 -1.4 .5 1.1 .5 .7 .5 1.7 .5 -2.1 .5 .5 .5 2.1 .5 -.5 .5 -.4
l.5 -1 .5 2 .5 -1.2 .5 0 .5 0 .5 0 .5 .8 .5 -1.2 .5 -2.1 .5 2.3 .5 .5 .5 .4 .5 -.7 .5 -.5 .5 2.3 .5 .5 .5 -2.5 .5 1.8 .5 -.3 .5 1.4 .5 -.5 .5 -1.1 .5 3 .5 -.7 .5 -.8 .5 -.6 .5 -.1 .5 1.1 .5 -1.7 .5 4.1 .5 -2.5 .5 .8 .5 -.3 .5 .8 .5 .9 .5 -3.8 .5 3.9 .5 -.8 .5 1.4 .5 -.7 .5 -2.1 .5 .4 .5 2.7 .5 -.3 .5 -1.1 .5 1.2 .5 -1.2 .5 1.9 .5 -1.1 .5 -.4 .5 1.2 .5 -.3 .5 1 .5 -.9 .5 .5 .5 3 .5 -1.7 .5 -1.3 .5 .6 .5 -1.4
l.5 2.9 .5 -1.7 .5 1.4 .5 .1 .5 0 .5 .2 .5 .4 .5 1.3 .5 -1.5 .5 .3 .5 -2.5 .5 1.7 .5 -.5 .5 1.9 .5 .5 .5 -.1 .5 -2.1 .5 2.8 .5 -.7 .5 -.8 .5 -1.3 .5 1.3 .5 .4 .5 .6 .5 -2 .5 .5 .5 -.4 .5 1.4 .5 -.4 .5 .3 .5 -.5 .5 1.8 .5 .2 .5 -.1 .5 -2.6 .5 2.2 .5 .3 .5 -.7 .5 .4 .5 .7 .5 -.6 .5 .4 .5 .7 .5 -.7 .5 -.7 .5 0 .5 -.1 .5 .7 .5 -.6 .5 .4 .5 -.9 .5 0 .5 .9 .5 -1 .5 -.5 .5 .7 .5 .5 .5 -1.1 .5 2.2 .5 -2.1
l.5 -1.3 .5 3.7 .5 -3.8 .5 1.8 .5 -2.2 .5 -1.3 .5 -2.8 .5 -1 .5 -3.6 .5 -1.7 .5 -5.3 .5 -5.1 .5 -4 .5 -10.9 .5 -8.6 .5 -7.9 .5 -7.4 .5 -6.8 .5 -6.3 .4 -1.2 .6 11.5 .5 19.3 .5 15.3 .5 13.1 .5 10.5 .5 4.9 .5 2.5 .5 1.1 .5 -2.4 .5 3 .5 -.2 .5 2.1 .5 0 .5 1.6 .5 .9 .5 -.3 .5 -.7 .5 1.6 .5 -2.1 .5 1.7 .5 -1.7 .5 1.2 .5 .9 .5 -.5 .5 -1.1 .5 1.1 .5 1 .5 .1 .5 2 .5 -2.1 .5 -.2 .5 -2.2 .5 1.3 .5 -.9 .5 3.2 .5 -2 .5 -1.2 .5 1.5 .5 0 .5 .7
l.5 -.1 .5 .2 .5 -.7 .5 .5 .5 -2.3 .5 .2 .5 1.6 .5 0 .5 -1.2 .5 2.9 .5 -1.1 .5 -.5 .5 .9 .5 .6 .5 -2.7 .5 2.9 .5 -.5 .5 .6 .5 .1 .5 -1.9 .5 2.6 .5 -.2 .5 .5 .5 -2.6 .5 1.8 .5 -1.5 .5 -.2 .5 2.7 .5 -2.1 .5 1.3 .5 -.7 .5 1.2 .5 -1.5 .5 .9 .5 .5 .5 -4.1 .5 3 .5 -1.2 .5 3.2 .5 -.8 .5 -.7 .5 .9 .5 -.4 .5 -1 .5 2.5 .5 .5 .5 -.8 .5 .1 .5 -1 .5 -.5 .5 1.5 .5 -1.7 .5 .6 .5 -.3 .5 -.8 .5 1.7 .5 -.7 .5 -.1 .5 1.9 .5 -2.4
l.5 -.6 .5 .4 .5 1.2 .5 .9 .5 -1.4 .5 -1.4 .5 -.9 .5 1.4 .5 1.9 .5 -1.3 .5 -1.4 .5 1.2 .5 -1.1 .5 .5 .5 1.2 .5 .2 .5 -.5 .5 -1.2 .5 1.5 .5 -.6 .5 -.6 .5 -.3 .5 .8 .5 .5 .5 -.1 .5 -3.2 .5 2.9 .5 2.5 .5 -3.4 .5 2.6 .5 -.3 .5 -.6 .5 1.5 .5 -2.6 .5 .9 .5 -.1 .5 .9 .5 .2 .5 2.4 .5 -3.4 .5 1.2 .5 .9 .5 -1.6 .5 .1 .5 1.6 .5 -2.8 .5 2.2 .5 -1.8 .5 .6 .5 -.2 .5 1.9 .5 -2.9 .5 -1.3 .5 1.8 .5 -.8 .5 1.4 .5 .6 .5 -.2 .5 -2 .5 -.2
l.5 2.3 .5 -1.8 .5 -.4 .5 3.4 .5 -2.1 .5 .7 .5 .1 .5 -.1 .5 0 .5 .4 .5 -1 .5 1 .5 -.8 .5 1.7 .5 -.7 .5 .1 .5 .4 .5 .9 .5 -.2 .5 -.5 .5 -.9 .5 1.8 .5 -2.5 .5 .1 .5 2.6 .5 -2.8 .5 1.5 .5 -.1 .5 -.4 .5 -.3 .5 .2 .5 -.5 .5 -.3 .5 -.5 .5 2 .5 1.4 .5 -3.1 .5 2.2 .5 -.3 .5 .8 .5 -.3 .5 -.4 .5 -1.7 .5 .9 .5 -.6 .5 -1 .5 1.7 .5 -1.5 .5 1.9 .5 -.5 .5 -1.9 .5 2.8 .5 -1 .5 0 .5 -2.8 .5 2.2 .5 -.1 .5 .1 .5 -.2 .5 -.1
l.5 2.9 .5 -2 .5 -1.7 .5 1.5 .5 .1 .5 .5 .5 .2 .5 .3 .5 -.8 .5 .7 .5 3.2 .5 -4.2 .5 -.9 .5 2.8 .5 -1.5 .5 -.5 .5 -.6 .5 2.7 .5 -2.5 .5 3.2 .5 -.4 .5 -.8 .5 -1.6 .5 3.6 .5 -4.6 .5 1.3 .5 -1.2 .5 1.5 .5 0 .5 .6 .5 -1.1 .5 1 .5 -1 .5 .7 .5 -1.1 .5 1.9 .5 -.1 .5 -1.2 .5 .6 .5 -1 .5 2.8 .5 .7 .5 -2 .5 1.4 .5 -1.1 .5 -.6 .5 -1.1 .5 1.7 .5 -1.9 .5 1.1 .5 .7 .5 -1.4 .5 -.5 .5 .4 .5 1.2 .5 -.7 .5 .9 .5 1.1 .5 -2.9 .5 1.8
l.5 -.8 .5 -.9 .5 -.1 .5 -.6 .5 1.3 .5 -1.7 .5 -.6 .5 1.5 .5 1.2 .5 -.4 .5 -.2 .5 .5 .5 1.4 .5 -2 .5 1.3 .5 -.1 .5 -1.4 .5 2.2 .5 -1.6 .5 2.9 .5 -3.1 .5 .5 .5 2.5 .5 -1.3 .5 -1.2 .5 -2.4 .5 4.1 .5 -2.7 .5 2.1 .5 -.5 .5 .3 .5 -.4 .5 -.3 .5 0 .5 .3 .5 -1 .5 .4 .5 1.5 .5 -2.7 .5 2.8 .5 -.4 .5 2.3 .5 -2.2 .5 -.7 .5 .6 .5 -2.6 .5 2.9 .5 -1.5 .5 2.7 .5 -2 .5 .6 .5 -1.4 .5 .6 .5 .1 .5 .9 .5 .5 .5 -1.8 .5 -1.3 .5 0 .5 2.7
l.5 -.4 .5 -.5 .5 -.3 .5 0 .5 -.4 .5 1.2 .5 -1.3 .5 -1.2 .5 .1 .5 -1.6 .5 2.5 .5 -2 .5 -.1 .5 -1.5 .5 -.4 .5 0 .5 -2.7 .5 -2.9 .5 -3.5 .5 -7.3 .5 -9.6 .5 -8.8 .5 -13 .5 -8.8 .5 -7.5 .3 -1.3 .7 9.8 .5 13.3 .5 12.2 .5 14 .5 5 .5 4.4 .5 3.7 .5 1.2 .5 -.2 .5 -.2 .5 .9 .5 0 .5 -3.4 .5 -2.8 .5 -3 .5 -7.7 .5 -9.3 .5 -10.6 .5 -11.6 .5 -12.7 .5 -10.9 .6 -4.2 .4 4 .5 12.6 .5 17.6 .5 18.1 .5 8.2 .5 6.7 .5 5.4 .5 2.9 .5 1.8 .5 1.3 .5 1.3 .5 -.4
l.5 2 .5 -.1 .5 .8 .5 -2 .5 3.6 .5 1.1 .5 -2 .5 -.1 .5 .2 .5 1.9 .5 -3.5 .5 3.7 .5 -2.6 .5 3.2 .5 -1.2 .5 -.4 .5 -1.1 .5 -1.1 .5 .3 .5 1.4 .5 2.1 .5 -2.1 .5 -1.4 .5 1.9 .5 -.5 .5 .7 .5 -.9 .5 -.6 .5 .7 .5 -.2 .5 2.3 .5 -1.2 .5 .5 .5 -1.4 .5 .5 .5 -.9 .5 1.7 .5 -1.4 .5 .8 .5 -.6 .5 1.3 .5 .8 .5 -1.3 .5 1.3 .5 -.5 .5 .3 .5 .3 .5 -.6 .5 -.2 .5 -1.6 .5 .9 .5 1.2 .5 2.3 .5 -1.7 .5 -1.4 .5 1.5 .5 1.2 .5 -2.4 .5 1.6 .5 0
l.5 -1.5 .5 .4 .5 -1 .5 2.2 .5 .5 .5 -1.6 .5 1.2 .5 -.8 .5 -.2 .5 -.5 .5 .1 .5 -.1 .5 .7 .5 .1 .5 -.3 .5 .9 .5 -2.1 .5 1 .5 -.9 .5 1.3 .5 .3 .5 -2.6 .5 2.3 .5 .5 .5 -1.1 .5 -2.5 .5 4.5 .5 -3 .5 .6 .5 2 .5 -2.4 .5 .4 .5 1.7 .5 -.9 .5 .3 .5 -.7 .5 .1 .5 .8 .5 -2.3 .5 .5 .5 .8 .5 -.4 .5 2.4 .5 -1.6 .5 .2 .5 -1.1 .5 2 .5 -1.1 .5 -.3 .5 0 .5 -.3 .5 -.4 .5 1 .5 .8 .5 .7 .5 -3.6 .5 1.7 .5 2.9 .5 -2.3 .5 -1.4
l.5 1.3 .5 -.8 .5 1.6 .5 -.1 .5 -.8 .5 1.1 .5 -.2 .5 .4 .5 -.4 .5 -.5 .5 -.8 .5 3 .5 -2 .5 -.7 .5 0 .5 3 .5 -1.4 .5 -2.6 .5 2.6 .5 -1.4 .5 .2 .5 -.7 .5 1.4 .5 1.5 .5 -3.9 .5 .9 .5 -.2 .5 .1 .5 -.7 .5 .5 .5 .6 .5 1.8 .5 -3.7 .5 2.2 .5 1.1 .5 -1.6 .5 2.4 .5 -.4 .5 -.8 .5 1.5 .5 -1.2 .5 .6 .5 -2.9 .5 2.1 .5 -1.3 .5 -.9 .5 1.4 .5 .8 .5 -1.1 .5 1.2 .5 .9 .5 -1.8 .5 .2 .5 .6 .5 .1 .5 1.2 .5 -3.9 .5 3.3 .5 -1.2 .5 -.4
l.5 3.4 .5 -2.4 .5 -.6 .5 2.5 .5 -1.6 .5 -1 .5 1 .5 -.4 .5 -1.8 .5 .6 .5 .3 .5 .1 .5 1.1 .5 -1.2 .5 -.1 .5 1.5 .5 -.1 .5 -1.9 .5 1.1 .5 .9 .5 1.7 .5 -2 .5 .3 .5 -.4 .5 0 .5 -2 .5 3.5 .5 -1.1 .5 .7 .5 -2.5 .5 .7 .5 1.2 .5 -.9 .5 0 .5 2.9 .5 -3.1 .5 .8 .5 -.2 .5 -1.5 .5 1.3 .5 2.1 .5 -2.6 .5 1.7 .5 -1.3 .5 .3 .5 -.8 .5 .8 .5 -.9 .5 1.9 .5 -3.1 .5 .3 .5 -2.2 .5 3 .5 -1.3 .5 -.5 .5 -1.8 .5 .4 .7 -.7 .3 .1 .5 1.7
l.5 -.8 .5 .2 .5 3 .5 -.9 .5 .5 .5 1.2 .5 .2 .5 -1.8 .5 1.1 .5 .3 .5 0 .5 1.3 .5 -2.5 .5 -.2 .5 -.7 .5 2.4 .5 -2 .5 .7 .5 -.9 .5 -.1 .5 1.4 .5 .9 .5 -2.6 .5 1.8 .5 -.5 .5 -1.3 .5 .1 .5 0 .5 -1.2 .5 -1.8 .5 2.4 .5 -.6 .5 -3.1 .5 -.1 .5 -1.4 .5 -2.6 .5 -3.8 .5 -1 .5 -2.7 .5 -1.7 .5 -3 .5 .4 .5 -2.7 .5 -.4 .5 .6 .5 1.3 .5 4.1 .5 2.2 .5 5 .5 -2 .5 7.2 .5 -1.1 .5 2.9 .5 -.1 .5 3.2 .5 -.3 .5 .4 .5 -.2 .5 1.6 .5 .9
l.5 -1.7 .5 2.1 .5 -.8 .5 -.7 .5 -.4 .5 -1.9 .5 3.6 .5 -1.2 .5 1.5 .5 -1.5 .5 1.7 .5 .7 .5 -1.9 .5 -.7 .5 -.7 .5 4.1 .5 -2 .5 .2 .5 .5 .5 -1.7 .5 -.2 .5 2.7 .5 -2.1 .5 1.2 .5 .1 .5 -1 .5 -.3 .5 2.9 .5 -1.4 .5 -2.5 .5 .3 .5 1.2 .5 .8 .5 -.7 .5 -2.3 .5 -.2 .5 .4 .5 1 .5 -1.1 .5 .3 .5 -1.8 .5 .6 .5 -1.7 .5 -2.5 .5 .3 .5 -1.9 .5 1.9 .5 -2.8 .5 -.8 .5 -.7 .5 -.8 .5 .1 .5 1.2 .5 -1.9 .5 1.1 .5 .6 .5 -2.9 .5 3 .5 -3.5 .5 -2.2
l.5 -.8 .5 -1.3 .5 -1.8 .5 -1.1 .6 -.8 .4 .8 .5 2.3 .5 1.5 .5 4.5 .5 1.7 .5 4 .5 -1 .5 4.4 .5 .9 .5 .8 .5 1.1 .5 -.3 .5 1.8 .5 -2.4 .5 .6 .5 -.5 .5 .8 .5 .4 .5 -.6 .5 2 .5 -2.4 .5 0 .5 2.3 .5 -2 .5 .7 .5 -1.1 .5 1 .5 -1.6 .5 -2.5 .5 -1.9 .5 .5 .5 -2 .5 -2.4 .5 -5.8 .5 -.2 .5 -8.3 .5 -10.7 .5 -12.9 .5 -14.8 .5 -14.6 .5 -12.3 .5 -4.2 .5 7.5 .5 17.6 .5 18.6 .5 17.1 .5 11.4 .5 6.9 .5 3.8 .5 3.3 .5 2.6 .5 2.1 .5 1.3 .5 -.2 .5 2.7
l.5 1.1 .5 -1.7 .5 .6 .5 -1.1 .5 2.9 .5 .7 .5 -1.8 .5 -1.7 .5 1.9 .5 -.2 .5 .3 .5 -.3 .5 -1.1 .5 .4 .5 -.1 .5 -.3 .5 .8 .5 1.1 .5 -2 .5 1.5 .5 .5 .5 -.7 .5 0 .5 1.9 .5 -.7 .5 -1.3 .5 1.2 .5 .3 .5 -.6 .5 1 .5 -.4 .5 -.1 .5 -1.3 .5 2.6 .5 -2.2 .5 -.2 .5 1.9 .5 -1.2 .5 -1.7 .5 2.3 .5 -1.8 .5 0 .5 .9 .5 -.1 .5 .4 .5 -1.4 .5 .2 .5 .6 .5 .6 .5 -.9 .5 1.4 .5 -1.8 .5 1.2 .5 -.3 .5 0 .5 .6 .5 .5 .5 -.5 .5 -1.3 .5 -.3
l.5 -.9 .5 2 .5 -1.3 .5 .3 .5 2.6 .5 -2.2 .5 -1 .5 2.1 .5 -.3 .5 -.6 .5 -.7 .5 .3 .5 -.1 .5 .4 .5 -.4 .5 0 .5 1.3 .5 -1.1 .5 -.6 .5 .3 .5 -.2 .5 -2 .5 2.1 .5 1.5 .5 -1.6 .5 -.9 .5 1.1 .5 -.1 .5 1.6 .5 -1.4 .5 0 .5 1.7 .5 -1.6 .5 -.1 .5 .6 .5 1.2 .5 -1.3 .5 0 .5 -.7 .5 -1.3 .5 -1.1 .5 -1.2 .5 -3.4 .5 -6.1 .5 -2.9 .5 -5.1 .5 -6.4 .5 -2.8 .3 -.6 .7 4.5 .5 5.7 .5 7 .5 6 .5 2 .5 2.5 .5 2.4 .5 1.1 .5 1.2 .5 1.7 .5 -4.3
l.5 4 .5 -.2 .5 -1.2 .5 -.8 .5 1.9 .5 .2 .5 -1.5 .5 3.7 .5 -4.5 .5 -.2 .5 -.7 .5 1.6 .5 .8 .5 2.2 .5 -2.5 .5 0 .5 -.6 .5 -.2 .5 1.8 .5 -1.6 .5 .4 .5 .1 .5 -.1 .5 -.8 .5 -1.1 .5 .9 .5 -1 .5 .6 .5 -4.2 .5 -1.3 .5 1.8 .5 -1.7 .5 -.7 .5 0 .5 .2 .5 .3 .5 1.5 .5 1.3 .5 -1.3 .5 2.2 .5 .4 .5 -.5 .5 1.7 .5 2.4 .5 -1.3 .5 .3 .5 2.9 .5 -.5 .5 .1 .5 -1.4 .5 .8 .5 -.1 .5 .1 .5 .3 .5 -1 .5 -1.9 .5 3.3 .5 .4 .5 -1.5 .5 2.3
l.5 -1.9 .5 -1.5 .5 -.6 .5 1.9 .5 -1 .5 1.1 .5 0 .5 -.5 .5 .4 .5 .7 .5 -2 .5 .3 .5 -.3 .5 1.9 .5 -3.1 .5 2.4 .5 1 .5 -1.6 .5 1 .5 -2.4 .5 1.4 .5 1.1 .5 1.4 .5 -3.1 .5 .6 .5 -.6 .5 -.3 .5 .4 .5 .1 .5 -.2 .5 -.6 .5 .8 .5 -1 .5 2.1 .5 -.2 .5 0 .5 -.4 .5 .5 .5 2 .5 -4.5 .5 1.5 .5 1.2 .5 .1 .5 0 .5 0 .5 -.1 .5 -1.8 .5 -1.1 .5 2.8 .5 1 .5 -2.3 .5 .4 .5 -.3 .5 -.8 .5 -.5 .5 1.3 .5 .9 .5 -1.2 .5 1.5 .5 -1.8
l.5 1.6 .5 -1.5 .5 .7 .5 -1.6 .5 -1.8 .5 3.9 .5 -1.6 .5 2.3 .5 -.6 .5 -3 .5 3.9 .5 -3.3 .5 2.8 .5 -.7 .5 -.6 .5 .9 .5 -1.6 .5 1.5 .5 -1.7 .5 2.2 .5 -.8 .5 .1 .5 -3.1 .5 -.1 .5 -.3 .5 -1.7 .5 -3 .5 -.1 .7 -1.3 .3 .4 .5 1.8 .5 4.6 .5 -.3 .5 -.5 .5 3.5 .5 0 .5 -2.6 .5 2.9 .5 -.7 .5 -1 .5 1.5 .5 -.8 .5 0 .5 2.3 .5 -.8 .5 -2 .5 2.1 .5 -.3 .5 2.1 .5 -3.8 .5 1.6 .5 -.6 .5 .4 .5 .5 .5 -1.2 .5 .8 .5 -1.6 .5 -.1 .5 2.7 .5 -2.4
l.5 .9 .5 1 .5 -.4 .5 -.9 .5 1.1 .5 1.3 .5 -3.7 .5 .8 .5 .7 .5 -1.3 .5 1.1 .5 .1 .5 1.6 .5 -2.5 .5 .8 .5 .8 .5 -2.1 .5 .8 .5 1.9 .5 -4.5 .5 2.8 .5 -1.1 .5 1.2 .5 -1.9 .5 1.2 .5 -.1 .5 .2 .5 .3 .5 .3 .5 -.4 .5 -.3 .5 .9 .5 -2.4 .5 1.4 .5 -1.5 .5 -.6 .5 -2.8 .5 -2.8 .5 -2.3 .5 -2.8 .5 -6.4 .5 -7.3 .5 -2.9 .5 -9.4 .5 -6.6 .6 -2 .4 2.3 .5 6.3 .5 7.9 .5 10.9 .5 6.6 .5 4.9 .5 .4 .5 5.6 .5 2.2 .5 -2.8 .5 2.2 .5 .9 .5 .2 .5 -.6
l.5 1.2 .5 1.5 .5 -1.2 .5 -.7 .5 .7 .5 .3 .5 .3 .5 -.1 .5 2.1 .5 -.6 .5 -3.3 .5 1.8 .5 -.5 .5 .6 .5 .9 .5 -.9 .5 .7 .5 -.8 .5 2.7 .5 -2.9 .5 1 .5 .7 .5 -.6 .5 -2.5 .5 1.2 .5 .8 .5 -2.3 .5 .6 .5 1.1 .5 .2 .5 -2.2 .5 .5 .5 1.4 .5 -1.2 .5 3.3 .5 -.9 .5 .1 .5 -1.2 .5 -.4 .5 -1.8 .5 2.9 .5 -.5 .5 -.8 .5 1.5 .5 -.8 .5 0 .5 .5 .5 .8 .5 -.7 .5 -1.1 .5 0 .5 2.9 .5 -1 .5 1.6 .5 -2.3 .5 .4 .5 -.4 .5 -.9 .5 -.9 .5 3.4
l.5 -2.8 .5 -.7 .5 1.9 .5 -.2 .5 1.2 .5 -1 .5 -1.4 .5 -.8 .5 1.4 .5 2.3 .5 -4.4 .5 1.6 .5 .2 .5 .5 .5 -.3 .5 2.9 .5 -2.6 .5 -.9 .5 1.3 .5 -.7 .5 -.4 .5 -1.1 .5 1.8 .5 -.5 .5 .7 .5 2.5 .5 -3.7 .5 -.6 .5 .6 .5 .3 .5 .5 .5 1 .5 -.8 .5 -2.4 .5 2.4 .5 -.4 .5 -.4 .5 .6 .5 -2.1 .5 -.4 .5 -1.4 .5 1.3 .5 -3.4 .5 -1.6 .5 -2.7 .5 -1.1 .5 -4.4 .5 -1.9 .3 -.4 .7 2.9 .5 4 .5 4.1 .5 3.9 .5 -.2 .5 .5 .5 2.3 .5 1.3 .5 1.4 .5 -4.3 .5 .7
l.5 .9 .5 -.1 .5 1.2 .5 .2 .5 -.5 .5 .3 .5 -1.3 .5 -1 .5 2.2 .5 -1.1 .5 2.6 .5 -1.1 .5 -.3 .5 -1 .5 1.5 .5 -1.1 .5 .5 .5 -2.8 .5 2.8 .5 1.4 .5 -1.5 .5 -.1 .5 1.2 .5 -.4 .5 -.8 .5 1.1 .5 -1.2 .5 1.4 .5 .3 .5 -1.6 .5 .1 .5 1 .5 -.1 .5 1.1 .5 -2.7 .5 -1.4 .5 3.4 .5 -4 .5 3.3 .5 -1.1 .5 -.2 .5 1.8 .5 -1 .5 -.6 .5 .4 .5 .8 .5 -2.3 .5 3.3 .5 .4 .5 -1 .5 -.2 .5 .8 .5 -1.6 .5 -.2 .5 2.3 .5 -1.9 .5 .3 .5 -1.2 .5 1.4 .5 -.7
l.5 .7 .5 -1.4 .5 .3 .5 .8 .5 -1 .5 3.2 .5 -2.7 .5 .6 .5 .6 .5 -2.6 .5 .7 .5 2.2 .5 -1.8 .5 -1.1 .5 2.2 .5 1 .5 -.4 .5 -1.7 .5 1.2 .5 .2 .5 .4 .5 -2.2 .5 1.8 .5 .2 .5 -1.8 .5 1 .5 -1.2 .5 2.9 .5 -2.8 .5 1.9 .5 1 .5 -.2 .5 -2 .5 .4 .5 -.5 .5 -.4 .5 1.8 .5 -.6 .5 -.4 .5 .5 .5 0 .5 -1.3 .5 1.8 .5 -.6 .5 -.5 .5 -.2 .5 0 .5 0 .5 -.3 .5 .3 .5 -2.1 .5 1.1 .5 .7 .5 .9 .5 -.8 .5 .4 .5 -.9 .5 -.2 .5 2.8 .5 -.7
l.5 1.5 .5 -1.4 .5 -.2 .5 -.6 .5 -1.7 .5 3.1 .5 -1.1 .5 .2 .5 .3 .5 -2.7 .5 2.9 .5 -.4 .5 -1 .5 -1.7 .5 3.3 .5 -3.2 .5 2.8 .5 -4.2 .5 4 .5 -1.2 .5 -.2 .5 1.1 .5 -2.6 .5 .2 .5 1 .5 -.4 .5 .3 .5 -.3 .5 1.1 .5 -2.8 .5 .1 .5 1.9 .5 1.5 .5 -2.2 .5 1 .5 -.2 .5 1.9 .5 -2.2 .5 1.9 .5 -2.4 .5 .3 .5 1.9 .5 -1.4 .5 1.9 .5 -2 .5 1.6 .5 .6 .5 -1.7 .5 -2.4 .5 .6 .5 3.6 .5 -1.7 .5 .9 .5 -2.3 .5 1.9 .5 .4 .5 -1.9 .5 .3 .5 0 .5 -.3
l.5 1 .5 -1.4 .5 2.7 .5 -2.3 .5 1.5 .5 -2.7 .5 .5 .5 -1.4 .5 1.2 .5 -1.2 .5 -.9 .5 -.4 .5 .1 .5 -1 .5 -.7 .5 -3.6 .5 2.4 .5 -2.5 .5 -3.6 .5 -.1 .5 -.4 .5 -4.9 .5 -2.2 .5 -3.1 .5 -.4 .5 -1 .3 .1 .7 1 .5 1.3 .5 -.1 .5 5.5 .5 1 .5 4.1 .5 2.6 .5 3.1 .5 -.9 .5 2.7 .5 2.5 .5 -1.8 .5 1.7 .5 2.6 .5 -2.9 .5 3.3 .5 -3.4 .5 2.2 .5 .2 .5 -3 .5 1 .5 .6 .5 .5 .5 .6 .5 -1.9 .5 -.1 .5 2.7 .5 -3.1 .5 1.6 .5 -.4 .5 -1 .5 .8 .5 .6
l.5 .3 .5 -.5 .5 -1.9 .5 -2.4 .5 -.3 .5 1.2 .5 -4.2 .5 0 .5 -4.5 .5 -1.6 .5 -4.5 .5 -2.4 .5 -1.5 .5 1.5 .5 2.8 .5 6.2 .5 2.8 .5 2.8 .5 3.1 .5 -1.6 .5 4.8 .5 0 .5 -1.1 .5 .1 .5 1.3 .5 .3 .5 -.8 .5 .2 .5 .3 .5 -.9 .5 -.6 .5 -.6 .5 .2 .5 -1.8 .5 -4.8 .5 -2.8 .5 .9 .5 -1.3 .5 -6.6 .5 -1.9 .5 -2.2 .5 -1.3 .3 -.3 .7 1.9 .5 4.2 .5 2.5 .5 5.6 .5 1.6 .5 2.6 .5 2.7 .5 .3 .5 2.1 .5 -.7 .5 1.1 .5 1.5 .5 -1.5 .5 .8 .5 -.1 .5 -4.4 .5 5
l.5 -1 .5 .8 .5 -3.5 .5 2.7 .5 4 .5 -2.5 .5 -.5 .5 -1.6 .5 .7 .5 -.8 .5 2.6 .5 -1.4 .5 -1.5 .5 4.5 .5 -2.8 .5 -.8 .5 1.2 .5 -.9 .5 -.7 .5 1.2 .5 .5 .5 1.2 .5 -4 .5 2.4 .5 -.5 .5 -.1 .5 -3.6 .5 3.5 .5 0 .5 3.1 .5 -1.3 .5 -1.2 .5 .9 .5 .1 .5 -2.3 .5 -.4 .5 2.8 .5 -.8 .5 1.2 .5 -1.4 .5 1.5 .5 -2.4 .5 3.5 .5 -2.5 .5 1.2 .5 -.4 .5 -.9 .5 -1 .5 -1.7 .5 2.3 .5 -.5 .5 .3 .5 1.4 .5 -1.6 .5 1.1 .5 .7 .5 -.2 .5 -.5 .5 1.8 .5 -1.6
l.5 .8 .5 0 .5 .3 .5 -.5 .5 -.1 .5 -1.5 .5 1.2 .5 2.6 .5 -2.1 .5 -.8 .5 1.4 .5 0 .5 .1 .5 1.3 .5 -2.5 .5 .6 .5 0 .5 -.1 .5 .4 .5 -2.6 .5 1.1 .5 1.8 .5 -1.9 .5 -.6 .5 .4 .5 .9 .5 -1.5 .5 -.4 .5 1 .5 -1.3 .5 3.3 .5 -2.2 .5 1.7 .5 -.4 .5 -1.9 .5 1.6 .5 -2.1 .5 3 .5 -.8 .5 -.8 .5 -.8 .5 3 .5 -3.5 .5 1.2 .5 1.1 .5 .3 .5 -1.5 .5 2.2 .5 -.6 .5 -.4 .5 .6 .5 -.1 .5 -2.3 .5 1.8 .5 -.8 .5 -.9 .5 1 .5 -.3 .5 1 .5 -.6
l.5 -2.2 .5 1.3 .5 -1.1 .5 1.6 .5 .7 .5 -.8 .5 -1.4 .5 1.6 .5 -1.8 .5 0 .5 -.5 .5 1.1 .5 -.2 .5 .1 .5 2 .5 -.5 .5 -1.8 .5 2.7 .5 -.8 .5 -2 .5 .7 .5 .4 .5 0 .5 -.6 .5 -1.5 .5 0 .5 -1.7 .5 -.2 .5 -2 .5 -5.9 .5 -3.9 .5 -6 .5 -8 .5 -5.4 .5 -6.3 .4 -1.6 .6 5.1 .5 7 .5 8.2 .5 7.7 .5 3.6 .5 5.6 .5 -.1 .5 -2.5 .5 -1.1 .5 -1.2 .5 -1.5 .5 -3.1 .5 -1.1 .5 1.1 .5 3.7 .5 3.7 .5 3.3 .5 .9 .5 2.4 .5 .4 .5 2.4 .5 -.7 .5 .1 .5 -.1
l.5 -2.5 .5 1 .5 .6 .5 2.3 .5 -1.7 .5 2 .5 -.6 .5 .6 .5 -.5 .5 -.6 .5 -1.5 .5 1.7 .5 -1 .5 -.1 .5 -.2 .5 1.2 .5 -.8 .5 1.6 .5 -.3 .5 -.5 .5 .9 .5 -1.4 .5 .6 .5 -.4 .5 -.4 .5 1.3 .5 -1.9 .5 .9 .5 -.3 .5 .6 .5 .3 .5 .3 .5 -2.9 .5 0 .5 -.6 .5 1.3 .5 .1 .5 .3 .5 -1.2 .5 -.1 .5 -.5 .5 1 .5 1.6 .5 .8 .5 3.8 .5 -4.9 .5 1.4 .5 1.4 .5 -1.4 .5 1.1 .5 -1.9 .5 1.6 .5 -1.3 .5 -1.2 .5 .2 .5 1.5 .5 .3 .5 -1.6 .5 -.3 .5 -.8
l.5 -1.1 .5 3.2 .5 -2.8 .5 -1.6 .5 .2 .5 1.3 .5 -2 .5 -1.3 .5 -1.3 .5 .3 .5 -1.2 .5 1.1 .5 -2.9 .5 .1 .5 -.8 .3 -.2 .7 -.2 .5 1.6 .5 .8 .5 -.1 .5 2 .5 -1.6 .5 3.7 .5 1 .5 -.9 .5 .2 .5 .5 .5 .1 .5 0 .5 -1.7 .5 -.5 .5 .1 .5 -1.4 .5 -1.3 .5 -1.5 .5 -2 .5 -1.1 .5 -4.2 .5 1.4 .5 -.6 .6 -.7 .4 .5 .5 .7 .5 3.6 .5 -.9 .5 4.4 .5 2.3 .5 .3 .5 5.2 .5 -3.3 .5 .5 .5 2.6 .5 .1 .5 -2.2 .5 4 .5 -1.8 .5 2.2 .5 -3.7 .5 2.4 .5 1.5
l.5 -1.6 .5 .1 .5 0 .5 -.2 .5 1.2 .5 .7 .5 -1.2 .5 -.7 .5 .6 .5 -2.2 .5 2.2 .5 -1.5 .5 2.2 .5 .7 .5 -1.9 .5 .1 .5 2.3 .5 -.4 .5 -.8 .5 -.6 .5 1.9 .5 -1 .5 -1.5 .5 -.1 .5 -.6 .5 1.1 .5 -.5 .5 1.6 .5 -1.2 .5 -1 .5 2 .5 -.6 .5 1.3 .5 -1.4 .5 -1.5 .5 1.2 .5 2.1 .5 -2.2 .5 1 .5 -1.6 .5 1.7 .5 -1.7 .5 1.3 .5 .2 .5 .2 .5 -.1 .5 1.2 .5 -2.6 .5 1 .5 .3 .5 2 .5 -2 .5 1.7 .5 -1.3 .5 -.1 .5 -1.3 .5 .9 .5 -1.8 .5 3.1 .5 -1.1
l.5 .4 .5 -2.3 .5 1.7 .5 .2 .5 -.9 .5 -.5 .5 -.2 .5 -1.5 .5 1.4 .5 .2 .5 -.7 .5 2.4 .5 -.6 .5 -.7 .5 1.7 .5 -.9 .5 -.4 .5 .7 .5 -1.5 .5 2.7 .5 -2.6 .5 1.6 .5 .7 .5 -.3 .5 -1.5 .5 .1 .5 1.9 .5 -2.4 .5 1.4 .5 0 .5 -.6 .5 0 .5 0 .5 -.3 .5 0 .5 2.1 .5 -2.3 .5 1.4 .5 -1.2 .5 1.3 .5 0 .5 -1.4 .5 0 .5 1.1 .5 -.8 .5 -1.8 .5 2.9 .5 -1.7 .5 -.7 .5 .4 .5 -.4 .5 .4 .5 -.2 .5 -1.2 .5 1.2 .5 2.7 .5 -3.1 .5 .8 .5 -.4 .5 .1
l.5 1.1 .5 .5 .5 .6 .5 -1.1 .5 -.7 .5 -.4 .5 1.1 .5 -.5 .5 -.1 .5 1 .5 -1.1 .5 .5 .5 2.1 .5 -.8 .5 0 .5 1.2 .5 -1.7 .5 -1.9 .5 .7 .5 .2 .5 -1 .5 1.9 .5 -.6 .5 .3 .5 .6 .5 -1.4 .5 .8 .5 -.1 .5 -.4 .5 -.3 .5 1.8 .5 -1.2 .5 .1 .5 -.3 .5 3.2 .5 -3.9 .5 1.6 .5 -1.6 .5 .9 .5 -.7 .5 2.1 .5 -3.1 .5 1.9 .5 1.5 .5 -.1 .5 -1.9 .5 .6 .5 -.4 .5 -1.4 .5 2 .5 -.4 .5 -2 .5 2.2 .5 -1.7 .5 -.1 .5 1.5 .5 1.5 .5 -1.3 .5 -.6 .5 -.1
l.5 2.1 .5 -3.3 .5 .2 .5 -.6 .5 1.8 .5 1.5 .5 -3.8 .5 1 .5 -.1 .5 .7 .5 .8 .5 .5 .5 -.4 .5 -1.3 .5 1.5 .5 1 .5 -2.1 .5 1.3 .5 .2 .5 -.2 .5 .2 .5 -.3 .5 -1.3 .5 1.4 .5 -.6 .5 1.4 .5 -.9 .5 1.7 .5 -2.4 .5 .7 .5 -1.6 .5 .2 .5 -1.2 .5 1.3 .5 -1.1 .5 1.3 .5 -3.6 .5 1.6 .5 -3.8 .5 -2.1 .5 -1.5 .5 -2.8 .5 -.5 .5 -3.4 .5 .3 .6 -1.3 .4 .4 .5 3 .5 1.4 .5 1.7 .5 5.1 .5 3.1 .5 -1.4 .5 .5 .5 3.1 .5 -.1 .5 .8 .5 -1.7 .5 2.1 .5 -.5
l.5 .5 .5 -1.8 .5 .7 .5 2 .5 -.2 .5 -.4 .5 .3 .5 -2 .5 1.3 .5 -1.5 .5 -1.5 .5 3.6 .5 -.7 .5 -.9 .5 1.5 .5 .2 .5 -.6 .5 1.1 .5 1.2 .5 -2 .5 -2.3 .5 .8 .5 -.6 .5 -1.4 .5 4.1 .5 .1 .5 -.4 .5 -.1 .5 -1.7 .5 -1.5 .5 1.3 .5 -.6 .5 1.3 .5 0 .5 .3 .5 1.3 .5 -2.2 .5 .7 .5 -.1 .5 -.2 .5 1.8 .5 -1.8 .5 -.6 .5 -1.2 .5 .1 .5 -1 .5 1 .5 -3.6 .5 -.6 .5 -.3 .5 -.3 .5 -1.5 .5 -2.7 .5 -2.5 .5 -1.9 .7 -1.4 .3 .5 .5 2.8 .5 4 .5 1.8
l.5 1.4 .5 1.7 .5 1.5 .5 -.1 .5 .7 .5 1 .5 -.8 .5 3 .5 1.7 .5 .3 .5 -.2 .5 -2.2 .5 1.1 .5 -.8 .5 -3 .5 2.1 .5 0 .5 -.5 .5 .5 .5 .8 .5 1.4 .5 -.8 .5 -1.5 .5 .9 .5 -.5 .5 .2 .5 -1 .5 1.4 .5 -1.1 .5 3.1 .5 -3.9 .5 1.4 .5 2.5 .5 -2.5 .5 -.6 .5 3 .5 -3 .5 1.9 .5 -1.2 .5 -.3 .5 1.5 .5 -2.4 .5 1.3 .5 1.2 .5 -.3 .5 -1.7 .5 -.1 .5 1.7 .5 -1.4 .5 1 .5 .3 .5 -2.8 .5 2.9 .5 -1.3 .5 .7 .5 -.8 .5 .1 .5 1.4 .5 -.4 .5 -.6
l.5 -2 .5 -1.5 .5 2.4 .5 .3 .5 -2.9 .5 -.4 .5 -.1 .5 .1 .5 -.8 .5 -.4 .5 -.6 .5 -2.9 .5 -5.9 .5 -7.1 .5 -8.8 .5 -10.8 .5 -13 .5 -11.3 .5 -7.8 .3 -1.6 .7 11.4 .5 14.9 .5 14.1 .5 12.5 .5 3.3 .5 6.4 .5 2.1 .5 1.8 .5 -5.4 .5 -4 .5 -5.8 .5 -5.4 .5 -5 .5 -2.2 .5 3.8 .5 8.7 .5 9.3 .5 3.2 .5 6.4 .5 1.7 .5 .6 .5 .9 .5 2.7 .5 -2.6 .5 1.4 .5 .2 .5 -.4 .5 1.6 .5 .4 .5 -2.4 .5 .3 .5 -.9 .5 1.1 .5 -.3 .5 -.2 .5 2.8 .5 -2.1 .5 .4 .5 1.6 .5 -.9
l.5 -1.6 .5 .9 .5 .9 .5 -1.2 .5 -1.6 .5 .6 .5 1.9 .5 1.1 .5 -2.2 .5 3.8 .5 -2 .5 -1.2 .5 2.7 .5 -.3 .5 -1.7 .5 2.1 .5 -1.3 .5 -.8 .5 -.9 .5 2.4 .5 -.9 .5 -.1 .5 -.9 .5 -1.3 .5 1.9 .5 -1 .5 .1 .5 -.8 .5 2.9 .5 -1.4 .5 -.6 .5 -.8 .5 1.1 .5 .3 .5 -.9 .5 .1 .5 .4 .5 1.3 .5 1 .5 .3 .5 -3.2 .5 2 .5 -.6 .5 -2 .5 2.3 .5 1 .5 -.7 .5 -2 .5 -.9 .5 1.2 .5 -2.5 .5 2.4 .5 -1.4 .5 -.2 .5 .2 .5 .6 .5 -2.5 .5 4.4 .5 -1.1 .5 -.2
l.5 1.3 .5 .2 .5 .3 .5 -.3 .5 -1.6 .5 1.8 .5 -2.4 .5 -.6 .5 -.6 .5 -.4 .5 1 .5 -.5 .5 .8 .5 -.2 .5 .1 .5 1.3 .5 .2 .5 -1.3 .5 .7 .5 1.4 .5 -1.7 .5 1.2 .5 .5 .5 2.3 .5 -2.1 .5 -.7 .5 -2.2 .5 1.5 .5 -.2 .5 .1 .5 -1.1 .5 -.8 .5 .2 .5 -1.5 .5 -.8 .5 -3.4 .5 -3.3 .5 -2.9 .5 -5.5 .5 -4.7 .5 -5.2 .6 -2 .4 1.6 .5 5.9 .5 5.7 .5 5.2 .5 4.8 .5 .1 .5 3.6 .5 -1.6 .5 -.5 .5 0 .5 -4.8 .5 -2.4 .5 -1 .5 1.8 .5 4.1 .5 3.4 .5 .7 .5 1.3
l.5 .3 .5 3.6 .5 -1.4 .5 .2 .5 -.5 .5 1.8 .5 .7 .5 -1.5 .5 0 .5 -1.8 .5 2.1 .5 1.6 .5 -2.2 .5 .9 .5 -1.3 .5 -.7 .5 3.1 .5 -2.5 .5 -.6 .5 .7 .5 1.5 .5 -2.2 .5 .1 .5 .4 .5 -.1 .5 1.3 .5 -2.1 .5 .2 .5 .1 .5 3.6 .5 -2.3 .5 -1.9 .5 .6 .5 .2 .5 1.8 .5 -.8 .5 2 .5 -3 .5 1.5 .5 1.5 .5 .5 .5 -1.5 .5 2.3 .5 -1.6 .5 -.9 .5 -2.9 .5 3 .5 -1 .5 -.1 .5 .6 .5 -.8 .5 -.6 .5 1 .5 -1 .5 .4 .5 -2.6 .5 2.3 .5 -1.7 .5 .9 .5 -1.1
l.5 -1.2 .5 0 .5 -1.3 .5 -1.4 .5 .1 .5 -1 .5 -.1 .5 -2.1 .5 .4 .7 0 .3 -.1 .5 .5 .5 1 .5 1.2 .5 1 .5 1.6 .5 -.3 .5 -.7 .5 -.3 .5 2.3 .5 2.2 .5 -1 .5 -.3 .5 1.4 .5 .2 .5 2.2 .5 -1.4 .5 2.3 .5 -2.9 .5 1.4 .5 -.3 .5 -.7 .5 .9 .5 -.3 .5 -.3 .5 .6 .5 1.1 .5 -.3 .5 -.7 .5 -.5 .5 1.1 .5 -1 .5 1.4 .5 -1 .5 -1.5 .5 2.1 .5 -2.2 .5 3.4 .5 -1 .5 -.5 .5 -2 .5 2.7 .5 -1.8 .5 -1.2 .5 -.3 .5 3.6 .5 -1.1 .5 -1.3 .5 1.7 .5 -1.1
l.5 -1.1 .5 2.6 .5 -.1 .5 -3 .5 2.6 .5 -.1 .5 .4 .5 .3 .5 -2.1 .5 1.7 .5 -.6 .5 .3 .5 1.1 .5 -.8 .5 .1 .5 -1.7 .5 2.8 .5 -2.6 .5 1.4 .5 -1.5 .5 .9 .5 -.7 .5 .2 .5 1.3 .5 .2 .5 -1.5 .5 .7 .5 -.6 .5 .1 .5 -.8 .5 .2 .5 .9 .5 -.8 .5 -.6 .5 1.4 .5 -1.7 .5 2 .5 -2.1 .5 2.4 .5 -.1 .5 -1.1 .5 .8 .5 -2 .5 1.9 .5 .4 .5 -.9 .5 .3 .5 -1.2 .5 0 .5 2.4 .5 -2.8 .5 1.3 .5 -.2 .5 1.6 .5 -1.9 .5 -.2 .5 1.7 .5 -1.5 .5 2.5 .5 -2.9
l.5 1.9 .5 -3 .5 .9 .5 .1 .5 -.7 .5 2 .5 -1.7 .5 -1.5 .5 1.3 .5 -1.5 .5 1.5 .5 -2.5 .5 1.8 .5 -1.2 .5 .4 .5 .1 .5 2.2 .5 -3.9 .5 2 .5 -.5 .5 -.4 .5 .5 .5 -.4 .5 .2 .5 -.4 .5 .9 .5 0 .5 -2.5 .5 1 .5 2.4 .5 .6 .5 .1 .5 -1.3 .5 1.1 .5 -2.5 .5 -.4 .5 2.9 .5 -.9 .5 1.6 .5 -1 .5 -1.4 .5 .2 .5 1.7 .5 -.5 .5 -1.3 .5 1 .5 -3 .5 2.2 .5 -1.9 .5 -2.8 .5 .4 .5 -2.3 .5 1 .5 .5 .5 .3 .5 .2 .5 .8 .5 3.9 .5 .1 .5 .8
l.5 .3 .5 -.9 .5 2.4 .5 -1.4 .5 2.1 .5 .4 .5 -.9 .5 -.9 .5 1.6 .5 -1.1 .5 -.6 .5 2.2 .5 -.5 .5 .3 .5 -2 .5 1.6 .5 -2.2 .5 2.7 .5 -1 .5 -1.3 .5 2.7 .5 -.6 .5 -.7 .5 -1.4 .5 .3 .5 2.2 .5 -2.2 .5 .1 .5 -.2 .5 2.9 .5 -1.1 .5 -1.3 .5 -.3 .5 .6 .5 .4 .5 .8 .5 -1.9 .5 .6 .5 .6 .5 0 .5 -.6 .5 .1 .5 .4 .5 -1.7 .5 .9 .5 -.7 .5 1.9 .5 -1 .5 -.4 .5 -.8 .5 -2.8 .5 4.2 .5 -1 .5 -.4 .5 .8 .5 -.6 .5 .7 .5 2 .5 .2 .5 -1.9
l.5 .6 .5 .2 .5 -.5 .5 .4 .5 -.5 .5 .7 .5 -3.7 .5 2.6 .5 -.7 .5 -2.2 .5 .5 .5 -.7 .5 -3.2 .5 -2.7 .5 -3 .5 -7.3 .5 -4.3 .5 -4.3 .5 -2.4 .5 2.9 .5 7.5 .5 5.2 .5 5.2 .5 3.7 .5 1.7 .5 -3.5 .5 1 .5 -1.6 .5 -1.7 .5 -1.8 .5 -4.1 .5 -.4 .5 1.9 .5 5 .5 4.5 .5 1.6 .5 2 .5 .4 .5 1.2 .5 1.3 .5 -3 .5 2.1 .5 1.6 .5 -2.1 .5 2.9 .5 -2.4 .5 -.3 .5 -.2 .5 .3 .5 -1 .5 .8 .5 -.6 .5 -.5 .5 1 .5 .1 .5 -.4 .5 1.8 .5 -2.3 .5 2.3 .5 -1.2
l.5 .7 .5 .6 .5 -.9 .5 .4 .5 -.5 .5 .3 .5 .9 .5 -1.3 .5 -.4 .5 1.4 .5 -1.2 .5 -1.2 .5 1.2 .5 -1 .5 2.1 .5 -1.5 .5 1.3 .5 -.1 .5 -1 .5 -.2 .5 -1.2 .5 2.8 .5 -.4 .5 -2.1 .5 -.8 .5 1.3 .5 -.9 .5 2.8 .5 -2.7 .5 -.1 .5 1.9 .5 -2.4 .5 2.7 .5 .1 .5 -2.2 .5 1.1 .5 -1.3 .5 1.5 .5 .9 .5 -.8 .5 1.9 .5 -2.7 .5 .9 .5 -.6 .5 .5 .5 2.6 .5 -3 .5 3 .5 -1.5 .5 -.2 .5 .2 .5 -.1 .5 -.8 .5 0 .5 -.8 .5 1.8 .5 -.6 .5 .3 .5 -2.6 .5 2.7
l.5 .7 .5 -.5 .5 -.8 .5 -.5 .5 -.3 .5 -1.9 .5 2.6 .5 -.8 .5 .8 .5 -2 .5 2.7 .5 -1.8 .5 1 .5 -2.5 .5 -.1 .5 -1.2 .5 .3 .5 -1.5 .5 -.4 .5 -.5 .5 -.9 .4 .3 .6 .2 .5 1.2 .5 -1.1 .5 4.1 .5 -.3 .5 .3 .5 .4 .5 -.1 .5 2.8 .5 -2.9 .5 2.5 .5 1.5 .5 -3.9 .5 4.4 .5 -2.8 .5 .8 .5 .4 .5 .3 .5 -3.6 .5 5.6 .5 -1 .5 -2.7 .5 -1.1 .5 .8 .5 1.5 .5 .6 .5 -1.1 .5 1.1 .5 -1.8 .5 -2 .5 5 .5 -3.8 .5 2.5 .5 -2.5 .5 1 .5 -1.3 .5 1.1 .5 -1.2
l.5 1.9 .5 -1.5 .5 .2 .5 1.9 .5 -1.1 .5 2 .5 -1.1 .5 -.9 .5 2.8 .5 -.2 .5 -1 .5 .3 .5 -.4 .5 .1 .5 -.9 .5 1.1 .5 -3.6 .5 2.4 .5 -1.8 .5 .9 .5 .6 .5 .9 .5 -1.4 .5 .8 .5 -1.4 .5 .3 .5 1.9 .5 -1.4 .5 .1 .5 .8 .5 .6 .5 -1.2 .5 -.5 .5 -.6 .5 .9 .5 1.7 .5 .6 .5 -2.6 .5 .1 .5 2.2 .5 -1.4 .5 .8 .5 -2.2 .5 -.2 .5 0 .5 -.2 .5 3.3 .5 -2.6 .5 1.5 .5 -.6 .5 -.7 .5 -1.8 .5 2.2 .5 -1.6 .5 1 .5 0 .5 -.5 .5 .7 .5 0 .5 -1.5
l.5 1.1 .5 .5 .5 1.1 .5 -1.3 .5 1.2 .5 -1.2 .5 .3 .5 -1.1 .5 1.1 .5 0 .5 -.5 .5 2 .5 -2 .5 1.5 .5 1.3 .5 -2.2 .5 .6 .5 -3.4 .5 2.7 .5 -.4 .5 .4 .5 -.1 .5 -.6 .5 -1.3 .5 2.3 .5 .4 .5 -3.3 .5 1.8 .5 1.7 .5 -2 .5 2 .5 -.2 .5 -1.6 .5 -.3 .5 1.2 .5 .4 .5 .6 .5 -.9 .5 -.9 .5 3.4 .5 -1.9 .5 .5 .5 -1.8 .5 -.6 .5 2.2 .5 1 .5 -.8 .5 -.3 .5 -.5 .5 -.3 .5 -.9 .5 .5 .5 -2.5 .5 1.9 .5 -1 .5 -.1 .5 -3.3 .5 -1.1 .5 -1.8 .5 -.7
l.5 1 .5 -3.5 .5 1.5 .6 -1 .4 -.1 .5 .8 .5 1.2 .5 2.1 .5 2.6 .5 .3 .5 2.1 .5 1.3 .5 .7 .5 -.3 .5 .6 .5 1.5 .5 -2.5 .5 1.4 .5 .2 .5 -2.9 .5 .9 .5 1.9 .5 -1.1 .5 -.5 .5 1.7 .5 1.2 .5 -3.7 .5 2 .5 -.5 .5 .2 .5 1.6 .5 -2 .5 1.3 .5 -.7 .5 .2 .5 .2 .5 -1 .5 -.7 .5 1.1 .5 -.2 .5 .5 .5 -.2 .5 -1.6 .5 .8 .5 .6 .5 -.3 .5 .3 .5 -1.2 .5 2.2 .5 1 .5 -3.2 .5 .5 .5 .2 .5 .9 .5 -.6 .5 -.9 .5 1.2 .5 -1 .5 1.5 .5 1.7
l.5 -2.2 .5 -.5 .5 1.7 .5 -1.2 .5 -.3 .5 .9 .5 2.2 .5 -1.9 .5 -1.8 .5 1.3 .5 .8 .5 -.3 .5 -.3 .5 .1 .5 -.5 .5 -1.8 .5 .4 .5 -2 .5 2.8 .5 -1.2 .5 .6 .5 -.2 .5 .3 .5 .7 .5 1 .5 -2.6 .5 -1.8 .5 1.7 .5 1.6 .5 -1.8 .5 .8 .5 -.4 .5 1.1 .5 .7 .5 -3.3 .5 4.6 .5 -1.9 .5 0 .5 .3 .5 .6 .5 .1 .5 .6 .5 -2.6 .5 1.3 .5 .1 .5 -2.5 .5 1.8 .5 -.9 .5 1.2 .5 -.4 .5 .5 .5 -1.2 .5 -.4 .5 -.1 .5 .8 .5 -.7 .5 -.3 .5 1.5 .5 -1.7 .5 1.9
l.5 -.3 .5 -.9 .5 -.3 .5 2 .5 -1.5 .5 1.6 .5 -.3 .5 -.8 .5 0 .5 -.9 .5 -1.2 .5 0 .5 1.1 .5 -1.2 .5 1.3 .5 -.2 .5 .1 .5 .7 .5 .1 .5 -.2 .5 -.4 .5 2.2 .5 -2.5 .5 2.3 .5 -1.7 .5 .2 .5 -1.2 .5 2.1 .5 -2.4 .5 2.3 .5 -2.3 .5 .2 .5 -1.6 .5 .1 .5 1.7 .5 -.7 .5 .3 .5 .9 .5 .3 .5 -2.3 .5 .2 .5 1.9 .5 -1.3 .5 -.6 .5 .3 .5 2 .5 -1.2 .5 1 .5 .7 .5 -1.9 .5 1.1 .5 -1.7"/>
</g>
<text x="1930.0" y="453.0" font-size="88.5" text-anchor="end">Mn-MOF-Cube</text>
<text x="1930.2" y="850.0" font-size="88.5" text-anchor="end">Mn-MOF-Rod</text>
<text x="1913.8" y="1137.0" font-size="88.5" text-anchor="end">Mn-MOF-Leaf</text>
<text x="1934.1" y="1345.0" font-size="88.5" text-anchor="end">Mn-MOF-Sphe</text>
<text x="382.8" y="1590" font-size="96" text-anchor="middle">10</text>
<text x="778.3" y="1590" font-size="96" text-anchor="middle">20</text>
<text x="1173.9" y="1590" font-size="96" text-anchor="middle">30</text>
<text x="1569.4" y="1590" font-size="96" text-anchor="middle">40</text>
<text x="1965.0" y="1590" font-size="96" text-anchor="middle">50</text>
<text x="1074" y="1766.6" font-size="122.5" text-anchor="middle">2θ (°)</text>
<text transform="translate(112.8,735.5) rotate(-90) scale(0.969,1)" font-size="122" text-anchor="middle">Intensity (a.u.)</text>
</svg>
</body></html>
